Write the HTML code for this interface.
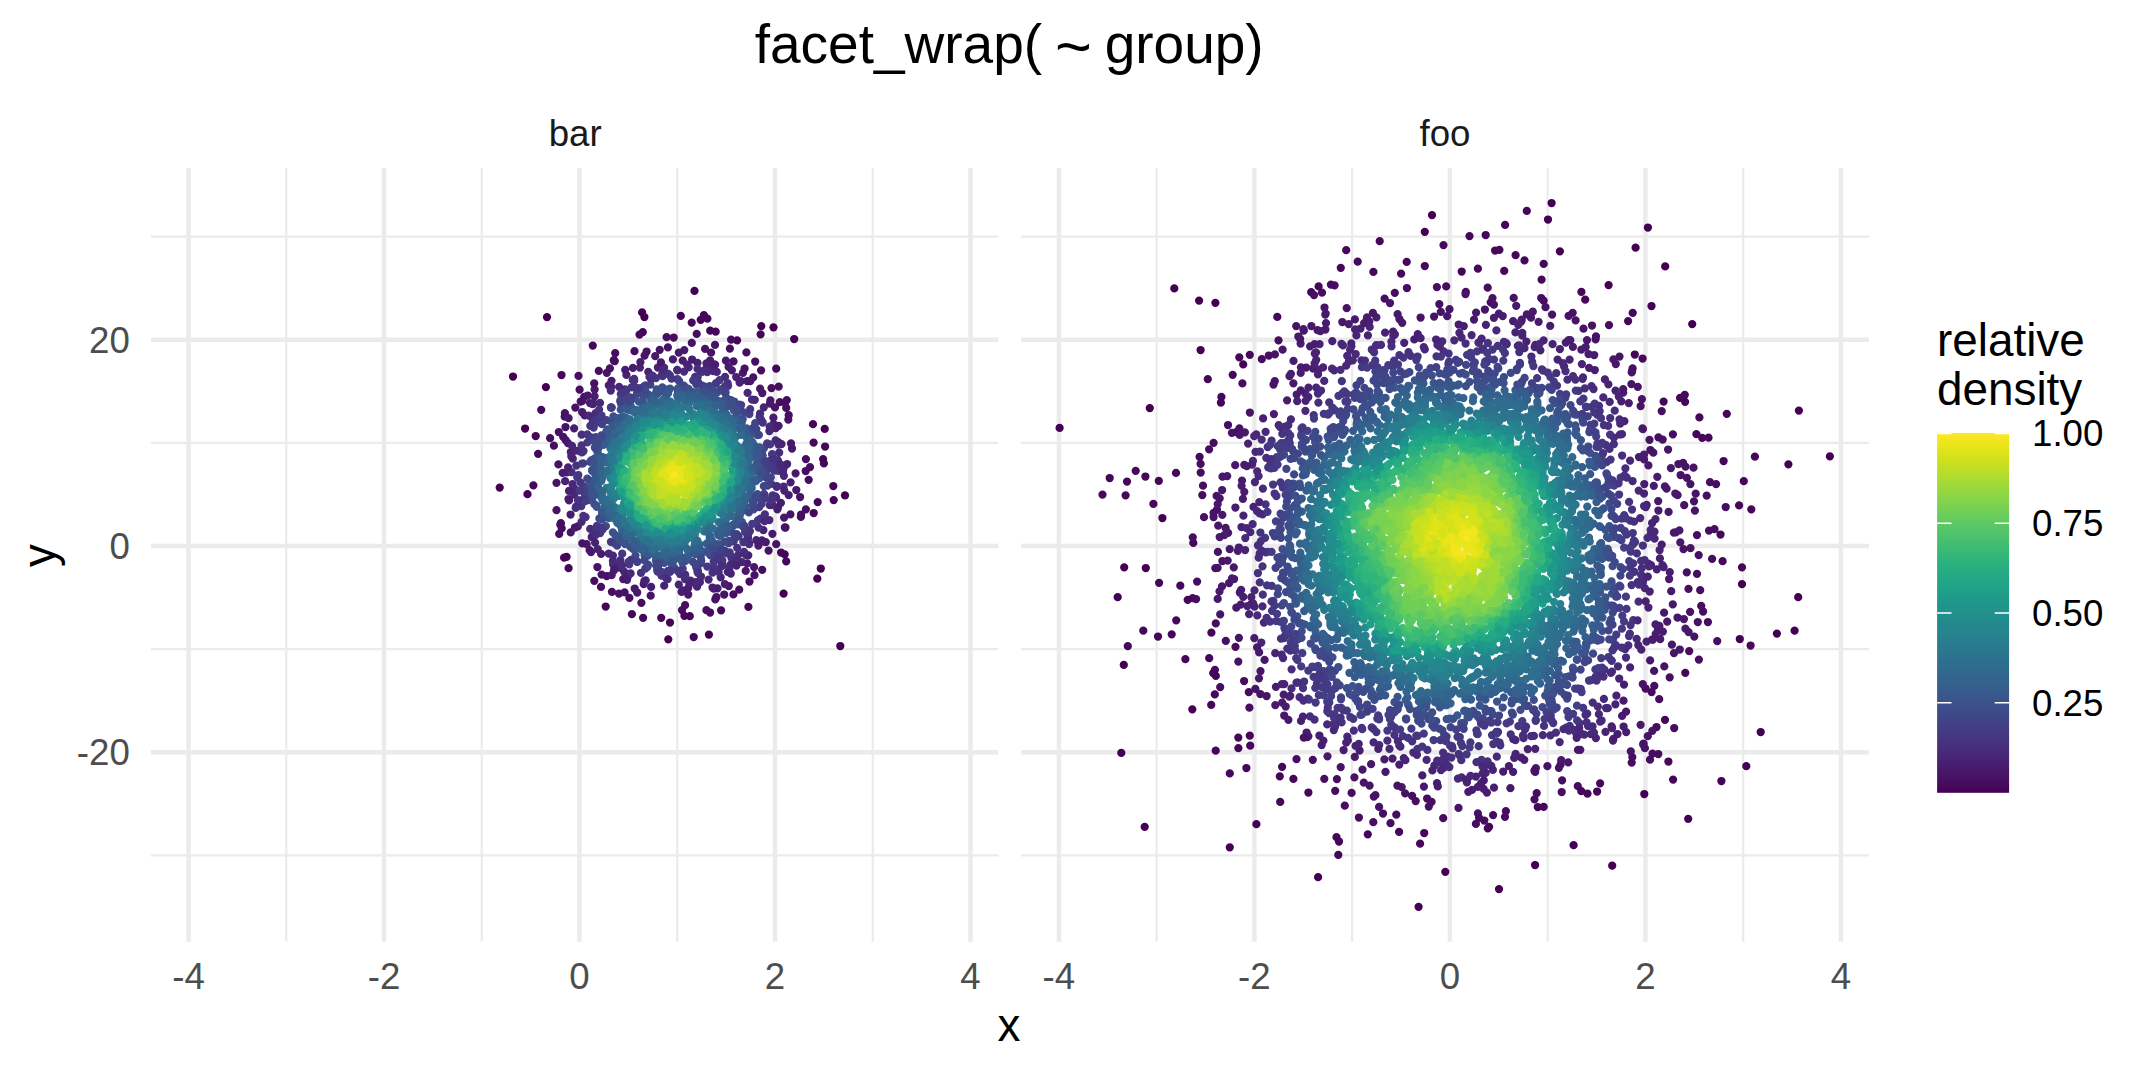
<!DOCTYPE html>
<html lang="en"><head><meta charset="utf-8"><title>facet_wrap( ~ group)</title>
<style>
html,body{margin:0;padding:0;background:#fff;overflow:hidden}
svg{display:block}
text{font-family:"Liberation Sans",Arial,Helvetica,sans-serif}
.dots path{fill:none;stroke-width:8.25;stroke-linecap:round}
.c0{stroke:#440154}
.c1{stroke:#46075a}
.c2{stroke:#470d60}
.c3{stroke:#471365}
.c4{stroke:#48186a}
.c5{stroke:#481d6f}
.c6{stroke:#482374}
.c7{stroke:#482878}
.c8{stroke:#472d7b}
.c9{stroke:#46327e}
.c10{stroke:#453781}
.c11{stroke:#443b84}
.c12{stroke:#424086}
.c13{stroke:#404588}
.c14{stroke:#3e4989}
.c15{stroke:#3d4e8a}
.c16{stroke:#3a538b}
.c17{stroke:#38588c}
.c18{stroke:#365c8d}
.c19{stroke:#34608d}
.c20{stroke:#32648e}
.c21{stroke:#31688e}
.c22{stroke:#2f6c8e}
.c23{stroke:#2d708e}
.c24{stroke:#2c738e}
.c25{stroke:#2a778e}
.c26{stroke:#297b8e}
.c27{stroke:#277f8e}
.c28{stroke:#26828e}
.c29{stroke:#24868e}
.c30{stroke:#238a8d}
.c31{stroke:#218e8d}
.c32{stroke:#20928c}
.c33{stroke:#1f968b}
.c34{stroke:#1f9a8a}
.c35{stroke:#1f9e89}
.c36{stroke:#1fa187}
.c37{stroke:#21a585}
.c38{stroke:#23a983}
.c39{stroke:#26ad81}
.c40{stroke:#2ab07f}
.c41{stroke:#2fb47c}
.c42{stroke:#35b779}
.c43{stroke:#3bbb75}
.c44{stroke:#42be71}
.c45{stroke:#4ac16d}
.c46{stroke:#52c569}
.c47{stroke:#5ac864}
.c48{stroke:#65cb5e}
.c49{stroke:#6ece58}
.c50{stroke:#77d153}
.c51{stroke:#81d34d}
.c52{stroke:#8bd646}
.c53{stroke:#95d840}
.c54{stroke:#a0da39}
.c55{stroke:#aadc32}
.c56{stroke:#b5de2b}
.c57{stroke:#c0df25}
.c58{stroke:#cae11f}
.c59{stroke:#d5e21a}
.c60{stroke:#dfe318}
.c61{stroke:#eae51a}
.c62{stroke:#f4e61e}
.c63{stroke:#fde725}
</style></head><body>
<svg width="2149" height="1074" viewBox="0 0 2149 1074">
<rect width="2149" height="1074" fill="#fff"/>
<defs><linearGradient id="vg" x1="0" y1="0" x2="0" y2="1">
<stop offset="0.0000" stop-color="#fde725"/>
<stop offset="0.0312" stop-color="#ece51b"/>
<stop offset="0.0625" stop-color="#d8e219"/>
<stop offset="0.0938" stop-color="#c2df23"/>
<stop offset="0.1250" stop-color="#addc30"/>
<stop offset="0.1562" stop-color="#98d83e"/>
<stop offset="0.1875" stop-color="#84d44b"/>
<stop offset="0.2188" stop-color="#70cf57"/>
<stop offset="0.2500" stop-color="#5ec962"/>
<stop offset="0.2812" stop-color="#4ec36b"/>
<stop offset="0.3125" stop-color="#3fbc73"/>
<stop offset="0.3438" stop-color="#32b67a"/>
<stop offset="0.3750" stop-color="#28ae80"/>
<stop offset="0.4062" stop-color="#22a785"/>
<stop offset="0.4375" stop-color="#1fa088"/>
<stop offset="0.4688" stop-color="#1f988b"/>
<stop offset="0.5000" stop-color="#21918c"/>
<stop offset="0.5312" stop-color="#23898e"/>
<stop offset="0.5625" stop-color="#26828e"/>
<stop offset="0.5938" stop-color="#297a8e"/>
<stop offset="0.6250" stop-color="#2c728e"/>
<stop offset="0.6562" stop-color="#2f6b8e"/>
<stop offset="0.6875" stop-color="#33638d"/>
<stop offset="0.7188" stop-color="#375b8d"/>
<stop offset="0.7500" stop-color="#3b528b"/>
<stop offset="0.7812" stop-color="#3e4989"/>
<stop offset="0.8125" stop-color="#424086"/>
<stop offset="0.8438" stop-color="#453781"/>
<stop offset="0.8750" stop-color="#472d7b"/>
<stop offset="0.9062" stop-color="#482374"/>
<stop offset="0.9375" stop-color="#48186a"/>
<stop offset="0.9688" stop-color="#470d60"/>
<stop offset="1.0000" stop-color="#440154"/>
</linearGradient></defs>
<g stroke="#ebebeb" fill="none">
<path d="M150.9 855.30H998.3" stroke-width="2.2"/>
<path d="M150.9 649.10H998.3" stroke-width="2.2"/>
<path d="M150.9 442.90H998.3" stroke-width="2.2"/>
<path d="M150.9 236.70H998.3" stroke-width="2.2"/>
<path d="M286.25 168.0V941.7" stroke-width="2.2"/>
<path d="M481.75 168.0V941.7" stroke-width="2.2"/>
<path d="M677.25 168.0V941.7" stroke-width="2.2"/>
<path d="M872.75 168.0V941.7" stroke-width="2.2"/>
<path d="M150.9 752.20H998.3" stroke-width="4.45"/>
<path d="M150.9 546.00H998.3" stroke-width="4.45"/>
<path d="M150.9 339.80H998.3" stroke-width="4.45"/>
<path d="M188.50 168.0V941.7" stroke-width="4.45"/>
<path d="M384.00 168.0V941.7" stroke-width="4.45"/>
<path d="M579.50 168.0V941.7" stroke-width="4.45"/>
<path d="M775.00 168.0V941.7" stroke-width="4.45"/>
<path d="M970.50 168.0V941.7" stroke-width="4.45"/>
<path d="M1021.1 855.30H1868.9" stroke-width="2.2"/>
<path d="M1021.1 649.10H1868.9" stroke-width="2.2"/>
<path d="M1021.1 442.90H1868.9" stroke-width="2.2"/>
<path d="M1021.1 236.70H1868.9" stroke-width="2.2"/>
<path d="M1156.65 168.0V941.7" stroke-width="2.2"/>
<path d="M1352.15 168.0V941.7" stroke-width="2.2"/>
<path d="M1547.65 168.0V941.7" stroke-width="2.2"/>
<path d="M1743.15 168.0V941.7" stroke-width="2.2"/>
<path d="M1021.1 752.20H1868.9" stroke-width="4.45"/>
<path d="M1021.1 546.00H1868.9" stroke-width="4.45"/>
<path d="M1021.1 339.80H1868.9" stroke-width="4.45"/>
<path d="M1058.90 168.0V941.7" stroke-width="4.45"/>
<path d="M1254.40 168.0V941.7" stroke-width="4.45"/>
<path d="M1449.90 168.0V941.7" stroke-width="4.45"/>
<path d="M1645.40 168.0V941.7" stroke-width="4.45"/>
<path d="M1840.90 168.0V941.7" stroke-width="4.45"/>
</g>
<g class="dots">
<path class="c0" d="M642.1 312.4h0M525.1 428.5h0M794.2 339.0h0M547.0 317.1h0"/>
<path class="c1" d="M737.1 340.3h0M721.1 610.3h0M823.1 459.1h0M592.8 345.6h0"/>
<path class="c2" d="M560.3 524.7h0M673.7 337.5h0M594.3 580.8h0M579.6 389.7h0"/>
<path class="c3" d="M601.6 574.6h0M716.4 597.0h0M667.9 347.4h0M691.8 342.9h0M650.7 595.7h0M558.8 432.0h0M584.2 396.9h0M733.5 361.4h0M606.7 576.0h0"/>
<path class="c4" d="M589.6 550.2h0M634.7 588.5h0M594.6 389.5h0M754.1 567.2h0"/>
<path class="c5" d="M611.5 380.8h0M717.5 588.3h0M632.9 367.9h0"/>
<path class="c6" d="M775.8 428.1h0M773.5 423.9h0M566.8 472.4h0"/>
<path class="c7" d="M716.8 371.9h0M778.3 442.2h0M620.7 564.4h0M699.9 582.2h0"/>
<path class="c8" d="M725.1 376.8h0M771.3 505.0h0M760.1 413.5h0M571.5 472.0h0M620.3 560.1h0"/>
<path class="c9" d="M661.5 575.7h0"/>
<path class="c10" d="M622.7 390.3h0M716.0 559.9h0M657.6 571.7h0M600.1 533.0h0M623.9 392.0h0"/>
<path class="c11" d="M752.2 523.9h0M677.4 379.0h0M597.2 526.8h0M584.7 493.2h0"/>
<path class="c12" d="M650.3 384.7h0M587.1 493.0h0"/>
<path class="c13" d="M757.5 435.1h0M637.0 393.5h0M744.3 412.6h0"/>
<path class="c14" d="M732.2 532.6h0M739.1 407.3h0"/>
<path class="c15" d="M661.3 561.2h0M720.7 544.3h0"/>
<path class="c16" d="M759.7 478.1h0M607.7 429.3h0M593.2 482.0h0M684.3 389.5h0M726.1 533.2h0M666.7 389.5h0"/>
<path class="c17" d="M647.8 555.6h0M644.6 555.4h0M692.5 392.1h0M746.7 428.4h0"/>
<path class="c18" d="M755.4 457.2h0M720.7 404.6h0M724.1 406.1h0M752.6 442.4h0M740.2 513.3h0M627.2 409.6h0M711.6 540.5h0M708.4 397.6h0M698.5 394.8h0"/>
<path class="c19" d="M606.3 511.3h0M654.3 553.9h0M626.8 537.8h0M661.9 555.5h0M641.2 548.3h0"/>
<path class="c20" d="M623.0 422.1h0M606.3 443.5h0M740.0 429.2h0M651.8 402.1h0M599.9 475.2h0"/>
<path class="c21" d="M664.5 401.8h0M648.7 406.2h0M675.8 551.2h0M724.4 521.8h0M602.5 471.5h0M703.7 402.8h0M603.0 500.9h0M645.6 406.7h0"/>
<path class="c22" d="M695.2 544.3h0M605.7 503.5h0M670.3 401.5h0M748.9 449.9h0M648.6 547.8h0"/>
<path class="c23" d="M668.9 405.1h0M609.9 506.2h0M719.9 522.8h0M660.8 406.6h0M610.5 448.6h0M744.7 446.5h0M744.4 446.9h0M745.2 457.2h0M638.5 539.7h0"/>
<path class="c24" d="M606.9 500.6h0M743.7 454.8h0M742.4 488.7h0M673.8 404.3h0"/>
<path class="c25" d="M645.2 537.0h0M732.7 503.6h0M614.6 508.8h0M743.4 456.8h0M636.7 532.2h0M618.6 512.7h0M618.1 441.0h0M618.9 513.7h0M612.9 505.6h0M738.9 492.3h0M616.8 443.5h0"/>
<path class="c26" d="M621.8 437.3h0M740.3 485.5h0M725.1 426.8h0"/>
<path class="c27" d="M664.8 413.0h0M685.2 537.4h0M636.6 422.5h0M611.5 469.6h0M680.6 410.9h0M646.6 535.2h0M670.2 542.5h0M709.4 523.4h0"/>
<path class="c28" d="M734.7 447.9h0M639.1 423.0h0M621.5 509.3h0M664.6 418.0h0M666.4 539.2h0M659.8 538.8h0"/>
<path class="c29" d="M685.9 532.7h0M724.9 504.9h0M629.2 434.1h0M685.0 532.6h0M686.7 416.6h0M728.3 436.2h0M669.6 416.0h0M736.3 486.3h0"/>
<path class="c30" d="M638.9 525.6h0M653.4 420.7h0M728.2 440.2h0M690.3 528.8h0M624.5 509.0h0M674.5 536.9h0"/>
<path class="c31" d="M616.3 472.4h0M649.1 422.3h0M736.8 478.6h0M619.7 495.9h0M672.5 420.0h0M681.8 417.8h0"/>
<path class="c32" d="M694.3 418.5h0"/>
<path class="c33" d="M696.2 523.2h0M705.9 422.5h0"/>
<path class="c34" d="M679.9 422.6h0M645.0 429.1h0"/>
<path class="c35" d="M633.7 441.7h0M674.7 423.5h0M713.7 432.3h0M723.9 496.7h0M678.5 529.9h0"/>
<path class="c37" d="M714.5 506.4h0M687.3 425.5h0M731.2 461.8h0"/>
<path class="c38" d="M629.5 504.2h0M633.3 509.7h0M622.8 460.5h0"/>
<path class="c39" d="M673.3 525.6h0M730.5 463.1h0M730.8 466.4h0M694.3 428.6h0M725.7 450.4h0"/>
<path class="c40" d="M629.3 450.6h0M712.2 506.1h0M622.5 475.5h0"/>
<path class="c41" d="M624.0 490.0h0M638.3 446.0h0"/>
<path class="c42" d="M672.8 523.2h0M632.0 451.4h0M693.2 431.2h0"/>
<path class="c44" d="M719.5 487.7h0M650.3 518.7h0M709.5 503.6h0M630.6 485.2h0"/>
<path class="c45" d="M685.0 435.4h0M667.2 520.9h0M634.9 456.6h0M630.7 489.2h0"/>
<path class="c46" d="M717.1 491.6h0M639.9 453.5h0M643.2 451.0h0M672.1 433.7h0"/>
<path class="c47" d="M633.4 461.1h0M639.6 505.0h0M631.1 475.5h0M688.6 439.4h0M686.2 512.7h0M705.2 502.6h0M674.3 435.5h0"/>
<path class="c48" d="M719.7 472.8h0M702.6 501.4h0M653.7 441.9h0M710.2 493.6h0M710.9 449.0h0M635.6 461.6h0M719.8 475.6h0"/>
<path class="c49" d="M645.9 452.9h0M697.9 506.4h0M635.7 473.2h0M638.2 498.1h0"/>
<path class="c50" d="M709.9 490.4h0M640.0 466.7h0M713.6 482.2h0"/>
<path class="c51" d="M708.2 490.7h0M709.5 458.3h0M701.6 452.2h0M656.5 507.1h0M663.0 442.8h0M717.0 472.1h0M661.5 444.9h0M712.4 462.1h0M713.6 481.0h0"/>
<path class="c52" d="M651.6 457.3h0M714.3 473.1h0M663.8 445.2h0M667.0 507.5h0"/>
<path class="c53" d="M643.4 471.6h0M656.5 455.3h0M677.8 507.0h0M692.6 499.6h0M661.5 506.4h0M656.4 504.7h0M711.5 475.9h0M657.1 454.5h0M700.3 453.8h0M665.0 504.3h0M653.4 458.6h0M677.3 508.0h0M702.7 489.1h0M647.7 490.2h0"/>
<path class="c54" d="M705.2 486.6h0M695.7 497.1h0M688.5 502.7h0M655.4 498.7h0"/>
<path class="c55" d="M684.3 449.2h0M699.7 464.5h0M648.5 485.7h0M654.9 497.3h0M648.6 474.7h0M707.1 477.3h0M688.1 452.9h0M689.0 455.8h0M705.7 477.6h0M708.9 469.4h0"/>
<path class="c56" d="M688.9 454.6h0M687.2 499.4h0M685.0 499.9h0M686.9 453.3h0M652.7 490.6h0M701.3 467.2h0"/>
<path class="c57" d="M659.2 485.8h0M700.6 470.6h0M650.5 474.0h0M675.0 495.2h0M701.4 477.7h0M651.6 478.9h0M692.9 489.3h0M665.9 495.3h0"/>
<path class="c58" d="M689.0 461.0h0M662.9 487.3h0M683.1 488.8h0M683.7 484.7h0M655.3 474.3h0M687.5 492.5h0M657.4 484.4h0"/>
<path class="c59" d="M678.1 459.0h0M680.6 463.6h0M690.1 472.9h0M689.0 475.2h0"/>
<path class="c60" d="M668.7 466.1h0M668.0 469.6h0M670.9 482.2h0"/>
<path class="c61" d="M680.9 478.5h0M682.4 472.8h0M674.7 480.4h0M675.3 477.8h0"/>
<path class="c62" d="M676.2 475.9h0M675.8 476.2h0M672.8 476.2h0"/>
<path class="c62" d="M679.4 469.2h0"/>
<path class="c61" d="M667.2 476.8h0M679.5 479.4h0M673.2 478.8h0M680.8 473.0h0"/>
<path class="c60" d="M668.5 483.9h0M666.9 481.1h0M686.6 473.4h0M665.0 467.3h0"/>
<path class="c59" d="M690.8 481.4h0M676.2 487.5h0M660.3 473.7h0M664.4 479.6h0M666.5 464.9h0"/>
<path class="c58" d="M687.0 487.7h0M689.0 468.0h0M656.9 473.1h0M668.7 458.9h0M667.4 490.1h0M664.6 488.4h0M693.2 485.1h0M653.6 475.2h0M698.6 477.2h0M685.4 461.5h0M653.9 479.9h0M656.6 483.1h0M689.9 484.7h0M686.8 490.8h0M672.1 491.4h0"/>
<path class="c57" d="M674.2 498.0h0M683.3 456.8h0M673.0 497.2h0M697.4 485.7h0M699.3 478.4h0M694.6 467.9h0M653.8 471.8h0M674.5 498.6h0M650.4 473.8h0M680.3 458.1h0"/>
<path class="c56" d="M700.9 482.6h0M658.5 461.2h0"/>
<path class="c55" d="M651.5 465.0h0M697.3 489.6h0M671.7 452.0h0M645.2 481.6h0M697.9 458.0h0M644.9 479.5h0M680.2 502.5h0M651.7 467.6h0"/>
<path class="c54" d="M643.6 479.2h0"/>
<path class="c53" d="M700.6 453.8h0M651.4 499.4h0M643.3 469.8h0M661.5 504.8h0M644.4 488.4h0"/>
<path class="c52" d="M641.3 486.5h0M642.2 489.6h0M714.6 466.5h0M699.1 451.0h0M692.8 504.4h0M656.1 450.3h0"/>
<path class="c51" d="M711.5 461.5h0M651.3 451.8h0M711.4 482.2h0M653.2 451.5h0M673.1 441.8h0M640.8 492.5h0"/>
<path class="c50" d="M717.1 471.9h0M664.9 442.3h0M689.6 508.7h0M714.8 479.9h0M701.9 446.2h0M715.6 479.6h0M692.0 443.9h0M649.7 504.6h0"/>
<path class="c49" d="M636.0 482.1h0M676.0 511.7h0M701.3 500.8h0M687.2 510.2h0M715.2 483.8h0M684.2 511.4h0"/>
<path class="c48" d="M719.5 475.2h0M635.9 461.6h0M664.7 516.9h0"/>
<path class="c47" d="M634.6 488.8h0M652.6 515.1h0M722.2 476.7h0M650.0 446.2h0M634.6 491.6h0M721.8 467.8h0"/>
<path class="c46" d="M710.6 495.8h0M654.8 518.5h0M716.7 491.9h0M659.7 518.2h0M647.0 447.6h0"/>
<path class="c45" d="M633.0 457.4h0M633.3 457.2h0M688.5 437.4h0M707.4 503.7h0"/>
<path class="c44" d="M646.4 445.3h0M683.6 434.0h0M632.9 494.3h0M644.7 447.2h0"/>
<path class="c43" d="M668.7 522.6h0M721.2 487.4h0M726.8 477.8h0M669.7 429.8h0M633.5 452.7h0"/>
<path class="c42" d="M665.0 524.3h0M634.7 506.3h0M655.1 524.5h0M636.6 507.0h0M706.6 508.9h0M630.2 498.1h0"/>
<path class="c41" d="M649.8 435.2h0M691.8 432.2h0M703.6 511.6h0M624.7 471.1h0M661.0 430.0h0M640.7 444.3h0M664.6 525.0h0M690.6 430.0h0M630.6 501.6h0"/>
<path class="c40" d="M705.4 432.4h0M642.9 519.7h0"/>
<path class="c39" d="M701.0 515.7h0M687.9 521.9h0M661.5 528.3h0M626.9 496.8h0M647.4 523.7h0"/>
<path class="c38" d="M651.1 430.1h0M723.4 494.0h0M624.4 492.8h0M664.0 528.4h0M692.0 426.6h0M687.6 522.4h0"/>
<path class="c37" d="M730.4 460.2h0M707.3 513.7h0M653.5 527.6h0"/>
<path class="c36" d="M619.1 482.3h0M725.3 446.5h0"/>
<path class="c35" d="M646.9 426.4h0M643.1 431.8h0M716.8 433.5h0"/>
<path class="c34" d="M697.3 521.5h0M692.7 524.5h0"/>
<path class="c33" d="M679.4 531.1h0"/>
<path class="c32" d="M645.4 425.4h0M673.0 532.2h0M642.5 427.7h0M730.3 451.0h0M705.7 518.9h0"/>
<path class="c31" d="M693.6 418.3h0M705.5 519.8h0M703.9 418.5h0M736.4 467.2h0M710.8 517.2h0"/>
<path class="c30" d="M727.2 437.1h0M729.5 444.6h0M719.2 428.0h0M625.5 510.0h0"/>
<path class="c29" d="M720.1 512.4h0M729.7 441.7h0M678.3 414.3h0M719.8 512.7h0M676.1 538.8h0M617.9 451.1h0"/>
<path class="c28" d="M736.6 449.7h0M614.0 498.4h0"/>
<path class="c27" d="M625.0 434.1h0M734.0 441.9h0M646.1 417.0h0M611.7 467.7h0M610.5 478.3h0"/>
<path class="c26" d="M632.8 424.3h0M629.7 428.8h0M633.3 527.2h0"/>
<path class="c25" d="M615.3 507.5h0M665.8 410.2h0M612.6 452.6h0M735.9 436.7h0M655.5 543.6h0M664.9 545.8h0M686.3 539.9h0"/>
<path class="c24" d="M742.0 493.3h0M667.4 405.4h0M730.7 510.0h0M607.8 499.7h0M626.0 524.4h0M744.7 458.8h0"/>
<path class="c23" d="M605.3 473.7h0M737.8 499.3h0M653.1 407.2h0M697.3 404.7h0"/>
<path class="c22" d="M748.7 465.9h0M628.0 419.1h0M643.8 410.8h0M636.7 414.2h0"/>
<path class="c21" d="M622.8 527.2h0"/>
<path class="c20" d="M748.0 438.9h0M686.1 397.5h0M753.2 471.9h0M709.8 536.2h0M743.5 500.5h0"/>
<path class="c19" d="M718.5 533.0h0M753.1 453.7h0M738.8 423.2h0M708.5 399.2h0M735.8 517.1h0M690.8 552.7h0M710.3 538.4h0"/>
<path class="c18" d="M741.9 511.2h0M675.6 556.5h0M723.5 529.3h0M709.3 397.7h0M702.2 398.2h0M735.7 418.5h0M750.1 493.8h0"/>
<path class="c17" d="M745.8 506.3h0M735.3 523.2h0M613.8 423.7h0"/>
<path class="c16" d="M685.6 560.9h0M605.1 436.7h0M595.9 457.8h0M593.7 495.2h0M670.4 561.2h0M602.8 438.0h0M761.0 469.5h0"/>
<path class="c15" d="M593.8 459.1h0M599.0 444.3h0M685.5 387.3h0M592.4 492.4h0M611.6 422.0h0"/>
<path class="c14" d="M715.2 392.3h0M748.8 512.4h0M683.8 385.6h0M634.5 398.4h0M621.3 404.6h0"/>
<path class="c13" d="M764.0 448.1h0M595.8 437.1h0M606.4 420.0h0"/>
<path class="c12" d="M709.8 386.2h0M645.6 385.3h0M630.9 397.6h0M679.2 381.1h0"/>
<path class="c11" d="M658.7 570.2h0M771.1 483.9h0M759.1 507.2h0M761.5 504.0h0M596.9 525.8h0"/>
<path class="c10" d="M677.6 570.8h0M670.0 375.4h0"/>
<path class="c9" d="M778.5 470.9h0M595.9 529.8h0M761.1 419.6h0M731.4 557.8h0M680.1 574.0h0M594.6 529.9h0"/>
<path class="c8" d="M684.0 371.6h0M595.5 413.3h0M575.7 507.8h0M738.1 555.2h0"/>
<path class="c7" d="M608.8 553.5h0M572.9 491.6h0"/>
<path class="c6" d="M740.9 381.2h0M739.6 382.6h0M697.5 362.8h0M664.2 585.7h0M657.9 367.5h0M639.9 367.6h0"/>
<path class="c5" d="M788.7 495.1h0M681.6 591.9h0M761.9 540.3h0M608.8 385.3h0M710.1 360.5h0M582.1 412.0h0M567.9 443.0h0M682.7 360.7h0"/>
<path class="c4" d="M577.8 526.4h0M688.2 594.5h0M728.8 586.0h0M760.1 388.7h0M587.7 395.5h0"/>
<path class="c3" d="M580.7 401.5h0M556.5 510.2h0M659.7 349.8h0M715.3 599.4h0M790.4 514.4h0M775.0 407.4h0"/>
<path class="c2" d="M559.2 533.9h0M710.1 612.5h0M611.9 591.8h0M550.1 438.2h0M685.1 605.2h0"/>
<path class="c1" d="M670.0 622.5h0M813.6 442.6h0M825.1 446.5h0M561.5 375.0h0M566.6 556.8h0"/>
<path class="c0" d="M708.9 634.6h0"/>
<path class="c0" d="M773.5 327.3h0"/>
<path class="c1" d="M817.7 502.1h0M833.3 486.0h0M786.2 561.3h0"/>
<path class="c2" d="M733.4 594.4h0M682.0 610.1h0M560.9 523.2h0M641.4 602.8h0M771.5 388.1h0M805.9 509.3h0M746.4 352.4h0M601.0 586.9h0"/>
<path class="c3" d="M788.3 419.6h0M724.2 594.5h0M564.7 416.7h0M705.1 348.9h0M776.2 544.1h0M785.5 527.5h0"/>
<path class="c4" d="M792.0 448.5h0M637.2 592.5h0M796.3 490.0h0"/>
<path class="c5" d="M688.3 587.8h0M643.7 584.1h0M777.4 509.3h0M715.1 364.7h0M731.9 370.3h0"/>
<path class="c6" d="M569.1 500.4h0M756.3 540.2h0M727.8 571.9h0M763.4 530.1h0M736.2 377.0h0M711.7 364.9h0"/>
<path class="c7" d="M574.2 494.6h0M775.6 440.4h0M581.6 521.8h0M690.9 581.9h0M690.6 580.7h0M706.8 368.0h0M572.8 458.7h0"/>
<path class="c8" d="M662.9 372.0h0M758.6 527.7h0M722.7 565.2h0M749.1 543.1h0M707.3 372.1h0M769.7 505.2h0"/>
<path class="c9" d="M641.0 572.9h0M713.9 567.3h0M581.3 506.0h0M731.7 556.8h0"/>
<path class="c10" d="M620.8 394.1h0M583.7 499.1h0M728.1 385.8h0M662.6 376.2h0M610.9 541.8h0M774.7 467.2h0"/>
<path class="c11" d="M645.4 568.5h0M770.1 460.7h0M733.6 541.4h0"/>
<path class="c12" d="M749.4 414.1h0M700.8 563.0h0M585.0 491.0h0M715.4 555.3h0M695.9 381.4h0M736.7 534.1h0"/>
<path class="c13" d="M756.3 429.1h0M588.8 500.2h0M701.3 560.8h0M658.3 565.6h0"/>
<path class="c14" d="M641.2 393.3h0M713.0 389.7h0M590.1 461.9h0M705.7 388.7h0M764.2 467.2h0"/>
<path class="c15" d="M630.5 546.9h0M655.9 560.7h0M613.4 416.3h0M632.9 548.9h0M662.3 387.3h0M760.9 457.9h0M592.1 470.8h0M733.5 405.5h0M656.7 389.3h0M664.3 562.9h0"/>
<path class="c16" d="M593.7 460.0h0M755.4 496.0h0M738.4 524.3h0M648.6 394.6h0"/>
<path class="c17" d="M711.5 542.0h0M750.8 499.0h0M700.8 551.6h0M642.8 400.6h0M689.7 391.9h0"/>
<path class="c18" d="M720.2 535.9h0"/>
<path class="c19" d="M709.7 538.8h0M654.6 553.9h0M651.2 401.3h0"/>
<path class="c20" d="M643.7 549.1h0M726.6 414.7h0M604.7 507.2h0M623.7 532.3h0M623.8 418.4h0M601.3 497.7h0M725.4 522.6h0M626.2 417.8h0"/>
<path class="c21" d="M731.2 422.1h0M722.4 413.7h0M602.5 499.6h0M613.7 438.5h0M721.6 412.8h0M746.6 443.1h0"/>
<path class="c22" d="M614.0 438.9h0M725.9 418.3h0M626.3 421.6h0M605.4 471.1h0M710.1 406.9h0"/>
<path class="c23" d="M714.3 412.4h0M621.0 520.4h0M617.1 438.8h0M720.2 417.1h0M694.5 540.2h0M656.2 547.1h0M689.6 402.6h0M642.2 540.3h0M648.3 409.2h0"/>
<path class="c24" d="M608.0 474.1h0M654.8 544.9h0"/>
<path class="c25" d="M637.9 418.4h0M621.0 516.6h0M686.9 406.7h0M623.3 519.4h0M688.0 537.9h0M627.1 428.0h0M719.8 420.1h0M739.4 490.3h0M640.3 416.7h0"/>
<path class="c26" d="M741.9 480.3h0M725.8 427.1h0M689.1 536.6h0M737.9 491.6h0M693.1 536.6h0M666.1 412.9h0M649.3 415.2h0M694.8 534.8h0M732.5 499.5h0"/>
<path class="c27" d="M662.0 415.8h0M620.5 510.3h0M622.5 514.5h0M739.6 453.1h0M611.2 474.9h0"/>
<path class="c28" d="M667.5 418.2h0M734.7 491.8h0M662.2 538.9h0M735.4 490.4h0M616.2 495.8h0"/>
<path class="c29" d="M733.6 446.4h0M739.4 467.0h0M640.0 527.8h0M736.8 463.2h0"/>
<path class="c30" d="M658.7 418.5h0M651.0 421.2h0M719.3 510.5h0M692.8 415.7h0"/>
<path class="c31" d="M672.7 418.4h0M620.2 453.9h0M620.2 457.2h0M667.1 534.2h0M703.7 519.8h0"/>
<path class="c32" d="M722.8 436.2h0M616.7 464.0h0"/>
<path class="c33" d="M725.7 496.0h0"/>
<path class="c34" d="M629.0 508.5h0M728.3 493.2h0M719.2 504.4h0"/>
<path class="c35" d="M619.0 490.8h0M620.3 460.9h0"/>
<path class="c36" d="M623.5 495.8h0"/>
<path class="c37" d="M674.0 424.9h0M731.8 478.3h0M701.7 425.8h0M620.1 482.4h0"/>
<path class="c38" d="M684.1 524.2h0M677.8 426.2h0M670.8 527.6h0"/>
<path class="c39" d="M718.8 438.8h0"/>
<path class="c40" d="M691.9 427.9h0M722.9 492.0h0M638.6 512.8h0M674.5 428.7h0"/>
<path class="c41" d="M694.1 430.7h0M653.7 524.8h0M638.7 445.1h0M709.3 506.6h0"/>
<path class="c42" d="M681.3 431.5h0M638.9 509.4h0"/>
<path class="c43" d="M661.5 431.6h0M681.4 433.0h0M638.6 449.1h0M697.1 434.9h0"/>
<path class="c44" d="M634.0 502.0h0M649.4 438.1h0M725.1 479.1h0M722.8 463.8h0"/>
<path class="c45" d="M673.9 433.3h0M725.0 464.5h0M679.7 520.0h0"/>
<path class="c46" d="M631.8 461.1h0M724.0 468.8h0M722.8 470.0h0M658.6 437.4h0M711.4 494.2h0M711.3 444.0h0"/>
<path class="c47" d="M722.9 466.1h0M673.9 515.9h0M695.4 438.7h0M644.7 451.2h0"/>
<path class="c48" d="M712.4 451.2h0M680.4 438.3h0M635.5 467.1h0M636.2 488.7h0M703.2 444.5h0M689.6 510.5h0"/>
<path class="c49" d="M706.9 450.5h0M693.0 441.8h0M648.1 506.1h0M635.7 471.9h0M683.5 440.4h0M682.6 440.2h0"/>
<path class="c50" d="M667.2 511.2h0M697.4 505.5h0M700.9 448.0h0"/>
<path class="c51" d="M701.4 497.9h0M655.8 447.8h0M649.0 502.9h0M687.8 442.2h0M713.4 481.1h0M638.0 472.0h0"/>
<path class="c52" d="M679.8 444.1h0M710.5 483.2h0M646.8 465.0h0M696.2 448.8h0M646.6 464.3h0M665.3 508.4h0M686.8 446.5h0M641.2 467.2h0M704.0 495.1h0"/>
<path class="c53" d="M684.9 506.6h0M646.5 494.2h0M641.8 483.5h0M655.7 502.8h0M704.0 489.4h0M708.9 462.9h0M697.9 496.9h0M655.2 456.2h0M668.7 507.5h0M645.8 468.3h0M644.5 472.9h0"/>
<path class="c54" d="M705.6 464.0h0M662.1 502.3h0"/>
<path class="c55" d="M651.1 489.6h0M690.1 497.9h0M704.9 479.4h0M690.6 453.1h0M654.3 497.2h0M686.4 449.9h0M662.8 454.1h0M685.6 451.1h0"/>
<path class="c56" d="M654.0 492.2h0M687.3 455.4h0M688.8 458.0h0M656.6 462.9h0M662.5 457.2h0M657.4 491.0h0M683.2 452.1h0M695.0 488.9h0M691.6 494.0h0M659.8 497.1h0M696.9 465.2h0"/>
<path class="c57" d="M689.1 492.2h0M661.6 466.0h0M701.8 470.9h0M699.1 468.4h0M673.9 495.5h0"/>
<path class="c58" d="M682.4 492.7h0M685.2 485.3h0M689.3 484.2h0M657.4 474.4h0M675.4 458.0h0M683.6 484.9h0M697.5 476.9h0"/>
<path class="c59" d="M675.8 487.5h0M671.6 463.4h0M687.3 472.2h0"/>
<path class="c60" d="M685.5 468.2h0M664.9 468.2h0M682.9 473.8h0M689.6 474.9h0M672.9 482.4h0"/>
<path class="c61" d="M673.3 469.2h0M676.8 482.9h0"/>
<path class="c62" d="M673.2 472.9h0"/>
<path class="c62" d="M674.8 476.9h0"/>
<path class="c61" d="M677.2 471.1h0M673.3 479.4h0M665.2 475.0h0M682.5 477.3h0M676.4 481.0h0M667.8 478.3h0"/>
<path class="c60" d="M676.8 480.2h0M669.2 468.8h0M676.7 469.0h0M672.9 468.6h0"/>
<path class="c59" d="M676.5 464.8h0M675.0 488.7h0M682.1 482.6h0M674.7 462.7h0M693.2 471.2h0M676.5 457.7h0"/>
<path class="c58" d="M656.6 481.7h0M686.7 484.8h0M689.9 485.7h0M681.5 491.3h0M653.4 480.6h0M660.7 478.1h0M695.1 475.2h0M674.2 461.0h0M679.5 459.2h0M657.6 479.6h0M664.6 460.9h0"/>
<path class="c57" d="M665.0 495.6h0M672.0 492.5h0M692.1 460.9h0M691.8 466.0h0M650.9 474.5h0M673.9 498.8h0M688.8 493.4h0M658.2 487.1h0M674.9 495.6h0"/>
<path class="c56" d="M700.1 466.2h0M660.3 460.8h0M695.6 462.5h0M659.1 466.9h0M658.9 496.0h0M663.3 454.6h0M679.1 451.5h0M675.2 500.1h0M649.6 477.3h0M676.4 496.7h0"/>
<path class="c55" d="M704.9 469.2h0M698.8 489.3h0M687.3 451.5h0M652.6 494.9h0M695.4 493.3h0"/>
<path class="c54" d="M662.9 502.5h0M651.1 465.0h0M663.6 504.0h0M642.4 480.6h0M710.5 467.8h0"/>
<path class="c53" d="M644.1 474.1h0M689.9 446.8h0M663.0 505.4h0M662.9 447.9h0M702.2 455.6h0M669.6 507.8h0M709.1 480.4h0M679.4 445.1h0M710.2 466.6h0M675.1 444.6h0M700.2 454.7h0M653.4 455.5h0"/>
<path class="c52" d="M700.7 495.4h0M650.5 499.3h0M711.7 465.7h0M714.6 472.2h0"/>
<path class="c51" d="M710.7 458.3h0M677.8 510.6h0M686.9 443.0h0M651.7 452.2h0M644.4 460.6h0M662.8 443.4h0"/>
<path class="c50" d="M663.6 512.1h0M712.0 486.4h0M648.7 452.5h0"/>
<path class="c49" d="M637.3 463.8h0M708.7 495.5h0M714.0 459.2h0M634.5 476.7h0M644.3 454.0h0M638.6 486.4h0"/>
<path class="c48" d="M718.6 481.2h0M712.8 454.8h0M677.8 513.5h0M639.5 501.9h0M720.5 470.7h0M634.4 469.3h0M654.8 515.6h0"/>
<path class="c47" d="M703.5 502.3h0M633.3 466.4h0M645.3 449.7h0M722.9 471.9h0M714.2 447.6h0M669.8 516.2h0M678.6 515.7h0"/>
<path class="c46" d="M658.5 436.5h0M644.9 449.3h0M649.7 441.5h0M705.1 440.0h0"/>
<path class="c45" d="M712.2 495.8h0M633.8 457.1h0M689.7 515.9h0"/>
<path class="c44" d="M628.9 472.2h0M651.9 437.6h0M665.5 520.8h0M709.1 439.4h0M718.9 450.8h0M641.8 512.6h0"/>
<path class="c43" d="M719.9 449.0h0"/>
<path class="c42" d="M697.9 433.9h0M717.2 441.6h0M727.4 463.6h0M724.1 455.4h0M634.8 451.3h0"/>
<path class="c41" d="M630.0 453.2h0M713.1 504.4h0M729.8 466.1h0M623.6 470.0h0M721.3 493.5h0M726.0 460.0h0"/>
<path class="c40" d="M657.2 430.0h0M695.2 517.2h0M675.0 428.0h0M627.9 498.0h0M664.9 428.5h0"/>
<path class="c39" d="M685.8 427.5h0M623.2 461.6h0M656.1 527.5h0"/>
<path class="c38" d="M723.1 444.4h0M691.9 424.3h0"/>
<path class="c37" d="M623.3 494.2h0M622.0 468.6h0M620.4 480.3h0"/>
<path class="c36" d="M720.3 438.8h0"/>
<path class="c35" d="M619.4 469.9h0M619.0 490.8h0M635.6 439.9h0M688.1 526.5h0M713.3 430.5h0"/>
<path class="c34" d="M656.8 423.4h0M679.7 421.5h0M639.9 431.7h0"/>
<path class="c33" d="M618.5 475.4h0M681.7 421.6h0M723.4 438.7h0M707.6 515.8h0"/>
<path class="c32" d="M657.5 531.7h0M628.3 443.7h0M734.5 465.3h0"/>
<path class="c31" d="M660.5 420.0h0M721.7 432.2h0M736.2 471.7h0M619.7 494.6h0M720.8 431.4h0"/>
<path class="c30" d="M633.9 432.2h0"/>
<path class="c29" d="M712.4 519.1h0M723.8 430.7h0M682.8 415.8h0M645.4 533.0h0M684.4 533.9h0M713.7 422.0h0"/>
<path class="c28" d="M721.2 426.7h0M727.6 432.3h0M664.7 538.7h0M734.9 447.6h0"/>
<path class="c27" d="M737.6 487.7h0M675.0 541.7h0M611.0 469.1h0M738.2 488.1h0"/>
<path class="c26" d="M650.2 414.5h0M661.8 543.1h0M669.9 544.9h0M647.6 536.6h0M623.8 432.7h0M708.5 413.5h0M641.7 417.4h0"/>
<path class="c25" d="M609.5 461.4h0M741.5 449.9h0M610.4 458.8h0"/>
<path class="c24" d="M676.6 403.9h0M696.7 406.2h0M663.8 547.0h0"/>
<path class="c23" d="M670.1 549.1h0M749.2 477.7h0M703.4 406.5h0M619.5 431.9h0"/>
<path class="c22" d="M750.9 475.5h0M607.6 506.1h0M688.1 400.4h0M609.3 509.0h0"/>
<path class="c21" d="M751.2 468.9h0M665.2 402.1h0M748.2 488.0h0M601.1 470.0h0"/>
<path class="c20" d="M742.8 504.2h0M720.0 529.7h0M653.1 401.1h0M646.1 405.6h0"/>
<path class="c19" d="M744.6 500.6h0M710.4 400.5h0M698.8 396.7h0M598.4 469.1h0M608.9 518.0h0M630.1 410.4h0M751.0 440.9h0"/>
<path class="c18" d="M737.3 517.8h0M720.9 404.5h0M747.9 497.9h0M756.2 466.1h0"/>
<path class="c17" d="M710.9 544.6h0M755.4 449.3h0M758.8 468.5h0M694.2 393.1h0M758.6 470.8h0M757.5 460.1h0M629.3 407.5h0M703.3 551.5h0M721.2 401.6h0"/>
<path class="c16" d="M592.2 469.9h0M601.9 515.3h0M634.9 548.3h0M590.4 482.5h0M594.6 494.4h0M736.9 414.2h0M657.1 394.0h0M656.0 392.9h0"/>
<path class="c15" d="M753.3 502.0h0M591.2 460.4h0M596.5 449.8h0M742.7 419.2h0M757.4 494.2h0M625.4 544.2h0"/>
<path class="c14" d="M599.4 518.5h0M657.4 562.7h0M605.9 526.1h0M752.8 505.4h0"/>
<path class="c13" d="M702.3 385.5h0"/>
<path class="c12" d="M696.3 384.3h0M583.5 486.3h0M768.5 467.7h0M767.5 485.5h0M762.9 497.2h0"/>
<path class="c11" d="M764.5 498.6h0M734.4 538.9h0M667.9 571.0h0"/>
<path class="c10" d="M583.4 499.1h0M727.2 553.3h0M583.5 451.0h0M750.2 409.2h0"/>
<path class="c9" d="M759.6 416.9h0M747.6 536.8h0M662.0 374.7h0M760.6 518.6h0"/>
<path class="c8" d="M685.2 574.7h0M579.2 450.7h0M634.1 378.8h0M579.5 451.0h0M632.7 379.8h0"/>
<path class="c7" d="M573.9 491.9h0M745.9 554.9h0M769.3 520.0h0M688.7 367.3h0M769.4 431.1h0M645.7 580.4h0M713.3 371.1h0M592.3 536.4h0"/>
<path class="c6" d="M781.5 444.1h0M592.6 404.0h0M565.1 481.2h0M774.2 427.7h0M720.7 577.3h0M613.2 564.5h0M619.4 567.7h0"/>
<path class="c5" d="M747.2 563.4h0M574.1 428.3h0M780.9 502.8h0M773.4 417.7h0"/>
<path class="c4" d="M586.7 544.1h0M591.0 552.1h0M684.3 350.1h0M772.4 533.8h0M784.1 517.6h0"/>
<path class="c3" d="M597.4 567.0h0"/>
<path class="c2" d="M706.4 610.2h0M634.5 351.2h0M578.5 375.9h0M778.7 386.7h0M666.6 337.2h0"/>
<path class="c1" d="M533.4 485.3h0M833.7 500.1h0"/>
<path class="c0" d="M513.0 376.5h0M694.5 290.9h0M824.7 428.9h0"/>
<path class="c0" d="M820.8 568.5h0"/>
<path class="c1" d="M813.0 424.2h0M568.6 568.2h0M631.9 614.2h0M748.4 606.9h0M564.1 557.7h0M642.8 332.2h0M661.2 617.8h0M535.7 436.0h0"/>
<path class="c2" d="M786.8 400.1h0M614.8 361.1h0M762.2 569.8h0M561.7 528.4h0"/>
<path class="c3" d="M575.3 407.6h0M565.5 427.0h0M619.0 593.5h0M582.3 543.4h0M582.4 400.8h0M768.6 550.6h0M646.6 351.5h0M711.1 352.7h0M570.7 532.4h0"/>
<path class="c4" d="M765.8 542.1h0M713.8 588.5h0"/>
<path class="c5" d="M562.7 472.9h0M590.0 403.0h0M584.7 415.3h0M651.1 586.9h0M640.4 362.2h0"/>
<path class="c6" d="M648.3 371.9h0M611.1 386.6h0M741.9 562.2h0M593.4 403.1h0M624.1 571.6h0"/>
<path class="c7" d="M776.0 497.5h0M600.0 402.9h0"/>
<path class="c8" d="M701.0 576.5h0M581.7 434.7h0M595.8 413.1h0M752.0 399.6h0"/>
<path class="c9" d="M749.9 531.1h0M651.0 379.0h0M592.7 420.0h0M625.0 389.3h0M697.5 571.7h0M582.0 452.3h0"/>
<path class="c10" d="M597.7 422.2h0M757.9 520.4h0"/>
<path class="c11" d="M593.7 427.5h0M641.8 387.9h0M698.0 381.9h0M611.0 407.6h0M590.0 437.4h0M657.2 569.7h0"/>
<path class="c12" d="M744.0 525.5h0M674.3 567.8h0M603.7 419.9h0"/>
<path class="c13" d="M739.5 404.6h0M725.1 393.1h0M658.0 565.5h0M753.6 509.4h0"/>
<path class="c14" d="M635.5 555.6h0M630.0 402.2h0M738.2 407.3h0M672.0 564.7h0M693.0 561.8h0"/>
<path class="c15" d="M615.4 535.2h0M625.2 543.9h0M760.2 463.9h0M717.5 392.2h0"/>
<path class="c16" d="M591.0 480.9h0M641.0 401.7h0"/>
<path class="c17" d="M732.6 525.1h0M594.6 473.1h0M606.9 435.0h0M725.4 530.8h0M650.5 397.5h0M697.9 392.0h0M596.1 470.8h0"/>
<path class="c18" d="M668.0 558.6h0M724.1 529.4h0M755.0 446.1h0M652.4 398.2h0M711.8 540.8h0M739.7 515.7h0"/>
<path class="c19" d="M601.0 457.5h0M608.2 441.7h0M640.7 547.8h0M666.3 556.7h0M742.9 429.8h0M656.3 554.6h0M655.0 555.6h0"/>
<path class="c20" d="M733.6 421.9h0M748.8 444.6h0M641.2 545.8h0M657.8 402.4h0"/>
<path class="c21" d="M605.0 458.0h0M736.8 509.2h0M644.4 407.4h0"/>
<path class="c22" d="M604.5 499.1h0M686.4 400.5h0M605.7 462.1h0M616.4 516.4h0"/>
<path class="c23" d="M607.1 462.6h0M666.5 550.1h0M680.8 547.6h0M650.4 408.4h0M725.9 516.1h0M608.1 460.6h0"/>
<path class="c24" d="M730.6 427.4h0M651.0 412.9h0M609.1 460.7h0M617.4 440.6h0M658.9 547.1h0M619.3 436.1h0M684.4 544.0h0M622.6 429.7h0M718.7 522.1h0"/>
<path class="c25" d="M652.1 541.0h0M641.6 537.7h0M732.5 503.7h0M708.6 526.4h0M651.7 541.7h0M629.5 428.2h0M704.1 531.4h0M700.4 407.9h0"/>
<path class="c26" d="M666.4 410.9h0M613.7 456.6h0M667.0 412.5h0M727.8 508.0h0M715.9 419.3h0M689.8 536.2h0"/>
<path class="c27" d="M711.7 418.0h0M743.0 471.6h0M742.0 468.3h0M610.1 475.2h0M626.8 433.6h0M686.6 535.2h0"/>
<path class="c28" d="M671.0 539.1h0M657.0 416.9h0"/>
<path class="c29" d="M656.7 536.4h0M719.6 427.2h0M679.6 413.5h0"/>
<path class="c30" d="M670.2 418.7h0M654.3 534.0h0M613.0 483.6h0M692.0 415.8h0M712.4 517.0h0M630.4 519.2h0M658.4 419.5h0M727.2 500.2h0"/>
<path class="c31" d="M614.9 480.1h0M727.4 443.8h0M631.4 438.1h0M633.3 436.5h0M727.1 497.2h0M615.3 480.0h0"/>
<path class="c32" d="M624.4 448.0h0M736.0 477.7h0M729.9 449.5h0"/>
<path class="c33" d="M720.9 503.6h0M623.7 451.3h0M682.8 421.8h0"/>
<path class="c34" d="M619.2 468.7h0"/>
<path class="c35" d="M688.2 526.9h0M633.8 515.7h0M668.9 425.2h0"/>
<path class="c36" d="M710.5 510.3h0M705.5 514.8h0"/>
<path class="c37" d="M687.3 425.4h0M695.1 423.5h0M705.9 427.1h0M731.6 475.9h0M666.6 529.2h0M625.1 453.6h0M728.0 486.3h0"/>
<path class="c38" d="M729.5 481.5h0M700.6 426.1h0"/>
<path class="c39" d="M704.0 428.5h0M636.3 511.3h0M621.5 477.5h0M636.7 444.7h0M685.0 522.1h0M699.3 517.8h0M688.4 521.7h0"/>
<path class="c40" d="M625.3 491.9h0M712.6 435.7h0M660.2 527.8h0M650.7 524.2h0"/>
<path class="c41" d="M650.5 432.8h0M712.1 437.9h0"/>
<path class="c42" d="M668.0 429.3h0M639.6 445.7h0M721.4 492.3h0M624.4 480.0h0"/>
<path class="c43" d="M684.9 432.9h0M630.0 459.1h0M635.6 504.7h0M627.5 475.3h0M629.5 491.6h0M725.7 462.0h0M667.9 430.0h0M723.3 486.5h0"/>
<path class="c44" d="M719.5 491.7h0M720.1 458.1h0M679.2 521.3h0"/>
<path class="c45" d="M657.4 436.0h0M702.8 436.6h0M641.3 509.0h0"/>
<path class="c46" d="M642.3 450.9h0M712.8 446.6h0M635.5 496.7h0M716.6 456.6h0"/>
<path class="c47" d="M721.0 463.5h0M632.6 484.1h0M647.5 509.5h0M655.0 517.6h0"/>
<path class="c48" d="M703.9 444.2h0M698.1 441.5h0M665.4 515.8h0M702.6 502.0h0M645.5 508.5h0M660.5 514.7h0"/>
<path class="c49" d="M698.7 444.0h0M643.8 455.4h0M706.1 497.8h0"/>
<path class="c50" d="M711.4 487.8h0M656.4 446.1h0M658.7 444.3h0"/>
<path class="c51" d="M688.5 507.7h0M714.1 462.0h0M708.2 454.1h0M710.7 458.2h0M650.2 455.6h0M692.5 506.1h0M714.1 464.4h0"/>
<path class="c52" d="M674.5 443.9h0M644.0 468.3h0"/>
<path class="c53" d="M653.1 500.7h0M679.2 445.5h0M694.9 450.3h0M652.1 461.3h0M647.6 490.5h0M656.3 501.3h0M640.1 481.6h0"/>
<path class="c54" d="M685.9 503.4h0M703.3 488.2h0M651.0 464.3h0M693.6 498.8h0M650.0 468.7h0M665.3 504.0h0M709.4 468.8h0M645.9 484.5h0"/>
<path class="c55" d="M707.6 472.3h0M676.3 453.0h0M704.0 468.9h0M707.3 475.1h0M667.4 502.6h0M699.8 486.3h0M650.7 469.9h0M693.6 452.9h0"/>
<path class="c56" d="M666.3 454.7h0M651.2 487.4h0M686.8 456.1h0M694.1 456.2h0M658.7 461.7h0M679.5 452.6h0M647.7 475.7h0M656.3 492.2h0M702.6 479.4h0"/>
<path class="c57" d="M698.8 472.1h0M673.6 455.7h0M663.0 493.0h0M690.2 465.5h0M671.6 494.3h0M691.2 463.5h0"/>
<path class="c58" d="M658.8 479.8h0M673.3 489.3h0M668.8 460.0h0M664.9 490.2h0M680.5 459.8h0M667.5 489.6h0M680.6 461.6h0M689.8 480.4h0M657.6 470.6h0M685.1 492.3h0M663.1 464.1h0"/>
<path class="c59" d="M688.5 482.2h0M678.4 486.6h0M678.6 460.6h0M667.2 464.0h0M665.9 484.6h0M668.5 463.6h0"/>
<path class="c60" d="M671.9 469.1h0"/>
<path class="c61" d="M674.9 479.2h0M680.9 472.6h0M684.6 470.7h0M680.0 468.6h0M671.8 478.9h0"/>
<path class="c62" d="M666.8 474.6h0"/>
<path class="c63" d="M671.3 472.6h0"/>
<path class="c61" d="M676.4 471.0h0M676.0 481.0h0"/>
<path class="c60" d="M668.9 467.9h0M686.7 472.4h0M666.7 468.3h0M681.4 474.1h0M686.1 473.8h0"/>
<path class="c59" d="M682.8 465.2h0M659.9 472.4h0M686.4 466.6h0M689.3 477.2h0M667.6 463.2h0"/>
<path class="c58" d="M679.3 457.0h0M695.2 479.1h0M656.9 482.7h0M662.3 479.1h0M668.6 489.2h0M665.5 460.1h0M658.0 478.1h0M689.7 479.8h0M684.8 488.4h0M687.0 492.3h0"/>
<path class="c57" d="M692.7 461.3h0M685.1 458.7h0M663.9 462.4h0M699.1 469.6h0M667.3 492.4h0M673.8 498.7h0M695.7 466.8h0"/>
<path class="c56" d="M702.4 480.5h0M695.6 462.3h0M703.1 476.2h0M680.5 453.7h0M677.2 501.1h0M661.1 497.2h0M700.2 468.2h0M661.9 497.7h0M695.7 461.9h0"/>
<path class="c55" d="M699.9 486.0h0M696.2 492.0h0M696.5 454.4h0M653.0 463.4h0M647.3 476.0h0M696.7 460.2h0M698.5 490.1h0"/>
<path class="c54" d="M653.9 459.8h0M695.8 494.6h0M651.5 463.5h0M702.4 488.6h0M702.9 461.8h0M671.1 504.9h0M706.4 467.4h0"/>
<path class="c53" d="M693.8 448.3h0M653.1 455.9h0M651.8 460.5h0M646.6 490.0h0M658.6 450.8h0M651.6 457.5h0M693.0 500.6h0"/>
<path class="c52" d="M670.8 442.4h0M709.2 486.1h0M647.0 463.2h0M641.0 488.1h0M650.4 499.1h0M640.4 478.4h0M641.5 485.5h0"/>
<path class="c51" d="M701.2 498.0h0M690.5 444.6h0M665.2 443.7h0M650.2 502.3h0"/>
<path class="c50" d="M639.3 468.9h0M716.4 463.5h0M696.4 444.0h0M653.5 450.1h0"/>
<path class="c49" d="M658.1 510.8h0M651.1 448.7h0M641.9 500.0h0M651.8 507.2h0M651.5 448.0h0"/>
<path class="c48" d="M708.0 448.6h0M663.1 515.3h0M680.2 514.6h0M709.4 448.8h0M647.8 510.6h0"/>
<path class="c47" d="M650.3 446.0h0M708.1 444.2h0M693.7 511.6h0"/>
<path class="c46" d="M665.7 519.6h0M654.0 438.4h0M715.4 491.9h0M721.2 482.2h0M688.7 514.0h0M635.5 493.1h0M684.3 515.1h0M670.2 518.6h0"/>
<path class="c45" d="M652.7 519.6h0M660.2 434.6h0M681.0 434.9h0M631.0 464.3h0"/>
<path class="c44" d="M714.6 443.8h0M629.4 462.8h0M724.8 466.5h0M630.4 463.7h0"/>
<path class="c43" d="M646.7 518.6h0M715.3 495.4h0"/>
<path class="c42" d="M631.1 497.5h0M679.3 430.7h0M722.0 453.8h0M636.6 448.8h0M710.2 438.3h0M700.6 433.7h0"/>
<path class="c41" d="M711.5 505.8h0M717.0 440.9h0M703.8 430.4h0M637.9 509.9h0M635.1 449.0h0M679.0 523.7h0M636.1 508.9h0"/>
<path class="c40" d="M665.0 527.0h0M641.4 441.8h0M652.9 431.2h0M698.2 431.4h0M626.5 492.5h0"/>
<path class="c39" d="M724.6 451.5h0M725.6 486.0h0M638.3 515.3h0M671.2 526.8h0"/>
<path class="c38" d="M645.5 522.3h0M715.8 504.4h0M704.5 514.3h0"/>
<path class="c37" d="M716.1 503.7h0M622.0 491.4h0"/>
<path class="c36" d="M693.8 522.6h0M710.9 511.7h0"/>
<path class="c35" d="M645.5 525.1h0M630.2 511.4h0M637.7 437.6h0M696.3 422.1h0M638.7 434.4h0"/>
<path class="c34" d="M625.0 501.0h0M715.6 507.4h0M626.8 505.0h0"/>
<path class="c33" d="M634.0 438.2h0M616.2 483.3h0"/>
<path class="c32" d="M706.4 421.8h0M662.9 531.7h0M624.1 503.1h0M629.4 513.3h0"/>
<path class="c31" d="M671.8 418.6h0M651.0 532.2h0M628.6 441.0h0M729.4 495.1h0M697.0 523.4h0M623.3 448.2h0"/>
<path class="c30" d="M633.4 521.9h0M612.7 483.3h0M727.6 440.0h0M614.3 475.2h0M701.1 416.1h0M681.4 534.4h0M649.1 420.4h0"/>
<path class="c29" d="M630.8 520.7h0M736.8 461.1h0"/>
<path class="c28" d="M704.7 413.6h0M611.4 476.3h0M716.3 423.0h0M689.8 532.4h0M701.3 412.4h0M667.4 539.8h0M617.6 452.2h0M666.6 539.1h0"/>
<path class="c27" d="M709.0 415.6h0M736.5 451.5h0M722.2 513.3h0M651.4 416.0h0M614.1 460.6h0M679.6 411.3h0"/>
<path class="c26" d="M744.1 473.5h0M665.4 544.4h0M665.7 545.3h0M610.9 493.5h0"/>
<path class="c25" d="M667.4 546.0h0M734.8 436.7h0M714.6 415.1h0M655.0 412.6h0M731.0 432.3h0M663.1 411.2h0M715.5 417.2h0"/>
<path class="c24" d="M612.7 506.5h0M723.6 420.7h0M739.6 496.0h0M674.4 405.0h0"/>
<path class="c23" d="M653.2 546.0h0M706.4 408.0h0M705.7 407.6h0M666.6 404.9h0M728.5 423.6h0"/>
<path class="c22" d="M722.5 522.3h0M694.7 544.7h0M652.8 548.3h0"/>
<path class="c21" d="M678.0 397.7h0M699.6 544.3h0M731.7 420.2h0M697.6 399.3h0M696.9 400.0h0M605.5 461.0h0M735.1 426.4h0"/>
<path class="c20" d="M732.9 420.2h0M632.7 540.4h0M643.1 546.9h0M688.1 551.1h0M749.8 454.1h0M622.0 530.1h0"/>
<path class="c19" d="M603.3 457.3h0M717.4 532.3h0M699.0 547.6h0M649.0 551.2h0M751.1 442.5h0M601.7 457.0h0M738.6 423.7h0M623.2 534.6h0"/>
<path class="c18" d="M717.0 400.6h0M706.6 543.6h0M595.5 490.3h0M707.8 543.2h0M666.6 395.1h0M718.6 535.4h0M737.1 420.3h0M680.5 556.3h0"/>
<path class="c17" d="M726.8 529.5h0M626.9 407.7h0M686.8 556.8h0M602.0 512.0h0M681.6 393.7h0"/>
<path class="c16" d="M594.7 462.8h0M678.0 388.4h0M670.1 388.6h0M606.4 431.5h0M604.9 434.3h0M597.9 453.4h0"/>
<path class="c15" d="M591.9 499.6h0M594.4 504.2h0M741.9 521.8h0M600.4 438.0h0"/>
<path class="c14" d="M644.4 560.3h0M762.2 451.1h0"/>
<path class="c13" d="M639.9 391.2h0M740.2 409.0h0M656.1 565.4h0M725.6 392.5h0M734.2 401.5h0"/>
<path class="c12" d="M765.1 461.1h0M644.4 386.2h0"/>
<path class="c11" d="M716.1 383.0h0M587.4 442.3h0M591.1 437.3h0M682.7 568.6h0M662.0 572.0h0M613.8 542.9h0"/>
<path class="c10" d="M625.9 391.4h0M697.8 376.8h0M713.7 561.8h0M678.5 571.3h0M578.3 475.0h0"/>
<path class="c9" d="M702.1 371.9h0M697.8 570.6h0M668.0 373.6h0M585.6 517.1h0"/>
<path class="c8" d="M685.0 579.0h0M590.2 528.9h0M748.0 537.9h0M649.5 376.9h0"/>
<path class="c7" d="M575.2 450.5h0M574.0 488.1h0M764.6 521.2h0M783.6 468.6h0M572.5 484.0h0M729.4 568.4h0M736.3 561.4h0M780.8 464.7h0"/>
<path class="c6" d="M697.1 586.7h0M626.4 374.9h0M748.3 555.3h0M644.4 580.8h0M787.1 464.0h0M591.7 537.2h0M687.1 364.5h0"/>
<path class="c5" d="M594.6 396.3h0M762.9 541.4h0M601.1 553.9h0"/>
<path class="c4" d="M611.6 575.2h0"/>
<path class="c3" d="M594.2 383.4h0"/>
<path class="c2" d="M615.2 353.1h0M629.4 597.9h0M805.7 471.0h0"/>
<path class="c1" d="M823.9 463.4h0M538.1 453.8h0M643.1 617.8h0"/>
<path class="c0" d="M644.4 317.1h0"/>
<path class="c0" d="M499.7 487.6h0M668.3 639.3h0M761.3 326.1h0M545.9 387.1h0"/>
<path class="c1" d="M760.6 334.3h0M693.7 637.0h0M776.2 368.7h0M784.7 554.3h0"/>
<path class="c2" d="M786.2 407.9h0M779.8 402.1h0M553.9 445.7h0M696.7 333.9h0M808.7 479.8h0M749.5 581.5h0"/>
<path class="c3" d="M606.8 372.8h0M644.6 355.6h0M609.9 368.4h0M564.9 413.1h0M753.2 377.4h0M800.1 497.0h0M715.0 344.9h0"/>
<path class="c4" d="M568.6 418.2h0M565.7 440.2h0"/>
<path class="c5" d="M570.6 514.5h0M682.7 590.4h0M627.0 579.8h0M777.9 507.4h0M672.9 359.4h0"/>
<path class="c6" d="M570.8 452.1h0"/>
<path class="c7" d="M677.4 370.3h0M588.7 415.7h0M708.6 579.6h0M783.9 475.8h0M695.6 582.3h0M610.8 390.5h0M664.1 367.6h0M782.9 472.0h0"/>
<path class="c8" d="M775.2 496.4h0M685.2 577.1h0M777.9 460.3h0M779.2 452.6h0M576.2 506.5h0"/>
<path class="c9" d="M772.6 495.3h0M599.1 409.7h0M665.7 577.6h0"/>
<path class="c10" d="M628.6 563.2h0M577.2 477.3h0M719.5 380.2h0M655.9 378.2h0M695.1 376.9h0M707.3 566.7h0M636.4 388.1h0"/>
<path class="c11" d="M696.1 567.0h0M738.6 536.4h0M694.6 380.2h0M767.1 443.4h0M697.3 567.7h0M669.1 570.5h0"/>
<path class="c12" d="M620.3 401.4h0M637.2 561.8h0M617.1 545.7h0M762.0 499.3h0M770.8 477.3h0"/>
<path class="c13" d="M695.2 563.9h0M705.6 386.8h0M766.4 477.8h0M720.5 389.4h0M767.3 470.1h0"/>
<path class="c14" d="M762.7 455.6h0M700.8 557.5h0M731.0 400.2h0M727.4 398.7h0M752.1 429.1h0M706.7 389.1h0"/>
<path class="c15" d="M724.5 400.1h0"/>
<path class="c16" d="M733.9 410.4h0M709.5 547.6h0M596.8 506.9h0M593.7 470.8h0M620.7 409.7h0M751.0 433.7h0M678.2 388.7h0M596.5 505.7h0"/>
<path class="c17" d="M704.5 395.3h0M677.9 391.9h0M710.7 397.3h0M741.7 423.1h0"/>
<path class="c18" d="M631.1 406.9h0M688.6 555.3h0M722.0 405.7h0"/>
<path class="c19" d="M682.3 395.3h0M595.8 488.8h0M749.9 439.0h0M717.3 405.4h0"/>
<path class="c20" d="M635.6 409.8h0M601.4 480.9h0M613.9 434.0h0M697.4 398.1h0M663.1 399.6h0"/>
<path class="c21" d="M617.0 430.9h0M616.5 519.1h0M742.7 498.3h0M682.0 398.6h0M634.0 411.8h0M731.8 516.0h0M687.6 549.2h0M730.5 418.3h0M602.0 478.3h0M601.3 491.2h0"/>
<path class="c22" d="M616.1 516.1h0M726.8 518.1h0M747.2 465.7h0M697.4 540.7h0"/>
<path class="c23" d="M745.8 450.6h0M667.5 550.1h0M731.8 426.5h0"/>
<path class="c24" d="M616.6 441.7h0M619.5 518.3h0M613.2 507.9h0M643.4 414.6h0M609.8 456.4h0M747.0 474.4h0M670.7 407.2h0"/>
<path class="c25" d="M723.3 515.7h0M738.8 494.3h0M726.9 423.7h0M611.3 501.8h0"/>
<path class="c26" d="M743.1 478.2h0M627.3 429.0h0M737.7 495.1h0M710.2 415.1h0M741.8 452.1h0M738.9 450.8h0"/>
<path class="c27" d="M734.6 496.0h0M610.8 490.0h0M681.6 537.0h0M690.4 534.5h0M640.8 531.5h0"/>
<path class="c28" d="M621.1 508.2h0M693.6 414.2h0M671.8 538.0h0"/>
<path class="c29" d="M736.9 458.7h0M643.3 421.1h0M739.2 470.1h0M697.1 527.9h0M621.9 510.5h0"/>
<path class="c30" d="M734.4 456.4h0M738.4 466.7h0M625.6 510.0h0M641.6 424.6h0M627.4 439.7h0M621.5 446.2h0"/>
<path class="c31" d="M620.1 457.6h0M615.2 478.9h0M735.7 481.7h0M674.9 416.6h0"/>
<path class="c32" d="M721.6 435.3h0M725.1 498.2h0"/>
<path class="c33" d="M730.5 490.4h0M677.5 531.6h0"/>
<path class="c35" d="M648.5 527.4h0"/>
<path class="c36" d="M651.4 527.1h0M706.4 426.6h0M732.9 479.4h0"/>
<path class="c37" d="M640.8 435.1h0M641.1 432.9h0M668.9 529.4h0M695.2 423.3h0"/>
<path class="c38" d="M685.8 523.4h0"/>
<path class="c39" d="M700.8 516.3h0M641.6 437.8h0M725.0 490.9h0M691.6 427.8h0M722.6 494.2h0M690.1 427.0h0M681.3 426.9h0M680.1 427.2h0M623.9 473.9h0M640.7 437.1h0"/>
<path class="c40" d="M729.6 475.9h0M725.9 456.6h0M702.7 429.2h0"/>
<path class="c41" d="M649.5 432.8h0M661.3 526.1h0M634.3 507.2h0M671.7 523.3h0M678.5 523.8h0M625.9 461.3h0"/>
<path class="c42" d="M629.8 495.7h0"/>
<path class="c43" d="M625.6 487.9h0M660.1 523.8h0M663.8 524.0h0M633.8 451.8h0M657.5 433.3h0"/>
<path class="c44" d="M720.8 485.8h0M679.7 434.2h0M716.7 493.1h0M642.7 448.5h0M636.2 503.0h0M725.8 474.4h0"/>
<path class="c45" d="M654.2 520.1h0M651.3 518.4h0"/>
<path class="c46" d="M665.8 519.4h0M709.8 499.6h0M706.4 441.2h0"/>
<path class="c47" d="M716.8 488.8h0M662.4 436.0h0"/>
<path class="c48" d="M664.6 516.8h0M713.8 452.0h0M639.7 500.8h0M716.9 487.9h0M711.8 453.4h0M716.9 484.3h0"/>
<path class="c49" d="M635.0 483.3h0M676.9 512.1h0M647.5 454.2h0M667.4 513.2h0M694.1 441.6h0M691.1 442.0h0M713.8 455.5h0M694.1 442.4h0M656.9 510.7h0"/>
<path class="c50" d="M659.5 442.8h0M638.9 486.2h0M643.7 500.7h0M650.2 452.8h0M643.5 458.6h0M639.7 492.7h0M640.2 494.6h0M639.6 467.3h0"/>
<path class="c51" d="M694.3 504.5h0M677.9 511.1h0M640.8 490.2h0M685.8 443.2h0M646.2 499.4h0M672.1 442.0h0M639.1 482.1h0"/>
<path class="c52" d="M677.1 509.5h0M649.9 499.1h0M707.1 491.4h0M672.4 508.4h0M656.7 451.2h0M715.8 474.0h0"/>
<path class="c53" d="M705.7 458.4h0M697.7 452.3h0M684.3 446.0h0M687.8 448.1h0M643.3 472.7h0M692.7 449.4h0M678.4 445.9h0M694.9 449.2h0"/>
<path class="c54" d="M661.2 450.9h0M706.3 467.0h0M698.7 492.9h0M665.6 503.7h0M705.1 487.1h0M645.1 481.8h0M658.6 454.5h0M644.1 475.7h0M692.6 498.9h0"/>
<path class="c55" d="M690.7 497.7h0M667.6 449.3h0M651.2 468.8h0M705.8 481.1h0M658.8 499.2h0M704.6 468.9h0M697.1 458.8h0M673.0 501.5h0"/>
<path class="c56" d="M658.6 461.5h0M670.0 498.5h0M690.0 494.6h0M659.0 461.5h0M659.3 460.0h0M692.9 459.0h0"/>
<path class="c57" d="M659.8 485.0h0M697.0 482.2h0M663.1 495.7h0M693.9 481.7h0"/>
<path class="c58" d="M684.5 487.3h0M676.0 490.3h0M691.5 467.4h0M699.7 476.0h0M680.0 457.3h0M673.6 488.8h0M685.5 490.8h0M684.0 460.8h0"/>
<path class="c59" d="M674.2 488.4h0M661.7 472.0h0"/>
<path class="c60" d="M673.2 465.7h0M685.1 469.7h0M678.0 480.2h0"/>
<path class="c61" d="M671.1 479.0h0M682.8 469.2h0M674.6 480.4h0M680.7 471.6h0M679.7 473.9h0"/>
<path class="c62" d="M678.9 469.5h0M669.3 476.7h0M666.5 474.7h0"/>
<path class="c63" d="M671.9 472.9h0"/>
<path class="c62" d="M676.6 477.2h0M675.1 473.3h0M675.9 474.9h0"/>
<path class="c60" d="M670.6 465.5h0M687.7 473.4h0M665.6 479.6h0"/>
<path class="c59" d="M688.8 469.7h0"/>
<path class="c58" d="M691.7 485.6h0M691.1 480.5h0M657.0 486.1h0M665.1 491.5h0M682.4 492.6h0M662.3 491.5h0M692.7 480.7h0M669.4 492.0h0M672.5 490.7h0"/>
<path class="c57" d="M693.1 488.3h0M669.5 494.2h0M701.6 481.0h0M665.1 496.2h0M694.7 485.8h0M694.1 462.2h0M700.1 477.6h0M697.3 483.6h0M674.2 494.2h0M651.6 474.1h0M685.8 456.1h0"/>
<path class="c56" d="M703.5 471.9h0M672.2 500.3h0M648.7 478.0h0M655.1 492.3h0M669.7 455.9h0M698.6 463.2h0M673.7 500.9h0"/>
<path class="c55" d="M655.5 497.1h0M699.1 485.8h0M705.9 473.5h0M694.3 495.0h0M693.4 454.4h0M697.5 455.9h0M686.1 500.3h0M706.9 469.8h0M679.7 502.3h0M673.6 503.2h0"/>
<path class="c54" d="M704.7 483.8h0M684.7 505.4h0M704.2 486.5h0M661.8 502.3h0M684.5 503.6h0M684.6 503.7h0M698.7 490.6h0M707.8 466.5h0M656.4 457.7h0M656.2 499.4h0M666.2 447.1h0M653.6 496.5h0"/>
<path class="c53" d="M708.0 462.4h0M708.8 480.9h0M665.0 505.8h0M675.7 446.9h0M675.1 444.9h0M705.1 490.3h0"/>
<path class="c52" d="M706.4 489.4h0M654.1 452.4h0M639.8 482.4h0M708.4 457.8h0M651.0 502.6h0"/>
<path class="c51" d="M641.1 489.1h0M649.5 502.6h0M703.9 498.2h0M639.1 474.0h0M662.6 442.8h0"/>
<path class="c50" d="M642.5 494.6h0M642.2 460.9h0"/>
<path class="c49" d="M666.2 440.7h0M672.7 439.6h0M676.3 512.1h0M645.0 455.1h0M693.0 442.1h0M639.9 498.5h0"/>
<path class="c48" d="M632.4 481.5h0"/>
<path class="c47" d="M673.9 515.2h0M640.2 453.7h0M654.1 518.1h0M672.0 434.0h0M678.0 516.4h0M634.2 459.9h0"/>
<path class="c46" d="M717.9 489.3h0M716.0 449.4h0M656.9 437.5h0M669.8 433.3h0M659.0 519.0h0"/>
<path class="c45" d="M643.0 450.3h0M634.7 498.2h0M631.9 485.7h0M688.2 515.2h0M710.7 498.9h0"/>
<path class="c44" d="M719.2 449.6h0M655.0 436.1h0M711.8 499.5h0M643.1 513.9h0M651.2 438.2h0M703.5 436.6h0M627.3 471.7h0M629.9 487.2h0"/>
<path class="c43" d="M654.7 523.1h0M652.8 523.1h0"/>
<path class="c42" d="M692.0 517.9h0M668.3 523.1h0M674.8 430.1h0M721.0 448.1h0M724.3 453.6h0M670.5 523.2h0M685.3 432.9h0"/>
<path class="c41" d="M624.0 472.8h0M671.6 524.2h0M626.5 459.5h0M721.3 447.0h0M723.3 489.0h0M714.9 499.9h0M704.3 432.8h0"/>
<path class="c40" d="M689.9 520.9h0M721.6 444.7h0"/>
<path class="c39" d="M638.0 514.4h0M724.9 450.2h0M713.7 436.6h0M697.3 427.5h0M670.3 526.0h0"/>
<path class="c38" d="M620.8 477.8h0M647.5 431.4h0M636.5 512.6h0"/>
<path class="c37" d="M662.6 425.7h0"/>
<path class="c36" d="M690.5 524.5h0M732.8 470.7h0M703.3 517.3h0M619.9 471.4h0"/>
<path class="c34" d="M620.0 493.3h0M645.6 526.0h0M677.0 529.9h0M653.9 424.7h0"/>
<path class="c33" d="M679.1 531.5h0"/>
<path class="c32" d="M730.6 490.5h0"/>
<path class="c31" d="M689.3 528.6h0M682.0 531.9h0M634.5 522.5h0M670.8 419.7h0"/>
<path class="c30" d="M692.1 529.0h0M650.5 419.7h0M737.7 480.6h0M623.0 507.4h0M681.4 534.1h0M642.1 527.1h0M624.3 509.1h0M683.0 417.3h0M675.2 415.9h0M642.0 527.2h0"/>
<path class="c29" d="M739.6 466.7h0M681.7 414.7h0M637.0 427.5h0M653.3 535.3h0"/>
<path class="c28" d="M730.6 497.9h0M630.2 431.6h0M676.0 412.1h0M610.3 487.5h0M740.0 464.6h0"/>
<path class="c27" d="M626.5 435.4h0M659.7 416.0h0M621.8 440.1h0M741.2 460.0h0"/>
<path class="c26" d="M729.1 430.2h0M737.4 446.2h0"/>
<path class="c25" d="M667.8 408.7h0M681.8 406.4h0M732.8 433.5h0M689.5 409.3h0M704.9 529.5h0M655.2 542.1h0M620.1 440.1h0"/>
<path class="c24" d="M646.2 413.0h0M675.8 405.7h0M675.4 547.6h0M612.0 506.1h0M748.4 477.3h0"/>
<path class="c23" d="M645.4 411.5h0"/>
<path class="c22" d="M647.9 408.3h0M632.1 534.6h0M707.5 532.0h0M721.1 522.9h0M629.9 419.4h0M610.2 507.3h0M735.6 427.5h0"/>
<path class="c21" d="M738.8 505.3h0M749.2 459.5h0M620.6 525.9h0M614.5 515.7h0M685.1 399.7h0M748.7 454.2h0M642.8 407.7h0M750.8 482.6h0"/>
<path class="c20" d="M745.8 497.0h0M671.7 554.3h0M740.0 506.2h0M598.1 487.6h0M746.3 437.0h0M724.5 410.5h0M600.6 473.0h0"/>
<path class="c19" d="M677.2 395.6h0M718.6 531.5h0M740.4 513.2h0M703.0 398.7h0M740.6 429.1h0"/>
<path class="c18" d="M605.3 514.6h0M609.9 433.3h0M603.5 444.9h0M645.8 552.3h0M722.9 408.1h0"/>
<path class="c17" d="M650.6 396.1h0M610.0 430.4h0M739.0 519.7h0M597.6 455.8h0M626.1 407.4h0"/>
<path class="c16" d="M672.6 562.4h0M612.9 532.4h0M706.3 392.9h0M623.5 541.6h0M728.9 406.1h0"/>
<path class="c15" d="M704.7 391.1h0M645.9 394.5h0M591.4 489.2h0M643.5 395.3h0M682.5 562.9h0"/>
<path class="c14" d="M755.8 498.0h0M715.5 548.2h0M752.4 429.2h0M601.4 435.4h0M712.7 548.7h0M645.3 390.4h0"/>
<path class="c13" d="M758.9 434.8h0M625.9 400.1h0"/>
<path class="c12" d="M611.8 407.6h0M735.2 534.8h0M620.6 399.9h0M764.6 495.1h0M765.2 461.5h0M583.9 486.5h0"/>
<path class="c11" d="M600.4 527.3h0M639.3 388.3h0M602.7 529.3h0M585.2 501.0h0M599.6 422.4h0M670.1 571.8h0M724.9 386.4h0M631.0 559.9h0"/>
<path class="c10" d="M718.3 557.3h0M596.3 529.1h0M770.0 444.4h0M631.5 387.3h0M772.1 454.1h0"/>
<path class="c9" d="M583.4 515.8h0M727.6 383.2h0M737.2 547.9h0M576.3 465.6h0"/>
<path class="c8" d="M704.7 370.2h0M697.5 368.9h0M744.0 551.8h0M595.8 534.8h0M776.7 486.8h0"/>
<path class="c7" d="M612.9 555.6h0M783.6 486.5h0M677.2 369.8h0"/>
<path class="c6" d="M678.8 584.6h0"/>
<path class="c5" d="M778.6 425.8h0M728.6 366.9h0M758.4 545.5h0M625.2 369.8h0"/>
<path class="c4" d="M655.2 356.2h0M725.9 360.6h0M574.9 527.5h0M770.4 400.3h0M742.9 372.9h0M745.7 570.9h0"/>
<path class="c3" d="M744.6 368.5h0M784.8 527.3h0M754.5 575.2h0"/>
<path class="c2" d="M613.9 360.7h0M731.1 339.7h0M785.1 402.7h0M613.8 360.2h0M805.9 459.1h0M755.2 361.5h0M598.8 370.9h0M800.9 516.9h0"/>
<path class="c1" d="M781.1 552.5h0M680.8 315.9h0M689.8 616.2h0M715.7 331.7h0M639.5 334.6h0M541.2 409.8h0"/>
<path class="c0" d="M783.6 593.6h0M840.3 646.0h0"/>
<path class="c0" d="M817.3 578.7h0M527.5 494.2h0"/>
<path class="c1" d="M813.7 513.0h0M703.9 315.1h0M710.2 330.7h0"/>
<path class="c2" d="M739.2 589.7h0M761.1 370.3h0M788.7 415.2h0M729.9 348.6h0"/>
<path class="c3" d="M563.2 436.8h0"/>
<path class="c4" d="M762.3 393.0h0M791.0 443.4h0M623.2 579.1h0M678.8 352.6h0M660.9 362.4h0M795.6 473.3h0"/>
<path class="c5" d="M568.5 499.0h0M614.0 570.3h0M714.2 364.7h0M790.6 482.3h0M614.2 569.7h0M627.6 577.2h0M712.5 587.5h0M724.9 584.1h0"/>
<path class="c6" d="M595.1 542.6h0M689.4 583.9h0M763.8 407.3h0M706.4 363.3h0M597.7 549.1h0M730.8 573.6h0M784.3 490.6h0M568.1 467.3h0M572.0 445.8h0"/>
<path class="c7" d="M730.5 564.7h0M612.9 561.0h0M696.5 582.0h0M630.6 573.4h0M772.3 504.5h0M619.1 386.9h0M662.9 369.3h0"/>
<path class="c8" d="M667.6 579.2h0M749.1 544.0h0"/>
<path class="c9" d="M652.5 375.7h0M743.4 542.0h0M770.9 500.3h0M748.4 533.5h0M577.9 500.2h0M764.9 514.3h0M698.0 573.1h0M581.6 445.3h0M721.8 563.3h0M634.3 380.7h0"/>
<path class="c10" d="M774.5 470.7h0M745.1 531.9h0M629.3 564.3h0M722.4 560.4h0M747.3 529.8h0M671.5 378.5h0M597.5 419.5h0M587.3 434.4h0M579.4 490.5h0"/>
<path class="c11" d="M611.0 407.4h0M770.9 466.8h0M724.5 550.5h0M693.2 380.4h0M590.1 438.1h0"/>
<path class="c12" d="M647.5 566.8h0M602.0 424.1h0M741.1 405.0h0M710.6 555.3h0M720.3 549.6h0M728.6 543.1h0"/>
<path class="c13" d="M593.6 440.7h0M763.8 486.1h0M729.1 540.9h0"/>
<path class="c14" d="M725.2 541.5h0"/>
<path class="c15" d="M707.9 552.7h0M713.2 390.8h0M602.3 519.4h0M619.0 539.6h0M591.7 493.1h0M688.6 388.9h0M598.2 448.7h0"/>
<path class="c16" d="M662.4 391.5h0M759.1 455.2h0M759.4 447.5h0M759.6 472.4h0M590.4 483.9h0M759.6 447.3h0"/>
<path class="c17" d="M612.8 426.3h0M757.4 479.2h0M636.5 548.5h0M594.8 494.2h0M679.9 558.9h0M733.6 525.5h0M718.2 401.1h0M695.4 392.3h0M668.2 393.0h0M756.3 464.4h0"/>
<path class="c18" d="M746.2 433.2h0M700.4 550.7h0M722.2 404.1h0"/>
<path class="c19" d="M600.4 465.7h0M597.5 485.9h0M742.5 428.1h0M751.7 488.1h0M641.8 549.8h0M653.5 399.0h0M608.9 513.2h0M622.9 416.5h0"/>
<path class="c20" d="M600.4 492.2h0M630.0 536.7h0M751.8 484.1h0M752.9 480.5h0"/>
<path class="c21" d="M748.4 447.2h0M723.3 415.2h0M709.5 404.1h0M638.9 410.4h0M741.1 434.8h0M627.1 533.0h0M602.4 492.5h0M747.2 486.7h0M614.3 518.5h0"/>
<path class="c22" d="M649.0 406.8h0M738.9 501.3h0M639.9 540.5h0M667.6 403.3h0M702.1 403.9h0M713.8 409.9h0"/>
<path class="c23" d="M607.1 470.8h0M698.7 405.0h0M612.9 444.5h0M618.2 518.7h0"/>
<path class="c24" d="M652.6 543.3h0M628.4 527.4h0M718.6 417.1h0M623.4 523.2h0"/>
<path class="c25" d="M739.3 489.3h0M663.3 411.6h0M659.4 412.0h0M641.0 537.6h0M611.2 460.2h0M652.3 413.5h0M732.6 505.4h0"/>
<path class="c26" d="M606.5 487.9h0M647.1 537.3h0M640.4 533.7h0M734.4 441.9h0M656.6 540.6h0"/>
<path class="c27" d="M613.1 498.8h0M670.4 542.2h0M729.3 432.7h0M677.2 411.0h0"/>
<path class="c28" d="M611.1 486.9h0M705.2 414.6h0M615.8 494.9h0"/>
<path class="c29" d="M633.7 523.9h0M700.1 413.3h0M733.3 445.7h0M680.4 535.8h0M693.5 530.6h0M681.4 416.0h0M673.4 414.1h0M740.6 472.0h0"/>
<path class="c30" d="M701.5 522.3h0"/>
<path class="c31" d="M671.9 534.0h0M657.5 532.3h0M675.6 533.1h0M700.1 418.2h0M649.9 531.9h0M667.9 534.0h0"/>
<path class="c32" d="M705.0 421.1h0M658.5 421.6h0M705.2 421.9h0M642.3 429.3h0M646.5 528.0h0M709.6 423.5h0"/>
<path class="c33" d="M647.9 529.4h0M654.1 424.4h0"/>
<path class="c34" d="M661.5 423.6h0"/>
<path class="c35" d="M636.5 439.0h0M710.6 427.3h0M699.6 520.6h0"/>
<path class="c36" d="M679.2 425.6h0M651.2 527.4h0"/>
<path class="c37" d="M631.4 508.9h0M722.1 497.2h0M731.3 482.3h0M665.8 528.8h0"/>
<path class="c38" d="M634.9 445.2h0M638.5 517.8h0M627.9 502.7h0"/>
<path class="c39" d="M621.7 481.5h0M621.0 487.0h0"/>
<path class="c40" d="M646.5 434.6h0M626.3 492.6h0M726.2 457.9h0M623.8 471.5h0M699.9 516.3h0M727.1 458.4h0M623.1 476.6h0M698.5 430.8h0"/>
<path class="c41" d="M650.1 434.9h0M644.9 519.6h0M631.9 502.3h0"/>
<path class="c42" d="M687.5 520.0h0M714.4 440.5h0M638.4 446.3h0"/>
<path class="c43" d="M655.4 522.6h0"/>
<path class="c44" d="M682.7 518.4h0M668.0 521.4h0M637.7 506.6h0M631.9 459.1h0"/>
<path class="c45" d="M708.3 502.5h0M643.5 511.7h0M717.9 455.0h0M679.2 518.4h0"/>
<path class="c46" d="M628.8 479.3h0M724.0 469.1h0M665.3 434.5h0M701.3 439.8h0M693.1 512.5h0"/>
<path class="c47" d="M638.8 501.8h0M673.7 515.9h0"/>
<path class="c48" d="M644.2 453.1h0M661.6 514.3h0M701.6 443.5h0M634.2 466.0h0"/>
<path class="c49" d="M634.8 473.5h0M708.6 494.6h0M657.2 442.7h0"/>
<path class="c50" d="M639.9 492.3h0M704.4 448.1h0M716.1 463.5h0M678.4 440.3h0M709.9 454.1h0M638.1 482.7h0"/>
<path class="c51" d="M641.9 463.1h0M642.5 492.2h0"/>
<path class="c52" d="M639.2 476.7h0M712.5 478.4h0M706.7 457.0h0M709.7 482.0h0M642.3 489.0h0M651.9 458.0h0"/>
<path class="c53" d="M698.2 496.1h0M683.5 445.2h0M701.3 491.6h0M686.5 447.3h0M693.5 450.3h0M694.0 448.6h0"/>
<path class="c54" d="M678.3 504.3h0M646.2 483.9h0M659.3 454.8h0M648.4 466.9h0M647.2 471.9h0M645.1 471.5h0M705.6 463.7h0"/>
<path class="c55" d="M666.1 502.0h0M697.2 489.2h0M651.1 495.1h0M685.3 501.4h0M706.7 474.7h0M707.6 474.9h0M697.8 461.3h0M662.6 456.2h0"/>
<path class="c56" d="M652.5 484.7h0M703.2 476.2h0M669.2 499.6h0M678.4 500.9h0"/>
<path class="c57" d="M659.6 494.0h0M656.5 470.2h0M701.3 472.6h0"/>
<path class="c58" d="M661.9 487.6h0M673.6 489.5h0M675.5 459.4h0M692.6 469.2h0M672.4 490.3h0M686.0 487.5h0M685.4 493.1h0M654.0 483.0h0M692.0 485.7h0"/>
<path class="c59" d="M663.6 478.3h0M669.2 486.0h0M689.3 477.9h0"/>
<path class="c60" d="M683.5 480.6h0M681.9 480.1h0M673.6 465.1h0M685.2 475.1h0M680.8 479.6h0M662.0 473.8h0M683.7 475.6h0"/>
<path class="c61" d="M672.9 469.7h0M682.2 469.2h0M674.4 482.2h0M668.9 477.6h0M682.2 478.5h0M673.8 469.2h0"/>
<path class="c62" d="M666.8 474.5h0M669.0 471.2h0"/>
<path class="c63" d="M672.6 475.4h0"/>
<path class="c62" d="M669.6 474.9h0"/>
<path class="c61" d="M675.6 481.1h0M682.0 472.7h0M668.0 470.9h0M666.8 472.2h0M683.8 478.3h0M681.0 478.4h0"/>
<path class="c60" d="M685.2 468.6h0M665.5 477.0h0M663.2 472.7h0"/>
<path class="c59" d="M687.1 476.0h0M693.7 473.5h0M689.2 469.6h0M687.9 472.3h0"/>
<path class="c58" d="M679.7 461.8h0M690.2 466.6h0M697.0 474.9h0M681.7 488.8h0M695.4 471.6h0M696.6 479.2h0M663.1 486.8h0M661.5 481.5h0"/>
<path class="c57" d="M673.6 498.0h0M658.7 490.9h0M682.0 454.9h0M696.6 466.9h0M650.4 476.3h0M674.4 498.4h0M698.1 480.7h0M685.8 495.1h0M685.8 457.5h0M697.2 470.7h0M659.5 495.7h0M689.7 459.1h0"/>
<path class="c56" d="M676.1 499.1h0M649.7 477.5h0M699.3 481.4h0M658.4 463.2h0M672.4 498.3h0"/>
<path class="c55" d="M665.0 452.9h0M706.7 476.9h0M646.2 474.4h0M672.5 451.7h0M652.9 492.7h0M690.8 454.3h0M670.2 454.7h0M652.6 486.6h0M644.6 478.8h0"/>
<path class="c54" d="M661.5 450.9h0M683.9 505.4h0M661.7 451.4h0M691.9 451.4h0M709.2 466.9h0M685.0 503.1h0M661.1 503.6h0"/>
<path class="c53" d="M698.1 452.4h0M686.9 447.7h0M651.6 459.5h0M650.7 462.0h0M673.0 444.9h0"/>
<path class="c52" d="M663.3 445.4h0M695.2 502.0h0M706.2 492.4h0"/>
<path class="c51" d="M654.8 505.9h0M698.6 448.0h0M646.3 499.0h0M654.7 451.3h0M716.2 467.6h0M639.8 487.8h0M643.5 465.7h0M644.0 463.3h0M646.8 499.9h0M709.9 486.4h0M652.5 451.8h0"/>
<path class="c50" d="M649.2 452.7h0M639.2 465.6h0M637.3 469.0h0M708.8 452.5h0M694.8 505.5h0M637.0 479.9h0M716.7 479.8h0M650.3 452.0h0"/>
<path class="c49" d="M634.1 481.7h0M714.8 487.2h0M683.7 440.0h0M640.4 459.2h0M698.2 506.1h0M696.2 442.9h0M644.5 456.1h0M714.0 459.2h0"/>
<path class="c48" d="M708.9 448.5h0M639.6 500.9h0M667.7 438.5h0M655.3 512.1h0M708.5 448.4h0M676.3 437.0h0M667.7 516.9h0"/>
<path class="c47" d="M705.0 501.8h0M635.7 490.6h0M633.4 463.4h0M671.1 435.3h0"/>
<path class="c46" d="M708.7 445.2h0M663.0 518.2h0M632.0 485.0h0M639.4 454.6h0"/>
<path class="c45" d="M659.4 519.1h0M677.2 520.0h0M635.6 499.7h0M711.8 443.4h0M708.6 502.4h0"/>
<path class="c44" d="M687.9 434.4h0M725.3 462.7h0M643.2 448.8h0M626.4 477.9h0M722.8 481.1h0"/>
<path class="c43" d="M722.4 459.1h0M722.1 451.8h0M629.9 492.9h0"/>
<path class="c42" d="M653.2 432.8h0M624.4 481.8h0M677.2 431.2h0M724.5 456.3h0"/>
<path class="c41" d="M673.2 428.8h0M701.9 430.6h0M684.0 429.3h0M668.2 428.2h0M649.8 433.9h0"/>
<path class="c40" d="M724.0 451.2h0M678.0 427.7h0M719.8 497.2h0M626.6 456.9h0M708.4 509.2h0M667.2 427.9h0"/>
<path class="c39" d="M647.3 523.4h0M641.0 518.2h0M630.6 503.7h0"/>
<path class="c38" d="M640.9 435.9h0M696.3 424.9h0"/>
<path class="c37" d="M728.1 451.8h0M646.2 524.7h0"/>
<path class="c36" d="M711.0 512.3h0M621.7 492.1h0M672.7 529.4h0"/>
<path class="c35" d="M706.2 424.9h0M634.6 440.2h0M629.3 505.3h0M701.1 519.5h0"/>
<path class="c34" d="M681.0 421.0h0M710.1 513.8h0M681.6 529.8h0M645.8 525.6h0M701.5 421.8h0M672.2 422.4h0"/>
<path class="c33" d="M705.2 516.9h0"/>
<path class="c32" d="M671.7 532.5h0M630.0 513.0h0M704.7 422.1h0M714.4 509.9h0M635.8 435.8h0"/>
<path class="c31" d="M725.6 436.5h0M670.2 533.2h0"/>
<path class="c30" d="M711.5 423.1h0M702.8 521.8h0M713.9 424.7h0M736.5 463.9h0M646.9 532.6h0"/>
<path class="c29" d="M728.1 501.4h0M705.3 416.9h0"/>
<path class="c28" d="M695.9 531.4h0M724.2 507.4h0M635.7 425.7h0M627.3 435.6h0"/>
<path class="c27" d="M678.0 540.5h0M666.1 414.0h0M678.6 540.2h0M621.7 439.3h0M740.8 464.5h0"/>
<path class="c26" d="M617.4 445.5h0M622.7 437.7h0M724.6 426.7h0"/>
<path class="c25" d="M610.3 500.9h0M743.7 463.5h0M612.8 449.8h0M741.3 487.7h0M731.7 506.0h0"/>
<path class="c24" d="M616.5 441.4h0M728.5 423.8h0M668.3 548.4h0M732.3 508.7h0M646.7 540.7h0"/>
<path class="c23" d="M669.5 404.6h0M745.3 481.3h0M723.3 419.7h0"/>
<path class="c22" d="M676.3 550.4h0M620.3 429.7h0M652.2 550.0h0M667.5 550.9h0M607.6 503.8h0M712.9 528.5h0M709.4 529.7h0M605.0 500.3h0M623.2 425.0h0"/>
<path class="c21" d="M626.0 533.8h0M679.3 550.9h0M732.9 420.8h0M602.5 491.5h0M609.1 510.3h0M665.7 552.8h0M617.3 522.8h0M751.4 468.7h0"/>
<path class="c20" d="M662.9 554.2h0M665.1 553.4h0M693.5 397.5h0M626.3 536.0h0M636.2 542.4h0M614.6 433.3h0"/>
<path class="c19" d="M716.3 404.4h0M601.0 458.4h0M724.2 527.7h0M740.7 427.8h0M688.1 395.1h0M693.9 549.4h0M617.6 422.8h0M753.5 468.5h0M710.5 536.7h0"/>
<path class="c18" d="M726.9 526.1h0M634.2 544.0h0M697.4 394.7h0M755.8 481.2h0"/>
<path class="c17" d="M618.3 418.2h0M695.1 554.2h0M756.7 465.3h0M595.2 478.9h0M756.5 456.4h0"/>
<path class="c16" d="M617.6 536.7h0M714.6 397.1h0M638.9 401.7h0M761.7 474.1h0M717.5 544.2h0M594.2 495.3h0M673.1 560.9h0"/>
<path class="c15" d="M762.3 472.6h0M732.8 402.8h0M736.8 409.6h0"/>
<path class="c14" d="M587.3 478.6h0M594.8 447.5h0M597.2 443.4h0M629.1 402.1h0"/>
<path class="c13" d="M755.2 423.2h0M648.0 564.7h0M754.2 426.9h0"/>
<path class="c12" d="M719.4 551.1h0M628.1 396.9h0M637.5 561.6h0M743.2 526.8h0M764.0 493.8h0"/>
<path class="c11" d="M582.2 463.5h0M583.1 463.4h0M601.5 415.5h0M697.7 382.5h0M764.9 498.0h0"/>
<path class="c10" d="M628.5 561.8h0M729.7 552.3h0M622.5 392.7h0M720.6 557.0h0M636.1 388.0h0M772.4 454.6h0M580.4 482.4h0M622.2 553.7h0"/>
<path class="c9" d="M590.3 425.9h0M762.7 422.5h0M774.5 459.6h0"/>
<path class="c8" d="M712.6 572.7h0M776.9 486.2h0M622.0 565.8h0M718.7 571.9h0M721.3 566.3h0"/>
<path class="c7" d="M778.6 444.6h0M780.8 464.9h0M754.8 399.8h0M769.6 426.6h0M747.6 392.8h0"/>
<path class="c6" d="M569.0 490.9h0M571.3 456.3h0M736.5 565.6h0"/>
<path class="c5" d="M747.3 381.0h0M692.1 359.5h0"/>
<path class="c4" d="M750.2 381.2h0M770.0 403.5h0"/>
<path class="c3" d="M624.6 592.4h0M558.4 464.4h0M556.5 482.8h0"/>
<path class="c2" d="M801.1 514.5h0M810.0 467.1h0"/>
<path class="c1" d="M707.4 318.7h0M684.4 615.8h0M700.7 319.8h0M691.7 322.6h0M605.7 606.5h0"/>
<path class="c0" d="M845.0 495.4h0"/>
</g>
<g class="dots">
<path class="c0" d="M1742.0 584.2h0M1229.8 847.3h0M1445.3 871.8h0"/>
<path class="c1" d="M1702.2 437.8h0M1125.6 495.3h0M1597.1 791.5h0M1282.1 766.8h0M1420.1 843.7h0M1143.3 630.7h0M1199.6 456.8h0M1127.0 481.6h0M1340.8 267.8h0"/>
<path class="c2" d="M1197.1 581.6h0M1609.0 325.1h0M1484.3 820.5h0M1394.8 292.8h0M1384.6 298.6h0M1202.3 495.1h0M1700.2 590.2h0M1543.6 300.7h0M1697.0 573.8h0M1192.7 598.2h0M1228.0 425.0h0M1344.8 805.7h0M1235.5 646.8h0"/>
<path class="c3" d="M1560.6 764.6h0M1405.1 793.3h0M1249.9 412.5h0M1653.3 452.7h0M1694.0 501.3h0M1296.2 326.1h0M1632.1 371.2h0M1680.6 475.0h0M1662.7 439.6h0M1545.5 307.2h0M1690.4 484.1h0M1222.4 561.0h0M1217.0 509.6h0"/>
<path class="c4" d="M1642.5 428.4h0M1233.8 567.4h0M1317.6 330.2h0M1671.9 644.7h0M1667.2 621.6h0M1666.6 488.7h0M1244.9 432.3h0M1677.6 495.2h0M1650.1 660.4h0M1397.6 314.2h0M1680.3 542.3h0M1284.2 715.5h0"/>
<path class="c5" d="M1498.9 313.6h0M1521.4 757.6h0M1524.3 759.8h0M1550.2 325.9h0M1289.5 376.1h0M1325.4 329.5h0M1613.4 738.8h0M1572.9 346.9h0M1477.9 786.8h0"/>
<path class="c6" d="M1605.5 731.9h0M1485.9 324.8h0M1515.6 753.8h0M1297.2 401.2h0M1247.4 606.0h0M1346.2 742.6h0M1394.9 334.4h0M1259.3 502.1h0M1540.4 350.3h0M1521.2 321.6h0"/>
<path class="c7" d="M1252.9 460.9h0M1262.9 488.6h0M1258.6 476.1h0M1262.5 606.3h0M1466.2 779.8h0M1347.3 736.6h0M1254.9 482.2h0M1575.9 732.8h0M1534.6 347.1h0M1413.4 752.5h0M1255.5 451.8h0"/>
<path class="c8" d="M1585.5 714.8h0M1531.4 356.5h0M1291.5 688.4h0M1584.8 388.4h0M1503.9 341.8h0"/>
<path class="c9" d="M1487.9 343.1h0M1290.3 650.7h0M1427.4 749.9h0M1313.7 415.1h0M1525.0 729.4h0M1604.4 669.7h0M1613.9 444.1h0M1610.1 434.6h0M1634.0 521.7h0M1608.1 425.9h0M1611.2 660.2h0"/>
<path class="c10" d="M1416.3 735.7h0M1633.2 563.4h0M1394.1 360.7h0M1403.5 357.5h0M1290.2 435.5h0M1288.3 433.1h0M1440.4 740.2h0M1315.6 702.5h0M1492.0 735.1h0M1602.0 667.6h0"/>
<path class="c11" d="M1388.3 365.2h0M1522.3 721.1h0M1377.4 367.1h0M1621.9 628.7h0M1519.9 362.9h0M1632.8 544.5h0M1344.3 391.4h0M1449.0 361.7h0M1585.9 406.8h0M1322.3 687.5h0M1273.4 600.8h0M1314.0 418.6h0M1281.2 443.2h0M1489.1 359.0h0M1327.4 684.5h0M1327.9 414.7h0"/>
<path class="c12" d="M1560.0 393.8h0M1391.2 716.6h0M1602.2 455.1h0M1601.0 459.8h0M1596.5 446.9h0M1323.9 695.4h0M1619.5 585.6h0M1339.7 415.1h0M1615.7 519.0h0M1318.0 665.9h0M1565.3 397.8h0M1406.2 719.4h0"/>
<path class="c13" d="M1482.8 718.4h0M1478.2 372.6h0M1551.7 389.9h0M1450.6 727.2h0M1283.7 573.4h0M1305.1 439.3h0M1279.1 564.0h0M1497.6 366.9h0M1334.9 670.8h0M1524.6 377.9h0M1567.1 698.6h0"/>
<path class="c14" d="M1611.4 509.0h0M1612.3 605.6h0M1510.8 372.9h0M1397.7 709.3h0M1445.4 373.3h0M1612.7 612.6h0M1549.7 704.3h0M1613.9 536.8h0M1614.9 588.3h0M1490.2 375.2h0M1285.4 580.7h0"/>
<path class="c15" d="M1568.8 676.3h0M1423.5 714.5h0M1612.6 566.2h0M1563.9 682.9h0M1328.3 654.0h0M1533.8 699.9h0M1609.0 557.6h0M1446.7 719.2h0M1551.9 689.6h0M1602.3 630.8h0"/>
<path class="c16" d="M1465.9 386.1h0M1286.8 553.3h0M1554.7 403.2h0M1593.3 635.5h0M1371.9 402.4h0M1608.9 538.2h0M1344.4 431.8h0M1379.3 696.2h0M1580.8 447.8h0M1605.5 550.3h0M1607.0 536.8h0M1581.9 652.8h0M1575.4 425.3h0"/>
<path class="c17" d="M1569.0 424.2h0M1400.5 388.0h0M1524.3 391.6h0M1522.0 390.6h0M1600.1 592.0h0M1602.5 607.2h0M1600.8 574.9h0M1526.3 394.8h0M1291.3 574.3h0M1385.6 397.8h0M1602.2 558.9h0M1442.3 384.6h0M1370.8 690.5h0"/>
<path class="c18" d="M1325.1 639.3h0M1296.8 570.5h0M1567.5 432.4h0M1298.1 524.1h0M1339.5 443.7h0M1600.0 588.0h0M1525.6 397.4h0M1593.8 592.6h0M1354.9 677.1h0M1531.2 693.3h0"/>
<path class="c19" d="M1435.8 699.9h0M1593.4 523.7h0M1377.6 679.9h0M1360.9 668.2h0M1495.1 691.8h0M1573.9 641.6h0M1341.9 447.8h0M1296.8 532.2h0M1592.3 490.7h0M1427.5 699.5h0M1359.6 672.1h0M1546.5 670.6h0M1299.4 570.4h0"/>
<path class="c20" d="M1545.4 667.1h0M1590.1 491.7h0M1548.5 426.6h0M1349.1 655.0h0M1593.5 584.8h0M1370.6 428.4h0M1446.5 401.9h0M1380.6 681.3h0M1300.0 543.7h0M1476.9 691.6h0M1366.1 423.6h0M1426.3 392.5h0"/>
<path class="c21" d="M1321.3 473.0h0M1305.0 525.2h0M1524.4 406.3h0M1552.6 436.5h0M1535.0 409.8h0M1589.7 559.6h0M1469.8 692.3h0M1486.5 403.4h0M1541.0 675.5h0M1452.1 402.5h0M1586.4 589.3h0M1582.2 488.4h0M1442.1 694.5h0M1589.3 523.2h0"/>
<path class="c22" d="M1400.1 680.1h0M1305.8 542.7h0M1459.6 406.3h0M1531.8 409.3h0M1578.2 604.1h0M1577.8 603.9h0M1570.7 483.6h0M1565.9 444.3h0M1559.0 440.1h0M1531.2 676.3h0M1331.3 626.9h0M1545.1 419.6h0M1590.4 554.4h0M1580.7 493.7h0M1318.6 482.5h0M1581.9 532.7h0"/>
<path class="c23" d="M1563.9 624.1h0M1541.9 656.1h0M1576.1 495.9h0M1564.8 620.1h0M1577.4 602.0h0M1568.0 618.1h0M1551.2 646.1h0M1526.2 669.3h0"/>
<path class="c24" d="M1461.4 679.3h0M1342.1 621.5h0M1530.5 663.0h0M1562.0 462.2h0M1569.3 615.1h0M1332.5 623.0h0M1550.1 625.7h0M1328.8 617.0h0M1320.6 603.7h0M1558.2 451.5h0M1574.7 593.0h0M1321.0 591.1h0M1522.5 658.2h0M1514.8 663.6h0M1554.9 620.8h0M1581.0 514.5h0M1494.7 410.8h0M1311.4 557.5h0"/>
<path class="c25" d="M1316.8 540.3h0M1389.7 426.3h0M1503.7 415.2h0M1476.8 413.7h0M1379.1 660.4h0M1494.6 673.4h0M1313.4 517.9h0M1521.1 661.8h0M1446.2 412.2h0"/>
<path class="c26" d="M1362.3 452.6h0M1316.0 508.1h0M1559.2 612.9h0M1318.4 548.5h0M1463.2 670.9h0M1353.9 460.6h0M1488.1 669.3h0M1499.2 664.3h0M1378.7 446.9h0M1360.1 644.5h0M1355.1 630.4h0"/>
<path class="c27" d="M1485.9 665.8h0M1425.7 670.9h0M1378.1 448.4h0M1515.5 424.7h0M1383.3 659.7h0M1577.5 551.4h0M1330.6 482.8h0M1325.6 489.9h0M1322.1 577.1h0M1347.5 617.5h0M1540.5 623.9h0M1339.3 471.1h0M1319.2 533.7h0M1413.1 417.8h0M1409.2 668.9h0M1325.1 576.7h0"/>
<path class="c28" d="M1368.4 458.4h0M1349.0 613.0h0M1334.1 601.3h0M1489.2 662.3h0M1568.9 515.5h0M1327.3 574.8h0M1439.3 672.4h0M1467.8 664.2h0M1537.7 625.1h0M1367.7 458.0h0"/>
<path class="c29" d="M1382.6 651.0h0M1335.1 577.1h0M1563.3 568.2h0M1484.1 656.8h0M1528.0 438.3h0M1508.8 647.0h0M1375.3 458.9h0M1332.5 573.4h0M1324.2 531.4h0M1342.8 606.6h0M1435.3 669.3h0"/>
<path class="c30" d="M1390.5 450.3h0M1327.4 520.9h0M1557.4 586.0h0M1475.3 427.5h0M1439.0 423.6h0M1431.2 660.7h0M1481.3 650.4h0M1545.1 466.5h0"/>
<path class="c31" d="M1374.7 465.8h0M1559.9 564.1h0M1560.8 557.2h0M1385.2 640.0h0M1365.3 627.6h0M1530.0 625.4h0M1455.1 658.8h0M1406.9 656.0h0M1531.2 450.1h0"/>
<path class="c32" d="M1390.4 455.7h0M1502.2 433.5h0M1393.6 640.6h0M1540.0 465.9h0M1439.1 657.7h0M1419.1 657.6h0M1556.7 582.3h0M1419.6 428.6h0M1541.3 473.9h0M1412.7 652.8h0"/>
<path class="c33" d="M1337.3 549.6h0M1540.1 469.8h0M1337.7 559.9h0M1559.0 555.7h0M1517.0 449.5h0M1538.7 589.4h0M1541.8 587.0h0M1510.1 441.4h0"/>
<path class="c34" d="M1535.5 594.3h0M1347.8 587.9h0M1549.8 504.6h0M1338.2 502.1h0M1538.0 601.8h0"/>
<path class="c35" d="M1437.7 432.7h0M1517.9 455.8h0M1397.3 650.0h0M1345.6 567.0h0"/>
<path class="c36" d="M1548.4 518.6h0M1538.0 583.9h0M1514.9 619.7h0M1530.7 469.3h0M1426.6 435.8h0M1560.1 536.4h0M1501.7 632.3h0"/>
<path class="c37" d="M1479.3 440.3h0M1378.4 628.3h0M1526.1 606.6h0M1451.2 433.2h0M1553.7 526.6h0M1556.3 531.3h0M1424.8 647.1h0M1462.0 433.0h0"/>
<path class="c38" d="M1530.1 596.6h0M1467.7 640.1h0M1531.6 589.5h0M1495.9 443.7h0M1388.9 464.1h0M1396.1 634.6h0M1370.2 594.8h0M1387.0 466.5h0"/>
<path class="c39" d="M1369.9 484.4h0M1418.4 643.6h0M1455.1 440.2h0M1442.6 647.1h0M1370.5 597.0h0M1545.5 529.5h0"/>
<path class="c40" d="M1531.7 580.0h0M1357.3 495.5h0M1523.6 473.6h0M1449.6 440.5h0M1466.3 443.5h0M1416.4 448.8h0"/>
<path class="c41" d="M1355.8 506.9h0M1362.4 494.1h0M1525.4 482.1h0M1495.1 622.6h0M1382.2 479.0h0M1416.8 452.7h0M1350.8 539.4h0M1432.4 637.4h0M1472.5 634.9h0M1542.3 529.9h0M1357.5 498.9h0M1376.5 592.1h0M1359.8 555.7h0M1398.4 629.4h0M1435.5 448.7h0M1353.4 500.2h0M1411.6 453.0h0M1416.6 456.3h0"/>
<path class="c42" d="M1376.0 570.5h0M1519.9 476.1h0M1524.4 495.1h0M1453.0 638.9h0M1403.3 632.2h0M1363.9 497.8h0M1351.4 521.5h0M1476.1 451.0h0M1405.5 633.3h0M1414.2 460.0h0M1437.1 446.9h0M1379.4 582.9h0M1476.8 630.7h0M1384.6 602.8h0M1431.7 640.5h0M1444.6 443.8h0M1354.0 537.9h0M1358.5 544.9h0M1403.1 628.8h0M1381.7 487.5h0"/>
<path class="c43" d="M1504.9 612.9h0M1396.5 621.8h0M1525.4 497.2h0M1519.8 480.8h0M1369.9 557.7h0M1493.0 621.1h0M1389.2 606.6h0M1496.7 617.7h0M1460.7 635.4h0M1411.6 461.7h0M1358.9 539.0h0M1488.2 451.8h0M1533.8 565.6h0M1442.7 450.0h0"/>
<path class="c44" d="M1499.6 458.4h0M1415.9 636.6h0M1431.9 630.9h0M1391.6 612.6h0M1531.2 522.5h0M1420.6 466.2h0M1377.5 499.6h0M1521.1 574.7h0M1520.2 585.6h0M1428.6 630.4h0M1503.7 467.0h0M1535.6 528.1h0M1399.2 619.7h0M1369.0 551.7h0M1361.4 542.5h0"/>
<path class="c45" d="M1373.2 498.5h0M1518.5 581.5h0M1415.0 633.3h0M1514.4 602.7h0M1497.6 457.1h0M1431.3 460.4h0M1372.1 534.4h0M1484.1 621.6h0M1458.1 621.1h0M1451.7 449.1h0M1443.7 630.6h0M1501.5 470.3h0"/>
<path class="c46" d="M1441.0 457.0h0M1474.2 455.8h0M1391.3 602.9h0M1399.3 613.5h0M1427.7 466.4h0M1482.7 455.1h0M1409.0 479.5h0M1529.9 541.5h0"/>
<path class="c47" d="M1522.7 505.0h0M1508.5 485.0h0M1437.8 466.8h0M1408.3 621.1h0M1460.4 620.6h0M1512.9 585.6h0M1508.3 483.2h0M1513.5 588.6h0M1408.7 611.9h0"/>
<path class="c48" d="M1458.1 461.1h0M1379.7 507.6h0M1405.4 612.9h0M1391.9 587.0h0M1483.1 468.6h0M1383.2 554.6h0M1421.7 484.5h0M1520.7 504.3h0M1397.9 596.6h0M1366.1 521.0h0M1401.9 607.4h0M1395.7 594.0h0M1367.4 518.1h0M1379.8 536.5h0M1480.5 461.5h0M1517.6 522.8h0"/>
<path class="c49" d="M1393.7 561.8h0M1394.1 561.1h0M1507.4 496.6h0M1520.8 531.8h0M1398.2 588.2h0M1514.4 568.7h0M1447.0 614.2h0M1447.1 619.3h0M1452.1 465.6h0M1509.6 581.5h0M1394.8 567.8h0M1448.4 616.1h0M1415.0 488.2h0M1508.5 587.0h0M1387.4 543.3h0"/>
<path class="c50" d="M1459.5 610.7h0M1464.1 470.5h0M1453.0 468.0h0M1505.3 588.3h0M1517.1 559.4h0M1401.8 501.5h0M1490.1 481.2h0M1481.6 612.7h0M1388.6 523.7h0M1380.9 533.8h0M1382.4 531.6h0M1407.0 499.4h0M1391.0 554.3h0M1414.4 494.3h0M1383.2 528.0h0M1429.2 609.8h0M1391.7 537.2h0M1439.9 610.6h0M1399.1 566.8h0M1396.6 507.2h0"/>
<path class="c51" d="M1514.5 527.2h0M1397.4 542.0h0M1504.3 566.0h0M1417.7 499.7h0M1447.6 483.7h0M1395.1 537.4h0M1424.1 588.1h0M1448.3 610.0h0M1496.7 600.3h0M1416.3 504.8h0M1393.6 502.0h0M1488.0 609.3h0M1482.4 480.9h0M1502.0 572.4h0M1397.8 500.2h0M1410.2 578.9h0M1438.6 610.4h0"/>
<path class="c52" d="M1489.8 599.9h0M1490.7 491.2h0M1475.3 485.6h0M1511.2 539.5h0M1469.0 609.0h0M1507.0 564.3h0M1395.9 511.9h0M1400.6 545.6h0M1439.4 486.8h0M1501.7 569.3h0M1496.0 550.6h0M1495.0 546.4h0M1501.7 555.8h0M1494.9 549.8h0M1456.4 483.7h0M1507.2 572.0h0M1457.1 479.4h0"/>
<path class="c53" d="M1437.9 491.6h0M1420.0 574.3h0M1496.9 543.5h0M1428.0 583.7h0M1410.7 560.8h0M1474.5 484.4h0M1499.2 543.9h0M1499.3 503.2h0M1449.1 490.3h0M1407.6 509.1h0M1404.6 525.2h0M1445.1 489.7h0M1487.4 592.9h0M1495.5 540.7h0M1401.4 530.9h0M1491.4 595.5h0M1494.9 586.9h0M1512.3 544.7h0M1419.6 562.3h0M1505.7 535.6h0M1405.0 510.2h0M1472.2 484.5h0M1460.8 487.4h0M1399.1 533.2h0"/>
<path class="c54" d="M1407.1 522.9h0M1447.1 602.5h0M1469.1 593.8h0M1490.3 568.1h0M1406.2 537.9h0M1479.7 496.9h0M1507.5 538.6h0M1427.2 591.9h0M1487.3 501.6h0M1405.8 525.9h0M1500.6 537.9h0"/>
<path class="c55" d="M1463.8 578.5h0M1487.7 573.8h0M1478.1 580.0h0M1481.7 576.4h0M1429.2 570.9h0M1417.5 511.7h0M1410.0 521.7h0M1406.5 551.5h0M1427.1 568.7h0M1444.7 599.6h0M1466.8 491.7h0"/>
<path class="c56" d="M1494.1 523.9h0M1421.7 515.8h0M1490.9 526.5h0M1490.6 520.0h0M1474.1 578.0h0M1488.4 546.7h0M1417.9 512.9h0M1486.2 564.3h0M1470.7 501.4h0M1476.9 501.2h0"/>
<path class="c57" d="M1431.8 562.1h0M1472.6 572.7h0M1423.1 514.8h0M1470.1 501.6h0M1472.9 570.2h0M1478.4 509.4h0M1446.3 566.7h0M1453.8 500.6h0M1451.4 580.9h0M1458.8 503.0h0M1446.4 561.5h0M1443.8 593.6h0"/>
<path class="c58" d="M1447.9 506.5h0M1418.6 523.7h0M1470.2 568.9h0M1459.8 567.3h0M1467.4 573.3h0M1414.5 523.9h0"/>
<path class="c59" d="M1453.7 508.4h0M1448.5 530.8h0M1480.9 548.6h0M1441.1 542.3h0M1471.7 525.5h0M1443.7 536.5h0M1446.5 523.0h0M1423.2 553.7h0M1431.8 527.1h0M1461.9 521.4h0"/>
<path class="c60" d="M1467.6 557.9h0M1448.6 547.3h0M1449.7 545.1h0M1447.1 543.8h0M1458.9 526.9h0M1425.3 549.5h0M1432.7 537.5h0M1455.4 524.4h0M1464.5 560.7h0M1443.3 554.7h0M1468.7 526.5h0"/>
<path class="c61" d="M1428.4 541.2h0M1464.0 523.5h0M1477.5 540.3h0M1453.3 542.7h0"/>
<path class="c63" d="M1460.0 554.7h0"/>
<path class="c63" d="M1466.1 531.6h0M1471.5 535.8h0"/>
<path class="c62" d="M1474.4 534.7h0M1454.7 540.6h0"/>
<path class="c61" d="M1449.2 540.5h0M1429.2 538.2h0M1462.2 560.8h0M1459.5 527.2h0"/>
<path class="c60" d="M1448.9 533.9h0M1455.4 524.9h0M1451.2 546.9h0M1435.5 538.6h0M1453.9 513.1h0M1457.8 531.9h0M1472.8 524.4h0"/>
<path class="c59" d="M1448.4 530.6h0M1449.5 529.4h0M1483.7 549.0h0M1418.6 542.2h0M1478.1 542.6h0M1426.5 524.7h0M1432.8 527.0h0M1432.2 516.9h0M1446.5 522.8h0M1441.6 535.8h0"/>
<path class="c58" d="M1444.4 592.5h0M1460.8 505.3h0M1451.6 561.7h0M1464.7 568.8h0M1476.4 507.1h0M1453.8 509.1h0M1451.9 559.5h0"/>
<path class="c57" d="M1441.3 573.6h0M1457.2 572.4h0M1479.6 564.7h0M1483.5 507.9h0M1462.0 502.6h0M1445.2 508.3h0M1432.8 569.4h0M1478.0 507.2h0M1447.5 569.7h0M1417.0 544.7h0M1437.8 570.9h0M1433.0 511.9h0M1447.6 591.6h0M1449.2 568.1h0"/>
<path class="c56" d="M1459.7 498.1h0M1459.4 580.3h0M1409.1 549.7h0M1489.0 554.3h0M1472.5 579.9h0M1411.9 519.4h0M1489.8 515.9h0M1501.1 528.8h0M1422.0 556.8h0M1497.8 525.6h0M1447.9 570.9h0M1470.0 499.5h0M1485.3 542.1h0M1439.5 585.2h0M1502.4 526.0h0M1442.3 505.0h0"/>
<path class="c55" d="M1466.1 578.3h0M1494.0 535.7h0M1494.6 569.0h0M1470.3 592.5h0M1403.3 547.8h0M1492.5 556.0h0M1416.7 512.7h0"/>
<path class="c54" d="M1485.4 497.3h0M1428.7 501.0h0M1485.3 574.9h0M1498.6 514.7h0M1497.1 580.6h0M1474.5 494.4h0M1475.8 584.3h0M1467.0 584.7h0M1494.0 573.5h0M1461.4 492.2h0"/>
<path class="c53" d="M1480.7 585.3h0M1480.6 487.7h0M1413.4 565.6h0M1494.2 550.1h0M1460.2 595.5h0M1428.2 577.1h0M1510.8 552.6h0M1464.2 596.3h0M1501.0 545.7h0M1424.6 580.0h0M1399.4 533.8h0M1477.6 595.7h0M1492.5 584.7h0M1419.9 562.0h0M1407.1 516.8h0M1496.2 549.0h0M1507.2 514.8h0M1499.5 582.0h0"/>
<path class="c52" d="M1466.1 483.7h0M1433.9 489.8h0M1415.6 581.6h0M1483.1 607.7h0M1417.1 570.9h0M1462.7 607.6h0M1464.6 480.1h0M1419.1 581.6h0M1491.8 486.3h0M1481.2 478.0h0M1469.4 481.9h0M1473.7 482.6h0M1463.5 601.8h0M1415.3 582.6h0M1415.0 506.7h0M1402.5 526.4h0M1425.4 495.2h0M1506.9 555.6h0M1400.8 520.5h0M1396.5 538.9h0M1419.3 501.4h0"/>
<path class="c51" d="M1408.4 584.1h0M1449.7 480.2h0M1419.1 498.5h0M1444.2 483.3h0M1459.6 476.8h0M1503.1 563.3h0M1497.8 601.1h0M1490.2 604.9h0M1510.9 520.6h0M1462.9 478.1h0M1468.4 609.8h0M1394.0 513.1h0M1472.8 604.1h0M1393.4 533.7h0M1437.7 488.6h0M1488.2 483.7h0M1408.9 588.1h0M1502.8 580.0h0M1512.8 538.0h0M1461.7 470.0h0"/>
<path class="c50" d="M1403.2 580.1h0M1464.9 473.3h0M1389.7 539.5h0M1488.4 480.0h0M1420.7 604.6h0M1405.7 500.8h0M1508.4 502.9h0M1412.8 606.1h0M1417.9 589.8h0M1398.8 563.1h0M1467.4 614.8h0M1423.1 599.5h0M1463.0 464.7h0M1506.1 585.8h0M1411.4 593.7h0M1442.6 614.0h0"/>
<path class="c49" d="M1452.0 466.7h0M1490.4 611.2h0M1511.0 498.1h0M1411.6 491.3h0M1517.9 513.2h0M1434.7 604.7h0M1376.1 527.0h0M1399.3 589.7h0M1467.3 467.8h0M1410.0 604.9h0M1397.3 581.6h0M1462.9 460.5h0M1471.8 617.7h0M1411.3 598.8h0M1457.9 613.4h0"/>
<path class="c48" d="M1471.4 621.0h0M1438.3 620.5h0M1479.3 462.9h0M1408.7 489.2h0M1395.2 573.1h0M1524.1 553.8h0M1522.3 547.2h0M1524.9 541.5h0M1472.3 620.0h0"/>
<path class="c47" d="M1374.1 542.6h0M1428.1 473.3h0M1380.6 562.1h0M1415.4 480.3h0M1407.2 483.8h0M1377.7 557.7h0M1388.2 567.9h0M1508.5 604.8h0M1442.3 628.2h0M1521.0 524.8h0M1381.7 560.2h0M1430.0 468.8h0M1398.0 604.6h0M1504.3 481.6h0"/>
<path class="c46" d="M1444.0 457.0h0M1376.0 505.2h0M1394.0 614.0h0M1478.3 622.4h0M1528.7 531.6h0M1423.0 478.7h0M1486.3 462.4h0M1381.7 565.9h0M1364.0 514.4h0M1483.7 618.7h0M1490.4 617.4h0M1530.0 549.9h0M1388.9 570.9h0"/>
<path class="c45" d="M1358.4 526.7h0M1476.8 455.2h0M1415.3 630.6h0M1376.1 547.0h0M1525.5 510.9h0M1526.1 526.1h0M1420.4 479.6h0M1496.5 614.9h0M1533.0 535.0h0M1453.9 450.6h0M1511.2 475.7h0"/>
<path class="c44" d="M1468.6 628.3h0M1374.9 565.0h0M1523.6 574.2h0M1430.7 456.0h0M1534.4 556.4h0M1515.5 483.8h0M1358.4 517.8h0M1374.7 500.2h0M1477.4 627.7h0M1504.3 466.2h0M1535.4 539.1h0M1402.1 475.7h0M1535.6 528.1h0M1469.8 628.6h0M1534.4 536.6h0"/>
<path class="c43" d="M1520.8 597.8h0M1389.3 618.0h0M1352.6 513.0h0M1410.4 470.2h0M1455.0 638.0h0M1410.8 470.5h0M1459.1 636.5h0M1532.5 559.1h0M1358.1 509.3h0M1462.7 448.0h0M1465.1 448.7h0M1476.5 453.4h0M1381.0 587.9h0"/>
<path class="c42" d="M1528.7 498.6h0M1522.3 479.1h0M1537.6 542.1h0M1364.3 496.4h0M1478.1 450.0h0M1357.1 543.6h0M1519.3 478.7h0M1371.0 573.6h0M1427.9 445.3h0M1364.2 497.1h0"/>
<path class="c41" d="M1419.6 448.2h0M1468.7 634.8h0M1374.9 485.9h0M1421.9 637.0h0M1388.8 623.0h0M1428.5 641.9h0M1490.3 450.3h0M1432.9 447.4h0M1384.8 604.3h0M1362.9 565.1h0"/>
<path class="c40" d="M1544.6 541.6h0M1345.2 526.8h0M1543.9 552.9h0M1542.2 565.9h0M1464.9 441.7h0M1468.3 439.6h0M1349.0 497.8h0M1440.1 442.3h0M1375.6 610.9h0M1529.2 582.7h0"/>
<path class="c39" d="M1491.6 447.9h0M1511.9 449.8h0M1374.0 602.9h0M1547.5 547.6h0M1350.7 495.3h0M1423.0 441.3h0M1343.0 525.9h0M1364.0 600.3h0"/>
<path class="c38" d="M1412.6 444.7h0M1427.0 645.2h0M1446.9 437.5h0M1371.5 600.7h0M1376.4 475.2h0M1345.0 510.9h0M1357.5 481.6h0M1436.0 438.6h0M1548.6 552.5h0M1378.9 629.7h0M1386.6 465.9h0M1381.9 471.5h0"/>
<path class="c37" d="M1402.0 456.7h0M1495.7 634.1h0M1479.8 438.6h0M1457.7 437.6h0M1541.2 580.6h0M1351.5 569.7h0M1355.3 580.0h0M1363.7 610.7h0M1384.6 632.3h0"/>
<path class="c36" d="M1373.8 474.4h0M1510.7 622.9h0M1483.1 436.8h0M1543.7 495.8h0M1438.5 431.9h0M1369.8 474.1h0M1378.2 631.2h0M1407.4 446.6h0"/>
<path class="c35" d="M1547.2 516.3h0M1336.7 519.2h0M1551.1 573.3h0M1344.0 491.4h0M1341.5 557.5h0M1441.8 432.0h0M1553.1 559.7h0"/>
<path class="c34" d="M1546.4 507.3h0M1527.1 455.1h0M1379.7 466.0h0M1336.3 525.9h0"/>
<path class="c33" d="M1333.5 528.3h0M1328.5 518.9h0M1398.5 653.7h0M1397.0 455.8h0M1356.2 602.6h0M1352.2 474.0h0M1553.0 502.4h0M1426.4 426.7h0M1333.3 516.2h0M1546.9 488.2h0M1444.5 654.0h0"/>
<path class="c32" d="M1376.0 633.7h0M1449.2 655.9h0M1355.9 470.1h0M1517.6 625.9h0M1333.2 563.2h0M1359.7 617.3h0M1547.9 598.5h0M1420.8 427.9h0M1557.0 518.0h0"/>
<path class="c31" d="M1522.7 626.6h0M1449.4 428.7h0M1426.6 659.2h0M1331.4 548.2h0M1428.7 657.9h0M1483.1 430.2h0M1406.8 432.4h0M1495.9 649.8h0M1340.7 597.3h0M1347.6 474.4h0M1487.5 430.9h0M1370.2 466.0h0"/>
<path class="c30" d="M1342.5 576.4h0M1543.7 460.6h0M1388.8 454.1h0M1324.3 519.9h0M1377.5 456.4h0M1326.3 513.3h0"/>
<path class="c29" d="M1466.0 656.7h0M1342.2 473.2h0M1328.1 540.3h0M1362.4 461.4h0M1343.3 608.9h0M1400.3 440.7h0M1563.3 552.5h0M1560.5 504.8h0M1485.9 661.5h0M1532.5 627.5h0M1444.2 419.0h0M1333.4 483.7h0M1555.1 490.0h0"/>
<path class="c28" d="M1472.6 661.9h0M1570.7 538.2h0M1362.1 460.8h0M1324.3 563.7h0M1333.4 592.3h0M1454.9 669.5h0M1390.7 660.4h0M1353.2 620.8h0M1567.2 524.6h0M1468.3 656.0h0M1423.5 666.5h0M1414.9 418.6h0M1328.1 581.2h0M1458.3 667.3h0M1326.1 567.7h0"/>
<path class="c27" d="M1529.0 430.8h0M1448.6 673.1h0M1525.9 427.1h0M1464.6 666.5h0M1460.9 670.5h0M1560.2 489.6h0M1523.0 651.3h0M1505.5 657.2h0M1540.8 636.5h0M1565.7 589.9h0"/>
<path class="c26" d="M1333.5 612.6h0M1568.6 503.7h0M1526.2 421.0h0M1490.7 665.8h0M1358.9 455.7h0M1573.8 570.0h0M1538.8 435.6h0M1363.5 451.4h0M1317.1 512.1h0M1320.1 495.0h0M1372.9 651.0h0M1488.7 418.1h0M1357.0 459.4h0"/>
<path class="c25" d="M1575.4 570.9h0M1383.4 434.4h0M1571.7 585.7h0M1346.5 626.9h0M1381.5 662.0h0M1535.0 425.8h0"/>
<path class="c24" d="M1313.2 544.5h0M1510.2 414.0h0M1370.0 657.3h0M1558.0 624.0h0M1309.4 530.0h0M1503.6 669.2h0M1550.6 441.3h0M1553.5 629.6h0M1584.7 573.4h0M1569.6 495.6h0"/>
<path class="c23" d="M1434.4 686.1h0M1409.8 407.9h0M1490.5 411.9h0M1562.7 629.5h0M1567.2 476.8h0M1438.2 405.1h0M1324.0 479.2h0M1562.7 457.7h0M1330.4 622.3h0M1563.5 627.4h0"/>
<path class="c22" d="M1536.8 670.5h0M1498.2 407.6h0M1317.0 483.5h0M1488.4 680.6h0M1580.0 603.5h0M1513.1 404.9h0M1434.3 689.8h0M1347.7 641.0h0M1585.9 496.6h0M1534.8 676.4h0M1421.0 691.1h0M1377.8 431.4h0M1447.3 407.1h0M1588.5 555.5h0"/>
<path class="c21" d="M1587.2 585.5h0M1452.0 692.9h0M1335.8 453.8h0M1582.1 618.5h0M1404.8 401.3h0M1510.1 397.2h0M1349.0 649.6h0M1571.7 486.4h0M1576.2 485.4h0M1556.9 436.0h0M1588.2 523.4h0"/>
<path class="c20" d="M1313.7 618.9h0M1377.0 422.5h0M1350.4 439.9h0M1516.5 399.2h0M1441.4 699.4h0M1360.6 428.0h0M1593.0 559.4h0M1581.3 622.9h0M1458.6 397.4h0M1541.6 410.3h0M1324.2 457.9h0M1584.4 487.8h0M1328.7 454.1h0M1506.5 396.0h0M1299.9 578.1h0M1440.7 696.9h0M1307.4 607.8h0M1592.3 609.2h0"/>
<path class="c19" d="M1592.3 625.3h0M1407.4 697.5h0M1599.7 584.2h0M1388.2 686.1h0M1497.4 395.3h0M1368.6 673.7h0M1438.9 700.7h0M1417.9 392.7h0M1504.6 390.3h0M1465.3 699.1h0M1595.7 587.3h0M1582.2 467.1h0"/>
<path class="c18" d="M1597.4 624.8h0M1311.1 464.2h0M1405.7 700.2h0M1356.8 423.4h0M1599.0 613.5h0M1552.6 420.7h0M1482.0 694.8h0M1335.6 647.5h0M1304.2 611.0h0M1471.0 699.5h0M1601.1 543.1h0"/>
<path class="c17" d="M1435.5 385.8h0M1557.2 413.0h0M1302.7 468.4h0M1301.8 498.5h0M1601.0 567.8h0M1604.7 609.8h0"/>
<path class="c16" d="M1374.1 397.3h0M1414.8 380.3h0M1375.8 397.5h0M1490.3 387.0h0M1303.5 463.0h0M1302.8 475.3h0M1300.4 623.0h0M1370.3 411.8h0M1292.2 572.9h0M1334.2 435.0h0M1580.9 440.2h0M1567.6 416.6h0"/>
<path class="c15" d="M1453.1 718.9h0M1394.5 702.2h0M1500.1 381.8h0M1587.8 451.0h0M1511.6 703.4h0M1297.3 616.3h0M1332.5 657.3h0M1289.9 570.8h0M1584.4 654.9h0M1520.5 385.2h0M1554.7 687.1h0M1444.8 374.3h0M1392.4 384.1h0M1598.6 488.1h0"/>
<path class="c14" d="M1552.0 704.0h0M1302.0 443.6h0M1301.7 446.6h0M1338.8 427.3h0M1387.6 379.9h0M1585.5 660.0h0M1343.2 421.0h0M1549.1 700.3h0M1280.9 537.8h0M1562.1 403.2h0M1567.1 684.8h0M1394.0 379.3h0M1542.5 707.2h0"/>
<path class="c13" d="M1442.4 730.3h0M1293.4 451.8h0M1394.7 712.0h0M1498.3 368.3h0M1576.6 414.5h0M1390.0 710.2h0M1279.6 528.6h0M1279.5 535.0h0M1277.5 557.7h0M1360.4 399.0h0M1330.6 669.9h0M1453.5 369.9h0M1484.2 376.6h0M1281.8 605.3h0M1485.8 711.6h0"/>
<path class="c12" d="M1546.5 712.0h0M1516.8 368.8h0M1301.5 434.2h0M1613.0 639.5h0M1624.1 547.7h0M1516.8 370.1h0M1575.1 688.5h0M1556.7 707.5h0M1612.5 639.8h0"/>
<path class="c11" d="M1606.6 462.1h0M1509.9 721.7h0M1625.9 596.7h0M1537.1 378.1h0M1277.0 457.0h0M1423.8 733.7h0M1283.9 443.0h0M1325.5 688.2h0M1578.3 688.8h0M1470.5 352.8h0M1616.3 634.5h0"/>
<path class="c10" d="M1452.0 746.1h0M1327.3 711.3h0M1583.1 707.8h0M1591.7 406.9h0M1591.0 680.2h0M1608.5 657.0h0M1276.4 496.0h0M1635.1 542.1h0M1477.0 351.4h0M1265.1 537.8h0M1342.6 393.5h0M1372.2 365.2h0M1285.3 635.2h0"/>
<path class="c9" d="M1493.3 744.0h0M1262.5 566.3h0M1634.4 571.8h0M1578.6 390.8h0M1569.7 725.8h0M1259.8 582.4h0M1458.7 753.8h0M1408.5 352.2h0M1596.4 676.8h0M1265.6 504.3h0M1630.2 520.7h0M1361.7 727.9h0M1287.3 648.7h0M1304.1 681.5h0"/>
<path class="c8" d="M1613.9 437.7h0M1314.5 719.7h0M1638.6 601.7h0M1335.1 726.6h0M1348.9 361.4h0M1622.1 455.5h0M1573.0 376.2h0"/>
<path class="c7" d="M1648.5 563.7h0M1457.9 778.6h0M1471.6 335.1h0M1636.7 638.9h0M1644.8 588.1h0M1486.5 764.8h0M1434.4 765.5h0M1263.9 622.6h0M1324.2 380.9h0M1341.5 343.8h0M1333.8 730.1h0M1638.7 490.6h0"/>
<path class="c6" d="M1316.0 352.4h0M1648.4 607.5h0M1432.4 770.4h0M1663.6 567.1h0M1400.4 746.7h0M1651.0 565.1h0M1604.9 379.4h0M1351.4 346.3h0M1646.7 504.9h0M1249.1 614.1h0M1646.5 641.6h0M1318.8 369.5h0"/>
<path class="c5" d="M1366.9 318.7h0M1275.9 686.8h0M1393.1 331.6h0M1652.9 639.7h0M1300.6 343.6h0M1594.8 370.0h0M1300.7 372.9h0M1494.0 787.7h0M1621.3 401.3h0M1367.0 317.3h0M1611.6 726.4h0M1242.9 498.9h0M1624.0 684.6h0"/>
<path class="c4" d="M1282.2 702.6h0M1385.5 771.9h0M1640.6 724.8h0M1644.1 459.4h0M1532.8 311.7h0M1668.6 511.9h0M1222.3 514.9h0M1535.9 768.1h0"/>
<path class="c3" d="M1255.4 688.9h0M1643.6 743.5h0M1324.5 307.5h0M1260.3 694.0h0M1266.6 696.0h0M1236.2 432.0h0"/>
<path class="c2" d="M1214.9 669.8h0M1475.9 823.9h0M1656.5 727.0h0M1261.8 359.2h0M1669.7 677.3h0M1651.6 692.1h0M1534.5 799.3h0M1689.2 651.1h0"/>
<path class="c1" d="M1742.0 567.3h0M1541.6 279.7h0M1406.7 261.9h0M1663.6 401.6h0M1443.5 245.1h0M1642.6 358.5h0M1499.4 249.8h0M1135.7 470.8h0M1537.8 807.0h0M1720.5 534.5h0M1739.1 505.4h0M1495.1 250.5h0M1127.8 646.2h0M1477.9 268.7h0M1336.5 837.2h0M1158.8 480.9h0M1461.7 271.5h0M1187.7 599.8h0M1754.9 456.7h0M1684.8 394.8h0M1399.1 831.9h0"/>
<path class="c0" d="M1760.7 732.0h0M1776.9 633.6h0M1548.0 219.5h0"/>
<path class="c0" d="M1647.9 227.5h0M1256.4 824.2h0M1162.4 518.0h0M1199.1 300.6h0M1215.4 302.8h0M1149.8 408.1h0"/>
<path class="c1" d="M1696.4 434.1h0M1722.6 561.2h0M1250.2 745.7h0M1239.3 357.3h0M1238.3 737.6h0M1153.4 503.9h0"/>
<path class="c2" d="M1725.7 507.0h0M1242.4 383.4h0M1536.7 793.1h0M1703.1 611.5h0M1334.6 285.3h0M1672.9 434.3h0M1196.1 599.1h0M1351.6 792.9h0"/>
<path class="c3" d="M1238.9 637.8h0M1640.6 406.1h0M1434.1 316.5h0M1238.3 661.6h0M1637.8 386.8h0M1595.6 339.3h0M1273.5 384.5h0M1649.5 439.8h0M1547.4 766.2h0M1477.9 813.3h0"/>
<path class="c4" d="M1670.9 468.1h0M1642.9 429.2h0M1218.2 525.7h0M1264.6 659.9h0M1476.1 312.6h0M1664.9 486.4h0M1669.1 579.0h0"/>
<path class="c5" d="M1580.3 749.8h0M1468.3 791.8h0M1273.9 414.1h0M1376.4 317.3h0M1538.6 321.8h0M1285.7 706.5h0M1237.8 550.8h0M1653.8 485.8h0M1319.4 735.5h0M1493.9 317.8h0M1594.2 355.0h0M1243.2 596.8h0"/>
<path class="c6" d="M1527.8 749.1h0M1356.4 335.4h0M1308.3 397.0h0M1284.2 684.1h0M1612.1 728.1h0M1261.3 642.5h0M1624.4 421.2h0M1652.1 523.0h0M1308.5 387.6h0M1289.3 696.6h0M1485.7 772.8h0"/>
<path class="c7" d="M1343.0 345.4h0M1443.7 767.9h0M1643.0 581.9h0M1603.3 397.4h0M1491.3 765.9h0M1278.7 425.2h0M1391.4 341.7h0M1638.9 582.0h0M1316.2 387.7h0M1654.6 538.6h0M1334.2 370.3h0M1379.2 745.0h0M1442.2 341.4h0M1603.9 698.9h0M1559.7 742.1h0M1598.9 714.2h0M1606.1 708.0h0"/>
<path class="c8" d="M1361.4 360.3h0M1447.6 756.7h0M1614.7 410.7h0M1575.4 379.6h0M1533.9 735.9h0M1638.9 584.7h0M1337.3 721.7h0M1334.1 723.3h0M1376.6 345.0h0M1391.5 346.3h0M1340.5 369.8h0M1487.6 761.3h0M1566.8 728.8h0M1261.7 439.7h0"/>
<path class="c9" d="M1451.4 757.5h0M1270.5 463.6h0M1481.5 759.9h0M1633.2 620.2h0M1417.5 748.8h0M1606.0 445.1h0M1496.5 732.2h0M1599.0 405.8h0"/>
<path class="c10" d="M1620.7 477.5h0M1619.1 494.5h0M1496.5 741.3h0M1450.0 745.5h0M1323.8 413.8h0M1547.7 372.5h0M1297.4 659.8h0M1602.3 442.8h0M1466.6 754.3h0M1271.8 585.8h0M1614.2 647.8h0M1629.9 575.6h0M1272.9 465.9h0M1334.5 714.1h0M1630.1 567.7h0M1307.8 698.7h0"/>
<path class="c11" d="M1544.6 719.0h0M1624.7 531.0h0M1329.3 702.5h0M1582.3 413.8h0M1470.7 355.5h0M1329.3 413.0h0M1319.3 676.8h0M1448.4 363.9h0M1486.6 362.7h0M1282.9 487.7h0M1332.4 407.6h0M1318.8 695.2h0M1601.2 658.1h0M1274.5 605.7h0M1566.2 394.4h0"/>
<path class="c12" d="M1275.6 567.9h0M1328.6 676.5h0M1614.1 485.6h0M1577.0 705.7h0M1362.0 714.3h0"/>
<path class="c13" d="M1347.8 408.9h0M1289.7 496.1h0M1620.4 575.6h0M1404.3 374.1h0M1279.5 535.0h0M1613.0 515.7h0M1584.8 662.1h0M1363.7 398.9h0M1430.6 368.2h0M1609.2 639.4h0"/>
<path class="c14" d="M1572.6 677.5h0M1462.6 372.9h0M1597.6 640.5h0M1503.9 377.1h0M1489.8 711.0h0M1397.4 707.7h0M1398.2 379.8h0M1574.7 414.3h0M1490.6 711.4h0M1310.7 643.5h0M1491.4 711.2h0M1339.7 685.3h0M1302.4 444.5h0M1352.0 695.3h0M1418.2 720.8h0M1511.9 712.5h0M1330.9 432.8h0M1369.2 391.4h0M1368.0 396.4h0"/>
<path class="c15" d="M1349.6 693.8h0M1342.3 434.9h0M1301.7 631.3h0M1336.1 431.1h0M1315.2 648.3h0M1346.9 688.2h0M1493.2 379.0h0M1362.6 408.2h0M1431.7 720.0h0M1315.1 442.0h0M1374.4 699.9h0M1371.3 696.2h0M1558.8 681.5h0"/>
<path class="c16" d="M1576.1 429.7h0M1322.6 642.6h0M1594.9 466.9h0M1537.5 394.7h0M1315.7 449.9h0M1296.6 506.8h0M1589.7 640.7h0"/>
<path class="c17" d="M1317.1 637.7h0M1290.1 552.6h0M1548.8 686.3h0M1295.4 601.0h0M1295.2 558.2h0M1291.7 526.6h0M1597.4 565.5h0M1586.0 643.4h0M1297.6 514.0h0"/>
<path class="c18" d="M1515.4 390.1h0M1325.4 640.2h0M1423.4 383.5h0M1448.1 386.9h0M1418.9 701.4h0M1598.8 557.7h0M1514.9 691.8h0"/>
<path class="c19" d="M1310.9 625.7h0M1599.0 610.4h0M1593.4 613.3h0M1594.5 596.0h0M1306.3 490.5h0"/>
<path class="c20" d="M1566.3 648.2h0M1362.3 431.4h0M1360.4 663.2h0M1423.3 696.4h0M1380.8 409.6h0M1459.9 693.6h0M1488.1 692.9h0M1486.2 398.3h0M1301.9 595.6h0M1594.5 549.0h0"/>
<path class="c21" d="M1581.3 490.1h0M1383.9 673.2h0M1575.3 464.7h0M1405.1 401.9h0M1472.9 401.2h0M1517.3 682.6h0M1580.6 606.2h0M1567.1 441.1h0M1578.7 624.8h0M1307.3 602.1h0M1436.1 397.1h0M1498.5 686.7h0M1357.5 653.1h0M1324.6 464.0h0M1546.2 428.5h0M1573.4 631.7h0M1575.3 465.7h0M1344.5 451.4h0M1308.6 508.0h0"/>
<path class="c22" d="M1583.9 586.6h0M1581.5 586.0h0M1574.2 623.4h0M1585.5 529.6h0M1473.0 687.3h0M1585.2 514.4h0M1559.4 445.0h0M1446.8 690.9h0M1547.5 436.2h0M1313.7 491.1h0M1498.2 401.6h0M1520.1 408.2h0M1481.0 681.8h0"/>
<path class="c23" d="M1386.3 426.4h0M1445.8 686.8h0M1308.4 549.0h0M1309.9 555.4h0M1575.2 519.8h0M1316.3 605.8h0M1409.1 409.3h0M1315.1 604.5h0M1309.4 546.6h0M1504.3 672.8h0M1331.0 462.5h0M1561.7 449.2h0M1394.8 674.3h0M1475.8 688.3h0M1552.8 637.5h0"/>
<path class="c24" d="M1478.1 673.8h0M1464.2 684.7h0M1308.5 565.4h0M1316.4 602.8h0M1506.6 416.6h0M1550.9 642.7h0M1552.8 443.9h0M1317.2 601.1h0M1460.3 414.4h0"/>
<path class="c25" d="M1321.1 586.8h0M1561.2 495.7h0M1312.6 574.3h0M1435.7 680.4h0M1574.7 570.7h0M1510.4 418.9h0M1463.1 681.6h0M1313.5 509.1h0M1524.9 418.5h0M1562.4 612.3h0M1564.7 471.3h0"/>
<path class="c26" d="M1407.4 669.2h0M1575.7 537.5h0M1376.6 655.2h0M1544.4 629.9h0M1545.9 445.3h0M1566.8 589.7h0M1367.6 649.0h0M1535.2 430.2h0M1517.8 656.7h0M1558.0 480.6h0M1431.0 411.5h0"/>
<path class="c27" d="M1381.5 657.1h0M1316.4 510.6h0M1492.2 422.8h0M1332.0 481.4h0M1458.4 674.3h0M1517.1 424.1h0M1327.3 488.5h0M1449.4 672.1h0"/>
<path class="c28" d="M1431.9 672.3h0M1565.5 519.1h0M1322.9 557.2h0M1514.6 650.3h0M1355.0 624.0h0M1540.4 621.6h0M1553.1 612.2h0M1423.1 666.8h0M1433.3 415.3h0M1455.3 418.6h0M1443.8 667.2h0"/>
<path class="c29" d="M1503.3 428.6h0M1332.4 587.0h0M1427.6 662.8h0M1327.4 537.7h0M1558.6 584.5h0M1511.0 647.3h0M1325.9 558.3h0M1396.6 441.3h0"/>
<path class="c30" d="M1520.9 635.3h0M1463.0 423.7h0M1547.6 610.6h0M1498.2 427.8h0M1347.9 471.6h0M1495.1 429.4h0M1485.6 653.8h0M1335.6 572.6h0M1340.3 489.3h0M1558.6 581.8h0"/>
<path class="c31" d="M1355.4 468.4h0M1480.5 429.6h0M1419.3 427.8h0M1560.8 552.5h0M1506.3 643.0h0M1336.5 544.5h0M1339.9 490.4h0M1416.8 425.7h0M1523.0 447.0h0"/>
<path class="c32" d="M1344.0 572.6h0M1343.3 482.2h0M1386.3 638.8h0M1352.8 471.1h0M1535.8 612.6h0M1506.0 640.4h0M1544.3 482.8h0M1411.9 433.1h0"/>
<path class="c33" d="M1540.1 469.0h0M1549.0 495.6h0M1394.4 640.2h0M1411.4 654.1h0M1502.1 434.9h0M1335.6 523.2h0M1552.1 503.2h0M1530.1 612.7h0M1486.2 649.1h0M1337.9 549.3h0M1342.5 593.4h0"/>
<path class="c34" d="M1345.6 587.0h0M1366.7 474.5h0M1547.0 512.6h0M1438.7 653.8h0M1497.5 437.1h0M1529.7 460.9h0M1393.9 638.2h0M1345.6 487.8h0"/>
<path class="c35" d="M1340.6 563.9h0M1341.3 545.1h0M1534.2 468.0h0M1334.7 532.6h0M1538.8 598.2h0M1404.7 450.9h0M1404.3 448.8h0"/>
<path class="c36" d="M1529.2 465.9h0M1532.5 590.2h0M1404.7 650.8h0M1544.8 495.7h0M1474.0 436.0h0M1543.5 581.7h0M1419.5 435.1h0M1539.7 582.4h0M1506.5 444.8h0M1559.1 535.4h0M1511.9 621.3h0M1504.7 627.7h0M1552.0 559.9h0M1503.9 631.7h0"/>
<path class="c37" d="M1551.1 542.5h0M1352.3 481.4h0M1540.8 582.1h0M1366.8 481.4h0M1351.6 568.3h0M1527.7 604.7h0M1542.9 513.4h0M1408.1 446.9h0M1341.2 503.6h0M1548.0 519.2h0M1434.9 648.4h0"/>
<path class="c38" d="M1351.2 546.2h0M1524.3 609.9h0M1364.2 604.5h0M1417.4 440.2h0M1531.7 483.9h0M1342.8 532.4h0M1545.1 555.2h0M1352.9 575.5h0M1358.7 586.9h0M1495.5 627.5h0M1482.5 443.8h0M1348.0 491.2h0M1436.0 436.5h0M1383.9 471.4h0"/>
<path class="c39" d="M1371.9 596.7h0M1535.2 511.7h0M1373.5 598.5h0M1374.6 476.7h0M1531.2 586.2h0M1382.8 628.1h0M1365.5 485.1h0M1381.9 628.2h0M1481.4 635.2h0M1537.5 504.2h0"/>
<path class="c40" d="M1377.2 484.4h0M1376.8 491.6h0M1515.0 462.7h0M1385.6 623.9h0M1543.1 553.4h0M1351.4 494.1h0M1524.1 474.7h0M1352.1 497.3h0M1397.3 632.7h0M1531.5 489.5h0"/>
<path class="c41" d="M1478.3 448.9h0M1509.8 612.4h0M1354.8 504.2h0M1374.9 491.7h0M1398.6 634.9h0M1526.0 582.7h0M1376.6 586.0h0M1532.3 494.3h0M1368.9 579.3h0M1540.7 549.9h0"/>
<path class="c42" d="M1454.4 443.5h0M1351.7 523.3h0M1527.2 578.4h0M1405.0 470.9h0M1394.6 622.0h0M1442.6 445.6h0M1414.0 456.4h0M1358.4 546.1h0M1479.1 452.5h0M1538.0 524.7h0M1351.5 523.6h0M1411.9 642.0h0M1523.5 592.3h0M1358.7 568.4h0M1512.8 469.5h0M1520.4 602.6h0M1450.9 638.1h0M1386.4 486.6h0M1358.5 545.3h0M1391.1 622.8h0M1434.5 450.3h0"/>
<path class="c43" d="M1513.9 606.3h0M1511.8 479.4h0M1496.1 616.8h0M1356.6 510.4h0M1408.7 466.5h0M1526.4 518.6h0M1535.9 523.2h0M1355.5 519.9h0"/>
<path class="c44" d="M1363.1 545.4h0M1431.8 628.3h0M1359.0 520.5h0M1434.4 628.8h0M1413.9 635.2h0M1412.5 637.6h0M1428.4 456.3h0M1358.8 535.8h0"/>
<path class="c45" d="M1428.7 458.0h0M1525.9 528.4h0M1359.3 513.1h0M1372.7 532.9h0M1454.1 618.5h0M1444.3 627.7h0M1379.8 501.7h0M1522.6 516.0h0M1497.9 458.3h0M1522.8 570.0h0M1529.1 564.8h0"/>
<path class="c46" d="M1467.8 454.5h0M1461.0 625.0h0M1399.8 490.9h0M1434.6 623.5h0M1379.3 554.7h0M1375.2 558.2h0M1388.8 577.0h0M1449.8 451.1h0M1431.0 623.5h0M1408.4 627.5h0M1443.9 628.9h0M1484.0 456.3h0"/>
<path class="c47" d="M1411.3 618.2h0M1483.9 468.1h0M1496.3 466.5h0M1526.6 562.5h0M1411.7 620.9h0M1380.6 546.5h0M1502.0 608.5h0M1362.5 521.2h0"/>
<path class="c48" d="M1427.9 614.4h0M1383.2 501.8h0M1508.2 488.5h0M1508.9 584.4h0M1514.8 573.9h0M1436.1 469.4h0M1417.7 613.8h0M1495.6 610.4h0M1382.5 503.4h0M1383.0 546.3h0M1435.7 618.9h0M1393.5 586.5h0M1511.5 496.5h0M1517.6 522.7h0"/>
<path class="c49" d="M1405.9 495.7h0M1439.6 473.2h0M1425.3 613.4h0M1418.4 611.8h0M1463.4 460.8h0M1391.3 499.1h0M1404.6 599.4h0M1393.6 592.4h0M1407.5 609.8h0M1428.0 612.2h0M1392.3 550.9h0M1465.5 615.9h0M1388.3 557.0h0M1418.3 607.5h0"/>
<path class="c50" d="M1389.6 541.7h0M1450.7 611.3h0M1418.1 600.2h0M1384.5 506.5h0M1384.8 528.5h0M1452.0 609.9h0M1414.3 605.4h0M1445.8 471.0h0M1465.7 475.3h0M1494.1 485.2h0M1378.4 524.2h0"/>
<path class="c51" d="M1398.0 558.9h0M1463.9 609.7h0M1412.9 501.5h0M1499.3 595.8h0M1430.1 598.7h0M1508.2 570.6h0M1500.3 500.8h0M1388.1 517.8h0M1514.2 554.1h0M1388.3 530.8h0M1488.4 603.0h0M1398.0 500.8h0M1397.1 525.0h0M1478.3 603.9h0M1436.5 479.5h0M1398.0 526.2h0M1501.3 500.7h0M1431.6 490.1h0"/>
<path class="c52" d="M1431.1 491.8h0M1510.6 532.0h0M1479.4 607.2h0M1463.4 603.0h0M1497.7 495.8h0M1467.9 605.5h0M1500.8 577.7h0M1473.7 473.7h0M1504.8 549.7h0M1487.0 597.6h0M1495.3 587.7h0M1498.9 495.4h0M1443.3 492.7h0M1446.9 606.6h0M1488.8 484.8h0M1502.7 554.0h0M1503.9 569.0h0"/>
<path class="c53" d="M1460.4 595.6h0M1489.3 593.7h0M1428.0 590.5h0M1499.5 568.5h0M1419.1 507.7h0M1466.4 482.3h0M1506.3 536.5h0M1420.3 575.6h0M1468.9 487.5h0M1463.6 481.2h0M1407.6 512.1h0M1499.1 579.8h0M1473.6 597.9h0"/>
<path class="c54" d="M1481.8 494.6h0M1431.6 497.6h0M1484.7 581.1h0M1493.2 572.9h0M1493.2 595.2h0M1454.9 493.8h0M1491.4 547.3h0M1492.5 550.0h0M1414.3 566.9h0"/>
<path class="c55" d="M1432.5 589.7h0M1480.6 578.8h0M1502.1 533.2h0M1468.3 493.8h0M1493.6 563.4h0M1496.3 530.3h0M1483.1 575.8h0M1454.4 597.8h0M1489.0 549.8h0M1490.1 562.4h0M1408.5 523.6h0M1490.1 504.9h0M1435.5 577.9h0M1487.1 502.4h0M1487.7 549.3h0M1439.9 594.4h0M1429.9 568.0h0M1477.2 590.4h0M1468.1 578.5h0M1461.3 585.5h0M1431.7 500.5h0M1456.2 592.6h0M1490.9 506.2h0M1487.9 559.1h0M1410.9 535.8h0M1501.5 532.8h0M1497.6 529.8h0M1486.7 565.7h0"/>
<path class="c56" d="M1461.0 581.2h0M1471.1 583.1h0M1433.1 508.4h0M1482.5 509.7h0M1488.5 545.2h0M1472.6 579.9h0M1483.4 515.9h0M1436.0 586.9h0M1490.9 519.1h0M1481.8 508.7h0M1444.6 597.3h0M1484.3 505.2h0"/>
<path class="c57" d="M1477.8 507.1h0M1423.2 515.5h0M1415.7 532.3h0M1428.4 556.1h0M1462.3 575.7h0M1487.8 512.7h0M1435.1 559.0h0M1484.8 531.2h0M1414.0 520.4h0M1475.0 503.4h0M1430.3 557.0h0M1480.5 513.8h0M1484.3 545.1h0"/>
<path class="c58" d="M1430.4 548.4h0M1455.3 502.8h0M1471.6 508.9h0M1461.2 572.9h0M1462.8 572.7h0M1418.5 534.8h0M1469.6 570.0h0M1452.0 557.7h0M1484.1 552.1h0M1483.1 547.9h0M1452.7 563.2h0M1440.7 512.3h0M1465.7 567.9h0M1464.2 504.9h0M1434.5 551.1h0"/>
<path class="c59" d="M1448.8 525.8h0M1482.9 550.4h0M1431.1 524.7h0M1424.9 551.8h0M1443.5 523.8h0M1472.0 517.3h0M1420.7 543.9h0M1467.8 560.4h0"/>
<path class="c60" d="M1441.4 540.3h0M1432.9 530.6h0M1437.4 530.2h0M1476.1 522.9h0M1448.6 555.9h0M1450.7 553.4h0M1424.9 529.9h0M1461.8 521.9h0"/>
<path class="c61" d="M1469.4 528.3h0M1459.6 557.0h0M1446.8 536.9h0M1434.3 531.1h0"/>
<path class="c62" d="M1453.9 548.8h0M1466.4 551.3h0M1456.8 554.3h0M1464.9 532.4h0M1453.5 552.8h0"/>
<path class="c63" d="M1464.0 534.2h0"/>
<path class="c63" d="M1458.0 549.5h0"/>
<path class="c62" d="M1463.8 530.8h0"/>
<path class="c61" d="M1467.7 548.7h0M1460.1 528.3h0M1457.9 529.0h0"/>
<path class="c60" d="M1444.7 551.5h0M1446.9 532.8h0M1452.4 555.6h0M1429.2 531.2h0M1450.3 544.1h0M1473.9 525.2h0M1461.7 528.1h0"/>
<path class="c59" d="M1442.9 519.6h0M1471.8 559.9h0M1478.3 546.2h0M1483.2 551.5h0M1434.6 542.3h0M1471.9 524.5h0M1471.5 524.9h0M1465.5 521.9h0M1431.2 544.6h0M1448.8 532.0h0"/>
<path class="c58" d="M1463.1 565.9h0M1466.1 502.9h0M1482.9 534.2h0M1479.8 522.9h0M1414.4 538.4h0M1464.1 508.1h0M1450.7 557.7h0M1428.4 514.8h0M1469.3 507.5h0M1414.4 522.8h0M1420.3 525.4h0M1469.2 512.1h0M1484.4 534.1h0M1425.4 524.8h0"/>
<path class="c57" d="M1442.6 560.3h0M1436.9 553.7h0M1415.8 520.4h0M1444.9 564.9h0M1439.6 504.1h0M1483.6 542.5h0M1461.5 499.4h0M1483.2 563.5h0M1445.9 509.0h0M1413.6 524.4h0M1447.6 573.7h0M1443.2 570.4h0M1456.0 573.4h0M1431.9 562.4h0M1450.5 566.6h0"/>
<path class="c56" d="M1484.0 566.2h0M1435.2 572.9h0M1412.0 520.0h0M1414.5 515.7h0M1413.1 547.2h0M1487.3 547.6h0M1491.5 517.3h0M1458.1 497.8h0M1498.4 522.3h0"/>
<path class="c55" d="M1493.1 534.6h0M1433.8 584.8h0M1487.3 527.5h0M1473.6 584.0h0M1463.7 585.7h0M1409.0 522.8h0M1428.2 565.3h0M1478.9 590.8h0M1502.6 521.4h0M1465.0 584.1h0M1472.4 591.5h0M1469.0 578.8h0M1429.9 500.6h0M1489.5 559.8h0M1463.2 587.7h0M1465.4 575.8h0"/>
<path class="c54" d="M1459.1 594.4h0M1503.8 543.0h0M1477.4 587.0h0M1423.8 568.8h0M1495.5 562.4h0M1464.0 489.3h0M1478.9 595.5h0M1415.2 567.9h0M1471.6 494.5h0M1465.0 580.1h0M1424.1 569.7h0M1406.2 550.9h0M1489.2 504.0h0M1453.7 491.9h0M1420.6 563.1h0"/>
<path class="c53" d="M1507.0 514.6h0M1449.6 490.7h0M1507.8 520.4h0M1422.0 571.3h0M1513.7 543.1h0M1491.8 547.2h0M1492.9 554.1h0M1484.6 582.2h0M1413.7 565.6h0M1492.9 546.5h0M1412.7 564.5h0M1505.8 545.9h0M1503.8 535.9h0"/>
<path class="c52" d="M1475.5 487.0h0M1456.2 483.8h0M1478.8 481.4h0M1462.4 603.5h0M1508.1 558.4h0M1444.6 605.2h0M1505.5 508.2h0M1458.8 476.0h0M1396.3 534.0h0M1412.6 571.3h0M1397.7 515.6h0M1470.4 483.7h0M1487.7 486.3h0"/>
<path class="c51" d="M1414.2 503.6h0M1411.8 501.2h0M1397.1 513.5h0M1407.2 576.7h0M1466.4 477.0h0M1510.8 505.0h0M1429.4 490.4h0M1470.1 602.5h0M1396.0 546.4h0M1401.2 562.4h0M1455.6 478.6h0M1437.1 488.3h0M1508.2 565.0h0M1512.4 529.4h0M1499.9 591.1h0M1408.6 578.5h0M1497.5 482.6h0M1518.3 543.8h0M1394.0 541.9h0M1400.8 559.1h0M1433.2 491.2h0M1496.1 600.3h0"/>
<path class="c50" d="M1500.1 487.3h0M1490.0 476.9h0M1410.6 573.8h0M1495.6 477.1h0M1430.9 487.6h0M1374.6 518.1h0M1496.0 484.2h0M1418.6 605.4h0M1383.4 513.5h0M1402.7 575.6h0M1417.6 490.5h0M1392.0 535.4h0M1455.1 611.2h0M1515.0 507.8h0M1388.0 525.4h0M1435.3 605.5h0M1376.6 517.1h0"/>
<path class="c49" d="M1413.4 490.3h0M1520.9 533.3h0M1520.4 558.0h0M1427.5 610.7h0M1398.8 494.9h0M1518.3 510.8h0M1395.5 563.9h0M1407.4 493.9h0M1388.3 501.9h0M1517.4 505.1h0"/>
<path class="c48" d="M1500.8 481.3h0M1373.4 511.9h0M1513.3 575.3h0M1435.5 619.0h0M1451.2 615.2h0M1393.4 584.4h0M1513.1 576.3h0M1471.7 466.1h0M1413.5 612.5h0M1428.6 617.7h0M1509.6 490.7h0M1389.1 563.1h0M1381.9 504.0h0"/>
<path class="c47" d="M1512.2 494.8h0M1453.9 458.7h0M1497.4 464.8h0M1373.1 529.7h0M1473.6 459.3h0M1429.7 467.5h0M1428.8 471.8h0"/>
<path class="c46" d="M1434.2 463.9h0M1492.4 616.9h0M1394.7 608.7h0M1520.3 572.2h0M1428.8 462.8h0M1458.9 621.3h0M1422.9 480.0h0M1408.0 617.9h0M1457.1 622.7h0M1370.0 536.9h0M1505.4 471.7h0M1499.0 612.9h0M1510.8 481.8h0"/>
<path class="c45" d="M1427.3 466.3h0M1532.5 530.5h0M1507.2 476.1h0M1439.6 454.8h0M1472.1 625.6h0M1430.5 627.4h0M1424.1 460.8h0M1458.9 623.7h0M1374.8 558.5h0M1397.3 617.7h0M1505.1 610.9h0M1422.5 628.3h0M1429.4 463.9h0"/>
<path class="c44" d="M1533.5 555.7h0M1518.3 488.2h0M1524.0 567.6h0M1374.4 498.8h0M1363.1 545.7h0M1532.2 532.3h0M1530.9 524.4h0M1424.4 629.9h0M1442.9 632.8h0M1393.1 489.8h0M1507.6 608.3h0M1510.0 472.4h0M1433.2 630.9h0M1526.8 525.1h0"/>
<path class="c43" d="M1402.5 628.0h0M1385.1 583.1h0M1374.1 496.0h0M1379.5 586.5h0M1527.2 509.8h0M1353.6 520.6h0M1406.9 633.6h0M1519.7 587.9h0M1472.0 633.2h0M1507.4 461.4h0M1513.2 478.8h0"/>
<path class="c42" d="M1353.6 542.0h0M1380.6 572.2h0M1533.0 572.9h0M1502.5 617.9h0M1523.2 589.0h0M1390.6 478.5h0M1387.3 488.3h0M1429.5 451.0h0M1376.2 582.1h0M1396.7 471.2h0"/>
<path class="c41" d="M1469.2 448.8h0M1521.3 472.3h0M1355.1 498.3h0M1358.0 496.1h0M1348.5 525.0h0M1384.9 605.6h0M1376.2 493.0h0M1383.3 484.0h0M1524.1 479.1h0M1412.9 455.2h0M1523.9 592.3h0M1435.0 444.4h0M1539.3 547.3h0M1502.9 621.1h0M1532.3 490.0h0M1482.0 449.4h0M1351.3 539.0h0M1537.2 572.5h0"/>
<path class="c40" d="M1361.8 577.2h0M1534.9 499.2h0M1534.8 494.7h0M1364.1 583.3h0M1541.7 565.5h0M1366.3 587.4h0M1366.4 488.1h0M1369.9 582.8h0M1515.9 609.8h0M1364.4 582.1h0M1482.7 447.5h0M1369.4 485.4h0"/>
<path class="c39" d="M1429.9 441.1h0M1537.1 575.8h0M1516.2 462.6h0M1538.9 510.2h0M1471.5 447.4h0"/>
<path class="c38" d="M1357.8 587.0h0M1535.9 484.2h0M1347.9 549.4h0M1343.7 507.0h0M1428.7 645.9h0"/>
<path class="c37" d="M1420.0 443.9h0M1364.7 481.7h0M1542.4 490.9h0M1537.0 485.7h0M1502.6 626.2h0M1551.7 528.8h0M1512.1 620.2h0M1396.6 460.3h0M1510.4 445.5h0"/>
<path class="c36" d="M1397.0 641.8h0M1486.0 643.1h0M1494.7 639.3h0M1545.5 495.6h0M1553.4 520.7h0"/>
<path class="c35" d="M1394.3 456.7h0M1478.9 643.8h0M1363.8 469.6h0M1556.5 542.3h0M1550.9 518.2h0M1347.8 477.8h0"/>
<path class="c34" d="M1359.8 476.2h0M1336.5 518.0h0M1358.5 609.2h0M1361.7 613.9h0M1561.6 532.8h0M1535.1 593.2h0M1349.8 594.5h0M1468.9 431.8h0M1346.6 584.6h0M1356.6 607.0h0M1363.7 619.5h0M1404.6 446.5h0M1338.8 508.0h0M1528.2 614.1h0M1421.7 431.3h0"/>
<path class="c33" d="M1334.8 535.3h0M1345.4 595.8h0M1394.1 642.0h0M1553.3 566.6h0M1504.6 434.3h0M1461.3 653.8h0M1454.1 652.7h0M1525.7 621.8h0M1375.4 633.7h0M1345.8 484.9h0M1464.1 649.9h0M1550.0 502.9h0M1445.2 654.8h0"/>
<path class="c32" d="M1403.5 445.4h0M1376.2 634.7h0M1473.7 430.5h0M1524.7 448.2h0M1352.6 471.2h0M1455.5 655.8h0M1534.7 614.7h0M1537.3 462.7h0"/>
<path class="c31" d="M1554.8 589.5h0M1516.0 634.2h0M1442.9 424.4h0M1382.4 456.7h0M1331.1 504.9h0M1338.9 491.0h0M1533.7 621.6h0M1507.7 434.5h0M1337.0 495.5h0"/>
<path class="c30" d="M1491.5 651.5h0M1519.8 640.8h0M1567.1 545.3h0M1443.4 420.3h0M1376.5 637.8h0M1369.3 463.4h0M1368.9 464.8h0M1412.3 662.9h0M1563.7 559.0h0M1566.0 546.3h0M1411.4 425.8h0M1437.1 662.1h0"/>
<path class="c29" d="M1411.0 665.7h0M1562.0 575.9h0M1439.1 662.3h0M1511.2 429.9h0M1517.7 648.1h0M1445.7 418.8h0M1507.4 429.5h0M1434.4 663.8h0M1564.7 522.3h0M1453.9 421.6h0M1508.7 648.6h0M1533.5 634.4h0M1465.4 657.1h0"/>
<path class="c28" d="M1331.5 590.8h0M1336.8 607.7h0M1567.5 514.0h0M1471.5 420.7h0M1531.9 636.3h0M1333.5 584.3h0M1343.1 471.1h0M1334.6 600.2h0M1381.1 449.2h0M1552.0 470.7h0M1328.6 581.1h0M1333.4 580.3h0"/>
<path class="c27" d="M1345.3 616.9h0M1413.1 418.6h0M1535.0 641.2h0M1539.6 439.4h0M1575.0 543.6h0M1489.2 419.3h0M1561.3 492.4h0M1321.5 504.2h0M1510.9 420.8h0M1420.9 669.0h0M1449.5 417.1h0M1350.2 623.2h0M1541.2 623.3h0M1335.0 607.8h0"/>
<path class="c26" d="M1558.9 484.7h0M1438.7 678.7h0M1432.6 410.8h0M1491.8 668.6h0M1543.5 631.1h0M1385.0 662.2h0M1499.0 421.5h0M1326.4 588.4h0"/>
<path class="c25" d="M1315.0 537.8h0M1318.0 537.4h0M1583.4 543.9h0M1313.7 537.0h0M1443.8 409.8h0M1537.6 644.7h0M1454.8 678.0h0M1331.9 474.7h0M1503.7 417.9h0"/>
<path class="c24" d="M1343.8 622.7h0M1364.4 652.3h0M1453.3 410.8h0M1377.1 664.5h0M1504.4 410.8h0M1562.4 462.8h0M1369.7 657.1h0M1573.4 582.7h0M1548.6 641.9h0M1318.4 584.0h0M1338.1 464.8h0M1566.7 484.5h0M1573.6 590.1h0M1503.6 414.0h0"/>
<path class="c23" d="M1563.8 455.4h0M1550.9 634.9h0M1363.0 653.3h0M1580.9 526.6h0M1397.7 675.0h0M1364.9 656.2h0M1423.9 400.0h0M1503.2 403.0h0M1396.0 416.0h0M1398.1 410.3h0"/>
<path class="c22" d="M1387.7 417.3h0M1306.9 572.7h0M1567.4 448.3h0M1485.9 682.2h0M1581.2 584.1h0M1582.2 585.4h0M1542.1 424.0h0M1379.6 425.2h0M1342.9 452.2h0M1406.5 407.0h0M1509.3 405.1h0M1307.5 574.1h0M1400.1 404.9h0"/>
<path class="c21" d="M1385.4 674.3h0M1512.9 679.3h0M1427.6 692.7h0M1435.9 398.2h0M1304.5 568.9h0M1548.1 431.7h0M1552.5 658.5h0M1578.7 484.2h0M1452.7 403.4h0M1591.2 586.9h0M1554.6 654.3h0M1589.2 559.4h0M1315.1 615.1h0M1336.7 452.7h0M1416.0 695.0h0M1523.7 404.5h0M1302.0 571.3h0M1434.0 694.8h0M1461.2 693.0h0M1432.7 396.5h0M1506.8 682.7h0M1491.3 688.2h0M1479.0 686.6h0M1589.3 521.8h0M1448.2 690.9h0"/>
<path class="c20" d="M1570.4 640.9h0M1585.3 621.2h0M1302.5 557.9h0M1316.3 624.6h0M1592.1 523.8h0"/>
<path class="c19" d="M1444.7 398.5h0M1301.8 511.7h0M1369.1 422.2h0M1381.0 687.4h0M1584.8 478.3h0M1592.9 589.0h0M1429.9 389.9h0M1557.0 660.9h0M1572.0 651.9h0M1364.8 672.1h0M1337.2 639.0h0M1562.9 661.6h0M1317.6 466.9h0"/>
<path class="c18" d="M1511.0 692.1h0M1437.6 387.5h0M1295.5 534.4h0M1601.5 545.8h0M1297.4 587.4h0M1310.6 627.4h0M1408.3 385.9h0M1356.8 425.0h0M1402.9 391.3h0M1597.2 617.9h0M1328.0 447.3h0M1491.5 389.8h0"/>
<path class="c17" d="M1480.9 391.4h0M1605.5 597.3h0M1297.2 588.6h0M1291.1 551.6h0M1599.6 570.3h0M1422.8 382.5h0M1304.8 624.5h0M1559.2 415.7h0M1357.2 420.8h0"/>
<path class="c16" d="M1305.5 474.4h0M1408.5 705.3h0M1593.3 637.4h0M1485.6 389.1h0M1478.3 383.9h0M1495.1 384.7h0M1312.2 455.0h0M1383.6 398.2h0M1485.4 699.7h0M1334.0 437.1h0M1576.8 659.7h0M1298.4 500.5h0M1287.4 553.6h0"/>
<path class="c15" d="M1565.4 677.2h0M1608.5 551.6h0M1372.8 693.9h0M1469.0 717.0h0M1356.5 692.9h0M1367.9 405.0h0M1365.0 405.5h0M1465.7 374.7h0M1611.5 581.3h0M1611.4 556.3h0M1480.8 384.5h0M1290.2 588.8h0M1512.0 700.2h0M1595.4 460.4h0M1484.5 381.2h0M1416.8 710.9h0M1473.2 710.8h0M1545.2 695.6h0M1425.4 715.0h0"/>
<path class="c14" d="M1598.7 460.4h0M1540.2 388.8h0M1526.2 705.9h0M1293.4 487.8h0M1595.5 455.8h0M1492.8 714.7h0M1604.6 487.8h0M1571.9 676.0h0M1460.0 373.5h0M1582.5 419.5h0M1428.5 719.2h0M1473.1 713.5h0"/>
<path class="c13" d="M1477.1 376.4h0M1409.4 372.2h0M1589.4 432.0h0M1305.9 440.0h0M1281.3 578.1h0M1606.1 486.9h0M1286.4 468.9h0M1364.4 387.8h0M1356.1 392.5h0M1297.9 453.7h0M1541.7 387.8h0M1447.4 369.4h0"/>
<path class="c12" d="M1608.4 478.0h0M1335.3 688.1h0M1382.7 370.4h0M1614.5 517.1h0M1473.8 364.3h0M1279.3 457.4h0M1281.6 514.8h0M1353.9 394.4h0M1274.7 536.4h0M1292.7 636.3h0M1367.2 711.5h0M1286.9 448.1h0M1444.2 735.0h0"/>
<path class="c11" d="M1398.0 364.5h0M1347.3 394.1h0M1629.2 561.2h0M1346.9 710.6h0M1460.9 742.9h0M1491.4 722.7h0M1392.8 366.9h0M1586.5 406.9h0M1494.0 359.6h0M1621.7 518.7h0M1503.3 360.6h0"/>
<path class="c10" d="M1391.3 724.6h0M1272.0 610.8h0M1353.3 718.8h0M1597.4 414.9h0M1535.7 720.8h0M1445.8 741.2h0M1614.8 646.4h0M1615.8 645.1h0M1277.8 446.2h0"/>
<path class="c9" d="M1555.9 732.7h0M1436.5 356.3h0M1373.4 728.8h0M1596.5 680.5h0M1498.0 731.9h0M1500.3 745.3h0"/>
<path class="c8" d="M1610.2 418.0h0M1376.0 345.6h0M1465.6 343.5h0M1437.2 760.6h0M1341.6 722.4h0M1372.4 349.9h0M1447.4 765.5h0M1365.0 360.6h0M1478.6 342.6h0"/>
<path class="c7" d="M1305.4 410.8h0M1355.7 354.0h0M1581.9 734.1h0M1626.0 657.5h0M1582.6 378.8h0M1515.5 740.1h0M1584.3 734.7h0M1650.8 533.9h0M1590.9 734.2h0M1588.1 726.0h0M1461.6 777.4h0M1650.7 529.8h0"/>
<path class="c6" d="M1360.5 328.5h0M1241.5 527.0h0M1319.6 344.1h0M1301.0 720.9h0M1659.6 550.0h0M1595.9 738.1h0M1522.3 335.7h0M1522.3 332.8h0M1251.3 597.2h0"/>
<path class="c5" d="M1359.6 750.5h0M1300.9 367.3h0M1639.0 457.0h0M1657.9 629.9h0M1326.0 323.1h0M1242.0 480.6h0M1232.0 578.3h0M1622.1 715.9h0M1458.7 324.5h0M1313.1 368.5h0"/>
<path class="c4" d="M1623.5 700.7h0M1474.0 319.6h0M1311.4 326.0h0M1298.3 336.5h0M1303.8 330.7h0M1399.4 319.0h0M1675.3 493.5h0M1217.7 504.1h0"/>
<path class="c3" d="M1369.6 785.6h0M1596.0 336.3h0M1697.8 622.0h0M1695.7 493.7h0M1668.1 449.5h0M1552.1 314.6h0M1686.9 477.8h0M1575.6 320.3h0M1693.5 467.7h0"/>
<path class="c2" d="M1465.8 291.9h0M1709.0 530.6h0M1493.1 815.1h0M1336.9 779.1h0M1505.0 816.8h0M1490.7 302.3h0M1443.2 818.2h0M1658.3 754.0h0M1645.6 688.5h0"/>
<path class="c1" d="M1581.4 291.9h0M1543.7 806.8h0M1628.1 321.1h0M1505.1 224.9h0M1277.3 316.9h0M1279.8 776.3h0M1311.2 292.2h0M1751.3 509.3h0M1171.7 634.3h0M1750.6 645.5h0M1680.1 397.9h0"/>
<path class="c0" d="M1318.1 877.2h0M1635.6 247.7h0M1651.5 306.0h0M1644.3 794.0h0M1424.8 231.8h0M1573.6 845.2h0M1174.3 288.4h0M1612.2 865.7h0"/>
<path class="c0" d="M1829.9 456.3h0M1721.4 781.0h0M1788.4 464.3h0M1418.6 906.8h0M1746.3 766.2h0"/>
<path class="c1" d="M1489.1 826.8h0M1193.3 542.9h0M1424.8 266.0h0M1685.3 672.8h0M1699.4 417.4h0M1424.2 833.0h0"/>
<path class="c2" d="M1200.7 472.6h0M1659.2 699.2h0M1373.3 822.2h0M1632.6 368.4h0M1415.7 801.1h0M1215.8 623.4h0M1209.1 449.3h0M1698.7 555.1h0M1396.3 814.7h0M1577.8 786.2h0M1248.8 692.2h0"/>
<path class="c3" d="M1684.2 505.2h0M1231.9 432.8h0M1619.5 356.6h0M1217.9 551.9h0M1631.7 372.3h0M1678.4 464.0h0M1260.5 671.1h0"/>
<path class="c4" d="M1531.0 317.7h0M1677.5 617.5h0M1401.7 787.1h0M1257.1 647.4h0M1300.1 338.9h0M1293.4 383.3h0M1307.1 737.1h0M1227.7 560.6h0"/>
<path class="c5" d="M1662.9 631.6h0M1296.7 394.5h0M1644.3 484.0h0M1244.3 491.8h0M1483.8 780.4h0M1472.0 789.9h0M1364.1 323.1h0M1399.3 764.6h0M1369.3 321.4h0M1239.8 592.5h0M1660.2 639.2h0M1521.7 319.7h0"/>
<path class="c6" d="M1641.3 649.7h0M1305.6 400.8h0M1543.6 340.3h0M1492.9 769.9h0M1404.2 342.8h0M1367.9 335.4h0M1351.3 343.3h0M1467.1 779.7h0M1649.7 591.5h0M1323.1 367.4h0M1355.1 329.4h0M1347.9 740.4h0"/>
<path class="c7" d="M1496.8 756.7h0M1281.6 654.6h0M1461.5 337.5h0M1441.0 770.1h0M1252.6 524.2h0M1637.6 620.4h0M1649.1 566.4h0M1654.5 531.7h0M1564.1 366.5h0M1446.0 763.9h0M1620.2 423.7h0M1373.6 742.4h0"/>
<path class="c8" d="M1442.6 759.6h0M1641.2 574.9h0M1626.8 477.7h0M1565.5 371.2h0M1647.5 537.8h0M1439.0 762.3h0M1592.7 702.6h0M1567.5 379.7h0M1506.8 344.0h0M1291.6 669.3h0"/>
<path class="c9" d="M1497.7 345.9h0M1371.7 727.4h0M1483.1 348.7h0M1496.5 731.9h0M1262.6 514.4h0M1641.1 560.9h0M1443.7 351.3h0M1596.7 679.4h0M1629.1 501.9h0M1631.6 585.1h0"/>
<path class="c10" d="M1350.3 717.0h0M1630.8 551.7h0M1457.5 736.9h0M1402.9 736.1h0M1313.6 676.8h0M1553.2 723.0h0M1502.9 349.5h0M1343.4 710.3h0"/>
<path class="c11" d="M1377.3 718.6h0M1467.1 354.8h0M1284.4 628.0h0M1378.1 715.4h0M1301.5 428.3h0M1285.0 629.6h0M1624.2 515.2h0M1485.2 361.4h0M1598.7 446.9h0M1379.1 719.3h0M1455.9 359.8h0M1622.3 615.6h0M1580.8 688.8h0M1301.2 666.4h0M1323.1 678.9h0"/>
<path class="c12" d="M1288.9 630.0h0M1281.5 455.9h0M1608.6 482.5h0M1536.4 713.6h0M1280.6 621.9h0M1590.4 424.8h0M1354.9 397.9h0M1474.8 362.4h0M1384.5 370.2h0M1614.9 608.8h0M1307.6 430.8h0M1324.5 678.2h0M1335.0 688.1h0M1567.2 711.2h0"/>
<path class="c13" d="M1580.6 669.7h0M1432.3 725.4h0M1333.3 427.0h0M1534.1 709.4h0M1286.9 501.5h0M1615.1 593.4h0M1376.2 380.6h0M1551.9 709.8h0M1289.8 490.2h0M1280.4 556.9h0M1346.2 414.3h0"/>
<path class="c14" d="M1282.0 562.1h0M1363.3 691.8h0M1286.2 506.6h0M1477.6 716.3h0M1620.6 567.1h0M1534.1 388.9h0M1613.2 533.7h0M1315.3 431.8h0M1609.4 503.3h0M1377.2 384.5h0M1463.9 723.0h0M1552.2 703.7h0M1290.3 490.3h0M1436.2 721.1h0M1610.4 605.5h0"/>
<path class="c15" d="M1595.7 456.9h0M1610.7 586.2h0M1558.4 401.6h0M1477.0 381.0h0M1552.7 400.1h0M1315.7 446.2h0M1609.4 526.1h0M1358.6 686.8h0M1310.0 449.2h0M1502.7 707.5h0M1294.9 505.2h0M1338.4 667.0h0M1596.5 637.9h0M1361.0 412.4h0M1421.6 716.8h0"/>
<path class="c16" d="M1297.8 501.4h0M1604.9 602.2h0M1290.3 519.7h0M1294.0 596.1h0M1289.7 514.9h0M1604.8 551.7h0M1352.5 686.1h0M1397.6 696.8h0M1524.1 699.0h0M1597.5 494.9h0"/>
<path class="c17" d="M1599.7 625.9h0M1293.9 572.2h0M1394.6 387.5h0"/>
<path class="c18" d="M1550.1 408.2h0M1310.6 461.7h0M1371.4 676.0h0M1310.6 626.8h0M1595.7 494.3h0M1517.6 396.0h0M1598.6 606.4h0M1560.8 660.7h0M1595.2 625.5h0M1325.1 644.3h0M1576.6 641.8h0"/>
<path class="c19" d="M1555.1 428.1h0M1429.3 390.7h0M1365.5 673.2h0M1301.0 524.0h0M1516.2 396.6h0M1449.9 394.7h0M1424.5 391.0h0M1361.8 666.2h0M1336.9 637.6h0M1516.1 392.1h0M1301.0 563.6h0M1357.7 437.9h0"/>
<path class="c20" d="M1443.7 699.1h0M1300.3 552.7h0M1580.7 487.5h0M1466.3 694.8h0M1593.5 551.9h0M1302.2 598.7h0M1545.7 673.2h0M1345.7 649.5h0"/>
<path class="c21" d="M1354.4 446.2h0M1588.5 599.4h0M1578.8 623.6h0M1589.2 520.4h0M1387.7 680.6h0M1541.9 668.1h0M1436.4 694.0h0M1302.7 572.2h0M1411.0 688.0h0M1503.6 398.7h0M1309.3 607.7h0M1396.1 402.8h0"/>
<path class="c22" d="M1327.5 466.2h0M1569.2 484.0h0M1567.7 461.8h0M1571.0 623.8h0M1356.6 447.5h0M1553.1 651.7h0M1553.6 654.5h0M1439.6 690.8h0M1388.0 419.4h0M1340.2 630.7h0M1351.3 646.9h0M1408.0 680.8h0M1308.5 584.1h0M1537.7 675.0h0M1500.4 678.6h0"/>
<path class="c23" d="M1566.9 474.4h0M1541.5 427.5h0M1411.0 682.6h0M1351.5 644.4h0M1543.9 650.7h0M1311.5 600.1h0M1401.8 674.8h0M1343.7 632.8h0M1424.8 402.8h0M1573.1 520.3h0M1573.4 603.3h0M1578.2 493.9h0M1580.5 521.3h0M1568.2 635.1h0"/>
<path class="c24" d="M1311.3 524.4h0M1444.7 683.2h0M1398.8 672.3h0M1439.9 684.7h0M1316.6 594.1h0M1447.5 683.6h0M1462.4 685.2h0M1425.1 405.9h0M1507.2 670.9h0M1345.0 625.2h0M1532.4 650.5h0M1483.3 410.5h0M1514.1 671.0h0M1416.5 405.4h0M1497.7 417.2h0M1531.6 661.6h0M1523.9 662.6h0M1492.0 676.9h0M1508.3 416.0h0M1566.0 472.6h0M1483.8 412.9h0"/>
<path class="c25" d="M1563.7 475.0h0M1572.3 508.9h0M1315.1 554.7h0M1574.5 528.0h0M1322.6 605.2h0M1396.5 421.0h0M1317.7 594.8h0M1528.7 423.1h0M1341.5 618.8h0M1571.7 510.7h0"/>
<path class="c26" d="M1424.8 410.9h0M1412.9 414.7h0M1337.5 470.3h0M1347.1 623.3h0M1510.7 418.1h0M1493.4 420.9h0M1519.2 659.2h0M1395.9 431.1h0M1386.7 662.1h0"/>
<path class="c27" d="M1494.2 666.6h0M1561.7 500.0h0M1539.3 436.1h0M1412.8 669.4h0M1321.1 517.0h0M1452.6 418.8h0M1556.9 472.0h0M1511.1 421.6h0M1322.9 578.1h0M1532.0 645.7h0M1357.9 630.6h0"/>
<path class="c28" d="M1481.3 661.4h0M1467.9 657.7h0M1432.8 673.7h0M1437.6 414.8h0M1553.4 609.4h0M1520.1 646.1h0M1566.2 581.1h0M1466.9 663.8h0M1526.0 645.7h0M1329.3 489.1h0M1360.5 637.1h0M1443.9 415.9h0M1479.6 660.9h0"/>
<path class="c29" d="M1438.3 670.2h0M1362.5 636.9h0M1483.7 422.9h0M1568.9 561.2h0M1346.5 471.7h0M1563.8 512.0h0M1487.5 426.1h0M1453.9 665.4h0M1432.5 666.1h0M1329.5 565.5h0M1444.6 662.8h0M1445.2 670.5h0M1340.6 605.5h0"/>
<path class="c30" d="M1357.8 616.6h0M1333.1 494.8h0M1387.9 448.2h0M1338.8 581.6h0M1561.5 547.5h0M1337.6 572.0h0M1368.1 462.6h0"/>
<path class="c31" d="M1378.9 460.7h0M1328.7 538.0h0M1335.3 570.2h0M1556.5 578.2h0M1558.6 547.6h0M1508.6 432.9h0M1325.4 514.0h0"/>
<path class="c32" d="M1449.6 656.1h0M1559.5 543.9h0M1470.5 651.0h0M1514.0 638.1h0M1546.3 595.3h0M1404.7 439.4h0M1412.5 431.9h0M1510.1 436.7h0M1332.5 556.8h0M1493.6 648.1h0"/>
<path class="c33" d="M1344.9 568.8h0M1535.1 607.8h0M1391.8 652.8h0M1532.4 610.9h0M1345.7 585.8h0M1415.0 650.8h0M1347.8 476.5h0"/>
<path class="c34" d="M1554.2 554.3h0M1337.6 500.2h0M1549.0 513.2h0M1544.1 488.2h0M1417.4 651.1h0M1562.7 539.2h0"/>
<path class="c35" d="M1342.3 560.3h0M1524.2 458.8h0M1400.8 651.2h0M1560.8 540.8h0M1542.6 603.6h0M1361.7 610.4h0M1342.2 547.0h0M1505.0 442.9h0M1560.8 536.0h0M1415.2 436.8h0M1395.1 457.6h0"/>
<path class="c36" d="M1545.4 580.4h0M1460.7 432.4h0M1532.1 471.3h0M1351.2 588.6h0M1437.8 649.1h0M1533.7 588.7h0M1373.2 618.6h0"/>
<path class="c37" d="M1431.1 438.5h0M1534.3 587.5h0M1361.1 594.2h0M1526.9 611.1h0"/>
<path class="c38" d="M1473.0 445.5h0M1534.6 476.8h0M1414.7 645.3h0M1361.3 591.1h0M1505.4 625.0h0M1546.6 554.5h0"/>
<path class="c39" d="M1443.4 645.0h0M1443.9 440.5h0M1474.1 639.4h0M1346.8 504.3h0M1398.2 464.3h0M1356.9 558.1h0M1435.8 440.5h0"/>
<path class="c40" d="M1364.5 557.5h0M1368.1 606.0h0M1533.5 506.3h0M1526.9 597.6h0M1543.6 552.9h0M1373.2 484.0h0M1348.5 497.0h0"/>
<path class="c41" d="M1445.7 441.4h0M1541.7 555.2h0M1467.1 440.6h0M1367.8 583.4h0M1388.5 481.8h0M1379.4 609.5h0M1484.9 629.2h0M1367.2 493.2h0M1524.0 595.8h0M1469.3 449.5h0M1460.5 641.0h0M1378.6 494.2h0M1481.1 449.1h0M1538.8 521.1h0"/>
<path class="c42" d="M1437.1 448.0h0M1363.1 574.0h0M1534.8 517.2h0M1368.5 495.3h0M1424.5 453.2h0M1499.5 617.9h0M1397.3 469.9h0M1408.0 461.5h0M1466.6 448.4h0M1501.5 619.2h0M1494.0 621.7h0"/>
<path class="c43" d="M1381.5 575.1h0M1527.7 511.4h0M1405.4 631.8h0M1536.4 557.5h0M1352.9 525.5h0M1388.9 618.1h0M1508.5 469.3h0M1409.7 638.4h0M1481.6 629.0h0M1536.7 550.1h0M1524.3 497.1h0M1388.1 618.8h0M1359.4 530.1h0M1410.2 473.4h0"/>
<path class="c44" d="M1514.3 604.4h0M1528.6 504.0h0M1528.4 526.0h0M1414.2 634.9h0M1518.7 592.5h0M1387.5 584.3h0M1521.0 576.6h0M1536.2 532.0h0M1463.2 452.1h0M1533.9 527.4h0M1526.2 567.8h0M1455.8 447.2h0M1406.3 628.7h0"/>
<path class="c45" d="M1378.5 563.5h0M1518.5 583.3h0M1392.4 605.0h0M1524.2 520.2h0M1502.6 613.3h0M1447.9 454.4h0M1395.2 615.7h0M1513.7 491.0h0M1534.9 533.6h0"/>
<path class="c46" d="M1425.6 627.9h0M1399.9 490.3h0M1374.3 534.9h0M1521.6 515.7h0M1454.7 627.9h0M1462.3 622.1h0M1478.1 622.7h0M1457.1 619.7h0M1459.1 621.1h0"/>
<path class="c47" d="M1426.8 481.9h0M1409.8 626.8h0M1462.9 620.4h0M1379.8 545.6h0M1424.5 471.9h0M1375.7 506.6h0M1426.8 479.5h0M1432.4 472.7h0M1434.7 621.6h0M1392.4 567.3h0M1526.6 554.0h0M1515.2 579.9h0M1497.0 470.2h0"/>
<path class="c48" d="M1458.3 613.6h0M1415.5 616.9h0M1402.7 491.5h0M1462.2 456.7h0M1399.7 590.9h0M1505.0 488.4h0M1365.9 526.8h0M1470.0 459.7h0M1476.7 466.9h0M1479.1 616.6h0M1405.7 488.9h0M1482.4 614.7h0M1519.7 503.6h0"/>
<path class="c49" d="M1517.7 502.5h0M1448.5 614.3h0M1518.4 513.8h0M1443.1 474.3h0M1394.4 592.7h0M1527.0 541.5h0M1454.8 463.2h0M1510.9 575.0h0M1400.4 574.6h0M1370.3 519.8h0M1499.2 479.4h0M1442.4 617.3h0M1386.7 541.4h0M1466.9 463.1h0M1416.3 599.7h0M1436.4 475.2h0M1468.3 466.8h0"/>
<path class="c50" d="M1388.1 527.4h0M1386.1 522.7h0M1492.6 474.5h0M1504.1 597.4h0M1422.9 601.1h0M1505.8 585.8h0M1421.9 596.8h0M1383.4 528.5h0M1515.2 522.5h0M1380.5 533.4h0M1427.8 489.1h0M1400.1 562.6h0M1373.3 516.1h0M1452.2 475.4h0M1434.5 477.4h0M1434.3 601.8h0M1494.6 478.5h0M1442.8 474.4h0"/>
<path class="c51" d="M1473.6 613.5h0M1400.4 524.5h0M1412.1 577.7h0M1452.0 485.5h0M1395.2 522.1h0M1495.5 490.8h0M1393.6 537.7h0M1477.5 604.4h0M1393.1 507.5h0M1503.3 573.5h0M1513.2 556.8h0M1394.0 520.3h0M1429.6 599.0h0M1424.2 596.1h0M1511.0 519.7h0M1516.8 548.0h0M1478.8 471.3h0M1412.8 574.5h0M1511.7 502.2h0"/>
<path class="c52" d="M1456.0 488.3h0M1502.3 574.5h0M1503.8 574.5h0M1410.2 566.2h0M1491.7 496.3h0M1508.6 511.2h0M1490.7 602.7h0M1426.8 585.2h0M1502.0 577.0h0M1475.8 475.3h0M1417.4 577.7h0M1413.6 573.3h0M1401.4 553.3h0M1419.2 504.9h0M1506.7 514.8h0"/>
<path class="c53" d="M1400.7 552.2h0M1496.2 582.3h0M1402.9 537.7h0M1485.7 583.1h0M1505.2 510.8h0M1494.0 587.6h0M1507.8 533.7h0M1508.8 526.8h0M1502.5 513.6h0M1487.4 593.5h0M1403.7 540.4h0"/>
<path class="c54" d="M1494.7 579.8h0M1474.9 592.2h0M1478.6 582.0h0M1431.9 583.4h0M1418.4 567.5h0M1408.1 524.8h0M1489.7 591.1h0M1406.0 535.5h0M1506.0 543.4h0M1463.9 488.9h0M1464.4 489.6h0M1409.7 515.3h0"/>
<path class="c55" d="M1491.8 507.3h0M1450.0 596.5h0M1449.0 596.1h0M1431.5 567.1h0M1455.0 593.2h0M1407.9 546.6h0"/>
<path class="c56" d="M1453.7 575.9h0M1489.0 518.6h0M1433.2 565.5h0M1475.0 501.7h0M1436.7 573.6h0M1411.0 535.7h0M1412.4 522.7h0M1412.8 536.4h0M1475.2 499.7h0M1486.1 524.4h0M1436.1 498.7h0M1424.5 512.2h0M1464.9 590.0h0M1443.6 504.3h0M1498.2 527.5h0M1424.7 516.0h0M1500.2 530.9h0M1406.9 542.9h0M1488.7 523.5h0M1431.5 505.1h0M1489.6 526.6h0"/>
<path class="c57" d="M1494.3 523.3h0M1447.9 568.8h0M1446.9 510.3h0M1486.8 515.3h0M1483.9 506.6h0M1479.3 515.0h0M1412.4 540.4h0M1415.7 549.3h0M1446.9 566.7h0M1482.4 520.1h0M1488.1 511.2h0M1423.0 517.0h0"/>
<path class="c58" d="M1469.3 570.7h0M1466.2 511.6h0M1418.8 534.5h0M1423.8 533.2h0M1469.1 561.4h0M1441.2 510.5h0M1469.6 511.7h0M1470.8 520.0h0M1427.9 550.4h0M1428.2 510.4h0M1423.6 519.6h0M1464.3 570.1h0M1427.9 552.6h0M1427.5 513.8h0M1449.2 560.8h0M1482.4 537.7h0"/>
<path class="c59" d="M1446.3 526.7h0M1444.5 511.8h0M1481.9 552.3h0M1432.6 523.6h0M1428.4 547.0h0M1458.0 564.2h0M1462.8 566.7h0M1443.0 553.5h0M1442.2 553.2h0M1429.5 545.0h0M1471.9 561.4h0M1440.6 548.0h0M1446.1 532.4h0M1480.7 527.7h0M1445.5 529.4h0M1445.3 530.8h0M1435.5 549.2h0M1444.3 553.0h0M1443.9 516.7h0"/>
<path class="c60" d="M1448.6 513.8h0M1431.7 542.2h0M1459.3 525.3h0M1438.9 540.7h0M1452.3 520.6h0M1445.3 544.8h0M1475.5 520.4h0M1425.0 538.4h0M1440.1 524.8h0M1457.9 522.3h0M1454.6 513.2h0M1471.0 526.0h0M1458.7 522.4h0"/>
<path class="c61" d="M1470.2 529.0h0M1452.9 542.6h0M1430.8 541.0h0M1475.4 531.2h0M1479.7 534.1h0M1464.5 543.7h0M1458.4 511.7h0"/>
<path class="c62" d="M1455.9 541.4h0M1468.2 540.7h0M1454.7 548.1h0M1463.0 533.6h0"/>
<path class="c63" d="M1469.6 531.5h0M1464.4 540.7h0"/>
<path class="c62" d="M1474.3 534.5h0"/>
<path class="c61" d="M1432.8 539.2h0M1463.7 544.0h0M1430.1 530.5h0M1449.5 552.4h0"/>
<path class="c60" d="M1481.1 550.9h0M1440.9 522.0h0M1422.4 551.6h0"/>
<path class="c59" d="M1419.1 543.3h0M1431.4 527.4h0M1454.6 531.1h0M1437.8 518.8h0M1470.3 522.1h0M1478.3 546.7h0M1481.4 543.4h0M1441.1 543.4h0M1451.1 511.6h0M1477.5 542.2h0"/>
<path class="c58" d="M1419.5 553.3h0M1414.5 524.8h0M1450.4 561.1h0M1437.5 556.0h0M1466.3 510.2h0M1483.8 533.7h0M1477.8 560.3h0M1426.4 556.1h0"/>
<path class="c57" d="M1484.4 530.3h0M1417.9 523.6h0M1436.9 502.0h0M1489.1 517.3h0M1432.6 514.0h0M1432.2 561.0h0M1480.0 505.1h0M1438.4 507.3h0M1482.9 558.9h0M1455.3 579.9h0M1412.6 538.6h0M1479.2 504.6h0M1456.3 569.2h0M1438.8 570.8h0M1461.6 500.0h0"/>
<path class="c56" d="M1442.0 577.0h0M1426.8 560.9h0M1439.2 579.4h0M1485.3 514.7h0M1498.0 527.4h0M1443.3 500.1h0M1486.3 516.6h0M1432.2 572.3h0M1428.8 563.1h0M1493.7 526.1h0M1434.0 505.0h0M1481.0 503.9h0M1447.0 570.5h0M1487.5 548.4h0M1502.6 532.3h0"/>
<path class="c55" d="M1407.6 549.9h0M1455.4 587.9h0M1489.8 531.7h0M1490.4 544.0h0M1467.7 578.2h0M1413.3 552.1h0M1437.0 577.6h0M1436.2 577.6h0M1490.1 559.3h0"/>
<path class="c54" d="M1410.3 517.7h0M1426.4 571.3h0M1408.5 527.9h0M1508.1 528.2h0M1484.0 586.2h0M1492.4 566.3h0M1413.4 563.2h0M1409.8 515.1h0M1464.2 491.1h0M1504.4 518.6h0"/>
<path class="c53" d="M1481.2 594.8h0M1405.5 512.3h0M1407.5 508.3h0M1422.0 570.5h0M1417.8 508.3h0M1405.3 508.0h0M1413.6 508.4h0M1485.5 587.0h0M1424.9 579.6h0M1406.9 512.9h0M1457.0 605.2h0M1406.1 516.4h0M1477.1 480.2h0M1470.7 476.8h0M1493.6 553.0h0M1426.2 496.5h0M1508.8 534.5h0M1494.1 546.0h0"/>
<path class="c52" d="M1471.9 598.4h0M1428.0 593.6h0M1399.8 529.6h0M1486.6 493.3h0M1473.1 483.0h0M1508.0 507.1h0M1505.1 507.1h0M1425.2 584.4h0M1398.7 517.1h0M1452.4 607.2h0M1514.7 552.0h0M1499.8 583.4h0M1410.8 581.6h0M1460.4 483.2h0"/>
<path class="c51" d="M1397.4 527.1h0M1504.0 593.1h0M1446.6 483.0h0M1511.0 501.0h0M1398.1 526.4h0M1393.7 541.1h0M1389.0 527.7h0M1457.8 478.3h0M1482.3 609.8h0M1473.7 602.2h0M1483.3 477.1h0M1419.6 587.7h0M1443.4 483.3h0M1408.0 565.9h0M1398.5 506.8h0M1395.0 532.2h0M1424.4 586.8h0M1392.7 538.5h0"/>
<path class="c50" d="M1498.2 603.9h0M1461.7 465.1h0M1471.8 613.2h0M1397.3 502.4h0M1395.1 504.9h0M1420.4 598.0h0M1391.7 504.5h0M1423.2 604.2h0M1384.5 528.2h0M1478.7 469.6h0"/>
<path class="c49" d="M1500.1 602.9h0M1412.5 607.7h0M1465.6 614.3h0M1394.6 565.6h0M1372.1 524.7h0M1416.7 488.4h0M1445.5 471.1h0M1439.4 474.0h0M1439.2 474.4h0M1404.0 494.2h0"/>
<path class="c48" d="M1377.4 509.3h0M1399.2 600.5h0M1416.6 611.8h0M1372.9 543.8h0M1403.4 602.7h0M1395.8 599.7h0M1501.1 480.8h0M1447.0 623.0h0M1516.9 520.3h0M1526.4 541.7h0M1423.2 616.5h0M1493.4 612.3h0M1470.0 620.8h0M1500.5 606.6h0M1520.2 512.9h0M1376.6 535.4h0"/>
<path class="c47" d="M1517.3 573.1h0M1472.7 621.9h0M1502.2 474.0h0M1374.3 531.7h0M1508.7 603.2h0M1497.2 465.3h0M1434.0 621.4h0M1471.6 460.3h0M1382.7 560.6h0M1507.8 482.9h0M1493.9 461.2h0M1518.2 570.5h0"/>
<path class="c46" d="M1437.2 626.6h0M1473.6 457.6h0M1403.3 483.0h0M1489.4 459.5h0M1486.8 456.3h0M1387.2 587.6h0M1418.7 482.3h0M1379.0 545.1h0M1454.6 455.6h0M1415.5 479.4h0M1529.6 539.4h0M1390.6 597.6h0"/>
<path class="c45" d="M1512.8 482.1h0M1442.9 630.2h0M1444.7 628.7h0M1363.4 513.1h0M1516.7 595.1h0M1513.8 485.8h0M1376.3 551.3h0M1388.8 597.3h0M1524.9 566.2h0M1420.5 473.6h0"/>
<path class="c44" d="M1525.6 567.7h0M1529.4 521.0h0M1435.1 627.4h0M1359.1 515.0h0M1500.3 460.1h0M1363.9 549.6h0M1362.3 541.9h0"/>
<path class="c43" d="M1530.4 520.5h0M1360.8 547.2h0M1370.6 566.9h0M1362.4 552.3h0M1357.9 541.3h0M1381.5 489.2h0M1439.5 451.5h0M1368.0 552.8h0M1362.3 508.0h0M1408.8 637.4h0M1521.6 580.3h0"/>
<path class="c42" d="M1387.8 479.0h0M1360.8 504.6h0M1485.5 449.5h0M1370.3 572.0h0M1413.4 467.6h0M1534.6 519.2h0M1408.6 638.9h0"/>
<path class="c41" d="M1481.0 630.6h0M1415.7 450.4h0M1442.1 642.1h0M1533.4 573.5h0M1378.9 581.1h0M1530.0 508.5h0M1391.8 474.1h0M1538.9 522.6h0M1361.5 494.9h0M1362.1 573.3h0M1523.5 489.0h0M1390.4 628.3h0M1539.8 528.9h0M1464.3 447.3h0M1435.2 449.1h0M1493.9 451.1h0M1542.4 530.1h0"/>
<path class="c40" d="M1372.6 604.2h0M1366.0 487.1h0M1431.8 445.4h0M1375.1 488.7h0M1475.2 636.6h0M1439.1 643.4h0M1516.9 468.4h0M1414.7 453.2h0M1382.5 477.1h0M1510.2 614.0h0"/>
<path class="c39" d="M1355.2 574.6h0M1371.6 484.2h0M1491.4 446.8h0M1542.0 518.3h0M1370.4 587.4h0M1348.4 504.3h0"/>
<path class="c38" d="M1378.6 617.9h0M1488.3 639.9h0M1376.6 474.8h0M1513.9 455.8h0M1344.5 510.7h0M1534.7 479.2h0M1397.5 460.3h0M1535.7 482.9h0M1538.7 503.6h0M1357.1 580.3h0M1348.2 542.7h0M1513.9 614.0h0M1357.9 486.0h0M1419.5 445.0h0"/>
<path class="c37" d="M1434.9 647.0h0M1384.0 626.4h0M1529.1 609.5h0M1459.8 439.3h0M1542.7 579.0h0M1349.7 575.4h0M1400.6 458.2h0M1364.6 608.1h0M1549.1 540.6h0M1415.2 646.1h0M1483.7 637.5h0M1360.9 605.8h0"/>
<path class="c36" d="M1489.3 440.3h0M1433.8 648.2h0M1498.5 631.6h0M1554.6 541.7h0M1501.5 635.3h0M1429.7 436.4h0M1363.3 613.7h0M1343.2 556.9h0"/>
<path class="c35" d="M1479.8 645.7h0M1533.8 602.3h0M1348.7 598.2h0M1337.4 514.5h0M1348.8 587.2h0M1525.1 466.0h0M1552.8 559.4h0M1549.7 587.5h0M1429.1 432.5h0M1455.5 650.8h0"/>
<path class="c34" d="M1505.6 443.2h0M1431.7 650.5h0M1528.9 453.8h0M1334.4 561.1h0M1366.3 472.9h0M1347.2 590.3h0M1347.4 599.5h0"/>
<path class="c33" d="M1394.2 640.8h0M1532.1 459.8h0M1542.3 483.6h0M1543.1 590.8h0M1525.4 621.8h0M1379.5 468.8h0M1527.3 622.5h0M1524.6 631.9h0M1390.8 637.7h0"/>
<path class="c32" d="M1542.6 472.2h0M1396.5 452.4h0M1351.0 603.7h0M1331.5 537.0h0M1537.5 462.9h0M1334.6 501.7h0M1337.3 499.5h0M1380.0 638.6h0"/>
<path class="c31" d="M1342.7 483.1h0M1333.5 542.2h0M1380.4 639.6h0M1521.8 627.0h0M1554.7 587.7h0M1333.3 552.3h0M1380.1 637.3h0M1560.9 557.6h0M1334.1 567.8h0M1532.7 450.9h0"/>
<path class="c30" d="M1508.1 431.0h0M1544.4 463.3h0M1561.1 574.3h0M1516.3 432.3h0M1403.1 436.7h0M1475.7 423.8h0M1465.1 424.4h0M1541.3 460.0h0M1487.1 426.5h0M1551.6 485.1h0M1337.2 591.1h0M1385.1 651.6h0M1567.6 566.8h0M1419.6 419.0h0M1387.1 651.9h0M1398.8 658.8h0M1515.8 644.0h0M1335.7 485.1h0M1340.1 576.4h0"/>
<path class="c29" d="M1532.7 632.4h0M1511.7 428.6h0M1561.5 577.6h0M1434.3 664.7h0M1400.0 439.5h0M1326.5 525.6h0M1365.5 635.6h0M1415.4 666.4h0M1515.5 429.9h0M1455.8 424.5h0M1446.8 421.0h0M1325.6 555.9h0M1332.3 578.4h0M1538.2 616.9h0M1325.8 550.4h0"/>
<path class="c28" d="M1324.6 501.9h0M1323.2 564.0h0M1342.7 470.9h0M1567.1 570.6h0M1324.2 569.7h0M1414.3 420.5h0M1427.2 416.4h0M1570.6 552.7h0M1513.4 652.7h0M1349.7 621.1h0M1335.8 606.0h0M1461.0 667.7h0M1466.1 663.5h0M1465.3 663.7h0M1419.7 668.2h0M1363.4 636.6h0M1394.4 439.8h0M1376.5 651.5h0M1560.2 604.0h0"/>
<path class="c27" d="M1324.3 578.2h0M1320.0 544.4h0M1357.5 628.4h0M1506.1 656.2h0M1538.5 631.2h0M1447.9 415.5h0M1553.5 468.5h0M1360.2 458.2h0M1569.3 513.7h0M1343.9 617.4h0M1407.3 424.8h0M1365.2 645.0h0M1488.5 665.5h0M1329.6 607.9h0"/>
<path class="c26" d="M1351.8 630.2h0M1571.5 529.0h0M1572.8 534.4h0M1332.7 612.3h0M1366.4 648.8h0M1345.2 619.5h0M1542.8 448.6h0M1562.2 486.1h0M1351.4 628.8h0M1337.0 613.5h0M1566.6 586.8h0M1499.2 666.7h0M1318.0 530.1h0"/>
<path class="c25" d="M1385.5 431.3h0M1516.1 417.2h0M1487.7 671.5h0M1346.6 627.3h0M1386.8 665.6h0M1496.0 421.7h0M1455.6 414.5h0M1376.0 657.3h0"/>
<path class="c24" d="M1548.3 443.5h0M1474.9 675.9h0M1381.1 433.7h0M1552.0 630.6h0M1577.9 534.5h0M1318.6 593.2h0M1518.2 664.4h0M1535.0 650.0h0M1419.8 404.3h0M1572.8 591.9h0M1540.9 431.7h0M1569.0 619.6h0M1575.0 592.6h0M1309.1 534.0h0M1550.4 643.7h0M1572.3 501.0h0M1581.7 567.7h0M1526.3 417.1h0"/>
<path class="c23" d="M1499.9 674.7h0M1577.2 612.2h0M1504.5 408.2h0M1556.2 639.8h0M1436.0 402.9h0M1582.1 591.6h0M1407.2 678.8h0M1579.1 598.1h0M1425.0 400.5h0M1570.0 468.9h0M1367.3 440.8h0M1563.1 459.7h0M1534.8 667.3h0M1575.0 597.2h0M1583.7 573.0h0M1568.5 624.4h0"/>
<path class="c22" d="M1392.4 675.5h0M1503.2 682.6h0M1430.9 397.5h0M1540.5 666.0h0M1586.3 571.2h0M1542.0 664.3h0M1425.6 397.3h0M1555.1 438.5h0M1543.9 428.2h0M1316.2 614.3h0M1537.1 413.2h0M1553.6 648.8h0M1468.5 690.9h0M1562.1 451.4h0M1543.5 426.6h0"/>
<path class="c21" d="M1305.2 544.7h0M1306.2 592.8h0M1441.4 696.5h0M1587.2 521.4h0M1581.7 492.4h0M1589.7 527.0h0M1590.2 598.3h0M1311.1 607.9h0M1451.9 401.9h0M1373.7 671.9h0M1454.2 690.1h0M1384.6 416.8h0"/>
<path class="c20" d="M1406.8 395.6h0M1443.3 691.0h0M1441.2 697.0h0M1371.5 672.0h0"/>
<path class="c19" d="M1594.9 611.3h0M1308.6 485.3h0M1506.5 689.2h0M1553.6 663.9h0M1418.9 388.8h0M1354.3 662.1h0M1406.9 389.0h0M1360.7 424.1h0M1524.5 686.6h0M1301.0 597.6h0M1585.5 637.2h0M1440.2 701.8h0M1540.1 683.5h0"/>
<path class="c18" d="M1575.3 433.6h0M1520.7 392.0h0M1591.1 485.8h0M1379.9 689.7h0M1576.7 435.3h0M1440.6 389.5h0M1575.0 647.6h0M1409.2 386.2h0M1451.0 386.9h0M1435.0 702.2h0"/>
<path class="c17" d="M1295.2 521.1h0M1528.7 393.2h0M1292.0 557.0h0M1418.5 381.4h0M1555.1 675.2h0M1293.8 578.5h0M1464.2 711.0h0M1408.0 704.3h0M1371.0 683.2h0"/>
<path class="c16" d="M1597.0 484.0h0M1380.5 695.5h0M1467.7 711.6h0M1374.8 397.9h0M1515.9 699.2h0M1603.7 508.4h0M1299.6 483.5h0M1596.9 482.5h0"/>
<path class="c15" d="M1327.7 436.5h0M1520.5 709.9h0M1389.7 386.0h0M1612.1 593.7h0M1590.0 452.8h0M1389.5 389.2h0M1366.0 688.6h0M1487.4 378.9h0M1366.1 406.4h0M1345.0 429.9h0M1390.0 388.5h0M1539.5 393.1h0"/>
<path class="c14" d="M1433.0 723.1h0M1318.6 438.6h0M1521.5 382.9h0M1287.5 566.6h0M1294.2 458.2h0M1611.0 619.4h0M1293.2 483.5h0M1421.5 723.6h0M1353.4 409.3h0M1406.6 373.7h0M1583.2 422.7h0M1286.0 514.8h0M1292.0 612.9h0M1282.8 558.1h0"/>
<path class="c13" d="M1619.2 538.2h0M1479.8 719.0h0M1466.1 364.9h0M1329.6 669.3h0M1472.8 371.2h0M1320.4 655.5h0M1522.1 381.6h0M1608.6 630.3h0M1614.9 528.4h0M1606.5 473.3h0M1536.8 387.8h0M1394.1 711.4h0M1554.0 709.4h0"/>
<path class="c12" d="M1549.1 387.3h0M1331.7 691.3h0M1459.2 361.9h0M1313.0 667.0h0M1280.1 449.6h0M1612.5 624.7h0M1533.2 710.2h0M1620.4 586.7h0M1484.4 364.6h0"/>
<path class="c11" d="M1470.5 354.2h0M1411.4 728.7h0M1550.8 715.7h0M1629.7 548.2h0M1290.9 635.3h0M1433.6 740.0h0M1446.5 736.6h0M1624.0 621.4h0M1327.2 701.8h0"/>
<path class="c10" d="M1387.4 730.6h0M1462.3 746.1h0M1459.8 737.0h0M1506.6 723.3h0M1553.8 381.6h0M1316.9 683.7h0M1518.4 726.2h0M1612.5 650.4h0M1327.8 707.7h0M1394.6 727.3h0"/>
<path class="c9" d="M1274.6 493.5h0M1267.7 447.0h0M1260.9 541.1h0M1362.3 729.2h0M1630.6 625.1h0M1482.2 349.6h0M1282.3 433.9h0M1461.3 760.2h0M1532.2 361.9h0M1268.2 467.3h0"/>
<path class="c8" d="M1258.4 545.6h0M1299.6 697.2h0M1280.2 427.2h0M1449.4 767.1h0M1258.7 557.7h0M1597.9 706.7h0M1591.5 386.2h0M1625.1 649.0h0M1309.9 716.3h0"/>
<path class="c7" d="M1524.5 348.2h0M1640.2 518.1h0M1318.0 393.5h0M1327.2 724.4h0M1622.0 434.2h0M1283.1 658.1h0M1609.7 401.9h0M1562.8 363.0h0M1257.3 615.4h0M1437.5 344.9h0M1257.2 471.3h0M1513.2 739.0h0"/>
<path class="c6" d="M1254.5 606.7h0M1252.1 464.6h0M1475.9 776.6h0M1393.3 335.7h0M1618.8 396.5h0M1482.6 773.3h0M1332.3 341.2h0M1645.8 507.0h0"/>
<path class="c5" d="M1241.6 485.8h0M1628.8 403.1h0M1287.1 400.3h0M1581.3 349.6h0M1290.9 373.8h0M1585.7 347.0h0M1310.1 346.3h0M1343.6 750.0h0M1589.1 367.8h0M1392.5 758.6h0M1254.3 638.2h0"/>
<path class="c4" d="M1516.2 305.8h0M1615.8 364.0h0M1275.3 705.2h0M1228.1 532.8h0M1354.8 756.9h0M1447.2 316.2h0M1362.5 769.6h0M1679.8 649.5h0M1235.2 465.2h0M1303.4 329.1h0M1673.9 532.7h0M1510.4 788.2h0M1308.4 736.3h0M1229.1 583.0h0M1675.9 532.3h0M1327.5 756.3h0"/>
<path class="c3" d="M1484.9 309.5h0M1643.2 744.5h0M1641.9 399.2h0M1568.6 315.9h0M1215.3 568.1h0M1465.5 294.0h0M1492.5 298.1h0M1647.8 736.2h0M1440.8 311.9h0"/>
<path class="c2" d="M1390.5 823.2h0M1674.2 728.0h0M1406.9 288.0h0M1658.4 437.3h0M1697.0 535.1h0M1268.8 355.5h0M1278.5 340.3h0M1487.7 287.7h0M1427.1 798.5h0M1479.1 817.8h0M1225.8 640.9h0M1213.6 442.8h0M1335.2 790.8h0M1686.8 572.4h0M1324.3 778.8h0M1314.0 295.0h0M1698.9 659.6h0M1707.9 622.0h0"/>
<path class="c1" d="M1338.3 854.9h0M1379.7 241.2h0M1708.5 437.7h0M1293.4 778.9h0M1213.2 673.1h0M1145.4 476.5h0M1249.8 735.7h0M1215.8 675.9h0M1158.0 636.5h0M1339.0 841.5h0M1243.2 364.4h0M1401.1 273.7h0M1685.1 401.8h0"/>
<path class="c0" d="M1144.7 826.8h0M1535.1 865.0h0M1059.6 427.9h0"/>
<path class="c0" d="M1123.8 664.9h0M1665.2 266.4h0M1432.0 215.2h0M1739.8 639.0h0M1551.6 203.0h0M1794.6 630.7h0M1798.2 597.2h0"/>
<path class="c1" d="M1185.4 659.2h0M1221.4 396.9h0M1207.8 379.2h0M1600.1 783.3h0M1485.7 235.0h0M1665.0 719.8h0M1176.0 472.9h0M1524.5 260.4h0M1634.8 354.5h0M1668.4 761.5h0M1220.9 402.7h0"/>
<path class="c2" d="M1714.5 529.1h0M1322.0 292.7h0M1631.7 762.6h0M1562.1 780.3h0M1358.9 817.5h0M1717.2 641.1h0M1561.7 792.0h0M1220.2 687.1h0M1712.1 558.8h0M1446.2 286.4h0M1505.9 811.1h0"/>
<path class="c3" d="M1274.9 354.4h0M1652.3 730.8h0M1572.7 312.8h0M1458.5 807.9h0M1694.9 510.6h0M1204.0 517.2h0M1685.5 466.6h0M1683.1 462.9h0M1354.4 777.3h0M1346.7 308.2h0M1340.7 767.1h0M1274.8 381.1h0"/>
<path class="c4" d="M1259.1 652.3h0M1217.7 598.9h0M1372.9 312.8h0M1236.3 607.7h0M1672.8 604.4h0M1587.0 340.2h0M1219.5 591.3h0M1671.2 591.2h0M1229.7 549.2h0M1685.4 628.6h0"/>
<path class="c5" d="M1565.8 342.6h0M1238.9 547.5h0M1652.2 639.5h0M1617.5 734.0h0M1417.8 334.2h0M1240.7 604.7h0M1570.3 340.2h0M1422.3 775.4h0M1644.1 454.5h0M1414.3 339.4h0M1244.3 464.8h0M1483.6 788.8h0M1502.7 316.0h0"/>
<path class="c6" d="M1615.4 704.3h0M1616.4 695.7h0M1316.2 359.8h0M1559.9 349.0h0M1282.0 684.0h0M1253.5 506.9h0M1459.4 332.8h0M1514.2 757.9h0M1248.1 443.6h0M1655.5 519.1h0M1638.3 645.2h0"/>
<path class="c7" d="M1644.1 506.0h0M1245.3 538.1h0M1250.3 532.2h0M1618.0 666.3h0M1594.0 732.6h0M1389.5 748.9h0M1496.4 330.4h0M1346.2 365.7h0M1601.6 720.5h0M1259.6 513.3h0"/>
<path class="c8" d="M1641.8 568.1h0M1333.2 724.3h0M1259.9 451.5h0M1505.9 342.8h0M1297.9 682.7h0M1318.4 402.6h0M1387.4 740.7h0M1586.6 722.4h0M1288.3 425.2h0"/>
<path class="c9" d="M1636.9 553.3h0M1260.4 532.5h0M1526.1 726.6h0M1621.9 647.5h0M1579.5 723.2h0M1271.3 459.0h0M1566.2 727.7h0M1632.0 509.5h0M1598.0 673.9h0"/>
<path class="c10" d="M1632.8 533.0h0M1417.6 735.9h0M1280.5 482.4h0M1583.4 398.6h0M1361.9 367.2h0M1338.5 395.9h0M1308.9 699.5h0M1625.9 518.3h0M1334.1 718.0h0M1273.0 484.5h0M1267.0 585.3h0M1375.2 360.7h0M1575.8 390.6h0M1610.6 459.6h0M1497.2 733.1h0"/>
<path class="c11" d="M1318.2 668.2h0M1477.7 734.0h0M1595.4 669.4h0M1489.5 720.6h0M1580.3 401.3h0M1288.4 440.2h0M1481.0 723.5h0M1626.6 534.7h0M1367.6 709.2h0"/>
<path class="c12" d="M1283.8 620.8h0M1457.7 362.8h0M1617.2 503.8h0M1323.4 671.2h0M1280.6 513.7h0M1301.2 436.0h0M1531.9 383.3h0"/>
<path class="c13" d="M1373.6 380.7h0M1439.3 728.5h0M1499.0 715.5h0M1330.6 428.8h0M1609.8 484.8h0M1367.1 704.5h0M1622.9 569.1h0M1283.0 572.6h0M1345.4 415.8h0M1406.0 718.5h0M1341.0 697.3h0M1394.3 711.2h0M1277.8 594.2h0M1359.9 706.8h0M1434.1 727.5h0"/>
<path class="c14" d="M1618.4 538.0h0M1600.7 639.5h0M1561.0 405.4h0M1313.1 436.8h0M1286.1 592.0h0M1315.7 650.2h0M1283.9 603.0h0M1559.7 399.6h0M1426.2 372.5h0M1477.3 714.5h0M1291.4 612.3h0M1363.1 395.6h0M1551.6 700.1h0M1449.7 372.3h0M1612.2 555.9h0M1552.0 703.7h0M1294.1 474.4h0M1366.1 396.4h0"/>
<path class="c15" d="M1334.4 435.4h0M1377.6 391.1h0M1305.5 451.6h0M1378.9 392.7h0M1602.5 496.5h0M1290.2 606.9h0M1288.0 582.5h0M1300.8 461.4h0M1562.9 683.5h0M1582.8 450.4h0M1431.8 375.5h0M1282.5 549.1h0M1290.3 508.4h0M1410.0 709.1h0"/>
<path class="c16" d="M1558.8 674.2h0M1503.6 383.2h0M1448.6 381.4h0M1607.7 548.9h0M1291.3 594.2h0M1593.6 639.6h0M1585.7 647.8h0M1477.7 387.0h0M1565.4 414.2h0"/>
<path class="c17" d="M1600.9 510.7h0M1457.3 715.3h0M1464.7 710.6h0M1290.5 532.1h0M1602.5 617.6h0M1548.3 686.4h0M1298.3 510.9h0M1349.4 672.8h0M1426.8 703.1h0M1590.2 474.1h0M1600.6 557.1h0M1567.6 423.6h0"/>
<path class="c18" d="M1599.8 601.1h0M1327.6 638.2h0M1598.7 600.1h0M1361.2 674.8h0M1577.9 646.8h0M1572.9 644.0h0M1598.8 603.6h0"/>
<path class="c19" d="M1400.4 686.8h0M1437.3 703.0h0M1598.5 515.2h0M1299.8 570.5h0M1316.5 462.7h0M1315.5 631.5h0M1346.7 655.7h0M1537.3 401.7h0M1598.6 515.2h0M1595.3 510.9h0M1523.2 692.4h0"/>
<path class="c20" d="M1372.3 670.1h0M1315.8 622.5h0M1377.7 674.5h0M1582.4 631.0h0M1450.6 694.5h0M1530.4 687.4h0M1493.0 690.1h0M1592.2 523.7h0M1429.4 392.9h0M1318.1 624.3h0M1385.2 678.9h0M1500.1 688.0h0M1346.8 445.3h0"/>
<path class="c21" d="M1588.7 521.5h0M1553.2 433.9h0M1358.3 441.0h0M1589.0 537.7h0M1560.0 437.4h0M1588.2 525.2h0"/>
<path class="c22" d="M1514.7 678.5h0M1558.8 637.4h0M1437.4 687.4h0M1516.0 677.4h0M1509.0 676.5h0M1417.8 397.5h0M1488.9 405.7h0M1373.7 668.0h0M1409.1 404.3h0M1308.7 601.4h0M1557.0 644.2h0M1306.2 562.5h0M1330.4 625.2h0M1548.1 436.3h0M1540.7 652.1h0M1532.0 671.7h0M1511.3 402.8h0M1569.2 483.5h0M1547.5 654.5h0M1492.2 402.4h0"/>
<path class="c23" d="M1566.2 622.8h0M1574.5 619.0h0M1469.4 410.7h0M1409.6 407.8h0M1540.2 651.8h0M1329.0 471.7h0M1576.2 521.9h0M1578.5 587.6h0M1528.3 663.3h0M1310.1 556.5h0M1441.6 687.5h0M1531.4 414.1h0"/>
<path class="c24" d="M1312.4 518.4h0M1466.9 685.8h0M1311.9 512.2h0M1471.7 677.3h0M1520.9 417.4h0M1374.1 439.9h0M1567.0 471.1h0M1527.7 656.7h0M1517.0 412.5h0M1485.6 672.5h0M1577.1 576.4h0M1359.5 450.5h0"/>
<path class="c25" d="M1413.6 678.1h0M1378.2 660.4h0M1551.6 620.2h0M1314.5 556.2h0M1403.5 418.5h0M1556.4 457.4h0M1514.9 418.1h0M1564.3 481.4h0M1555.3 619.5h0M1506.5 667.0h0M1424.7 678.3h0M1314.6 516.9h0M1382.8 433.6h0M1517.2 659.2h0M1579.9 559.2h0M1580.8 541.9h0"/>
<path class="c26" d="M1544.1 445.8h0M1551.4 617.9h0M1321.6 539.4h0M1317.1 579.6h0M1533.8 428.4h0M1487.4 417.5h0M1392.8 426.5h0M1320.8 501.5h0M1430.3 678.4h0"/>
<path class="c27" d="M1402.5 667.8h0M1563.7 592.4h0M1542.0 448.9h0M1392.9 437.3h0M1496.5 661.3h0M1468.2 664.2h0M1319.6 519.1h0M1319.0 506.9h0M1559.8 610.8h0M1322.9 583.0h0M1395.0 438.6h0M1565.5 583.6h0M1364.9 454.2h0M1380.4 448.1h0M1357.0 460.7h0M1444.9 674.1h0"/>
<path class="c28" d="M1321.4 510.3h0M1341.7 610.1h0M1446.7 417.4h0M1473.8 658.3h0M1398.0 438.3h0M1323.0 527.8h0M1419.5 664.9h0M1383.7 442.8h0M1441.0 415.5h0M1529.0 641.6h0M1327.3 574.4h0"/>
<path class="c29" d="M1351.9 612.6h0M1555.1 482.9h0M1393.1 658.7h0M1562.2 512.3h0M1331.4 577.6h0M1570.4 534.1h0M1378.1 453.4h0M1384.9 444.5h0"/>
<path class="c30" d="M1393.9 451.2h0M1339.6 478.5h0M1452.2 657.7h0M1535.6 615.3h0M1329.2 524.3h0M1556.6 593.7h0M1504.3 429.7h0M1564.7 567.9h0M1327.3 551.1h0M1376.2 460.4h0M1507.4 645.6h0M1563.5 558.6h0M1559.8 505.8h0M1562.6 563.8h0M1544.5 611.8h0M1553.9 601.8h0"/>
<path class="c31" d="M1524.0 443.2h0M1558.2 508.2h0M1566.6 543.6h0M1559.8 562.3h0"/>
<path class="c32" d="M1378.5 635.8h0M1546.9 598.6h0M1426.2 426.2h0M1341.6 486.3h0M1477.7 428.6h0M1434.0 425.6h0M1560.4 544.6h0"/>
<path class="c33" d="M1339.3 507.8h0M1549.3 568.2h0M1511.3 631.5h0M1551.1 589.3h0M1439.8 426.5h0M1343.5 584.1h0M1519.3 449.8h0"/>
<path class="c34" d="M1546.5 511.0h0M1385.5 635.6h0M1358.4 475.3h0M1548.9 584.1h0M1534.9 593.1h0"/>
<path class="c35" d="M1366.7 468.0h0M1340.2 509.4h0M1339.8 564.7h0M1413.1 436.7h0"/>
<path class="c36" d="M1500.0 631.2h0M1421.1 436.9h0M1352.0 480.9h0M1434.4 648.7h0M1469.8 434.9h0M1521.7 455.8h0"/>
<path class="c37" d="M1490.4 636.9h0M1482.7 638.5h0M1505.0 625.2h0M1535.5 474.6h0M1520.5 614.7h0M1402.1 456.4h0M1551.6 521.6h0M1346.2 545.2h0M1530.5 471.9h0M1514.5 454.8h0"/>
<path class="c38" d="M1368.2 612.2h0M1481.9 440.1h0M1360.0 592.1h0M1492.0 633.7h0M1550.7 528.7h0M1496.0 625.4h0M1371.1 592.9h0M1448.2 437.8h0M1400.1 641.8h0M1419.0 446.3h0"/>
<path class="c39" d="M1344.5 525.5h0M1355.6 560.1h0M1456.7 439.8h0M1453.5 644.6h0M1368.7 483.0h0M1475.4 446.9h0M1528.0 599.1h0M1357.4 573.0h0M1342.7 529.7h0M1541.5 518.4h0M1425.7 643.4h0M1541.5 564.6h0"/>
<path class="c40" d="M1372.0 606.2h0M1346.2 521.4h0M1347.5 512.0h0M1527.0 590.8h0M1454.3 642.9h0M1385.2 625.1h0M1542.5 546.0h0M1428.3 640.7h0M1363.3 585.0h0M1377.9 599.1h0M1507.9 454.9h0M1447.1 439.0h0"/>
<path class="c41" d="M1369.8 577.2h0M1374.5 576.7h0M1376.7 587.6h0M1381.7 597.0h0M1419.3 640.2h0M1514.7 466.5h0M1390.2 473.1h0M1533.3 576.2h0"/>
<path class="c42" d="M1423.1 636.2h0M1379.8 484.8h0M1498.5 450.8h0M1418.5 459.7h0M1363.7 569.3h0M1541.4 558.2h0M1421.2 633.6h0M1518.3 604.7h0M1500.5 452.1h0M1528.2 497.3h0M1395.1 471.3h0M1377.7 592.0h0M1531.1 520.3h0M1384.0 609.0h0M1523.6 592.6h0M1520.6 483.4h0M1524.5 580.7h0M1382.9 597.0h0"/>
<path class="c43" d="M1414.2 635.8h0M1355.1 536.7h0M1370.0 564.8h0M1446.2 641.6h0M1537.0 528.1h0M1526.2 505.1h0M1384.8 579.6h0M1376.5 494.7h0M1426.5 456.6h0M1513.0 607.4h0M1385.7 490.1h0M1462.7 633.1h0M1366.2 563.6h0M1459.0 632.2h0M1392.6 479.8h0M1382.5 573.9h0M1530.5 519.5h0"/>
<path class="c44" d="M1361.8 533.9h0M1478.2 628.0h0M1360.9 540.2h0M1361.6 511.7h0M1441.2 452.8h0M1412.7 470.8h0M1534.7 549.5h0M1375.1 499.9h0M1535.2 558.0h0M1453.5 632.5h0"/>
<path class="c45" d="M1451.6 634.8h0M1361.5 530.9h0M1523.3 569.0h0M1393.3 604.3h0M1445.3 630.2h0M1532.0 542.2h0M1367.2 550.6h0"/>
<path class="c46" d="M1399.1 613.4h0M1489.4 616.4h0M1476.9 622.4h0M1459.9 619.8h0M1414.0 481.6h0M1504.7 476.8h0M1419.8 476.7h0M1507.3 477.9h0M1421.5 472.6h0M1428.3 622.8h0M1505.5 470.8h0M1386.9 586.3h0"/>
<path class="c47" d="M1421.1 620.8h0M1409.4 626.4h0M1432.6 470.3h0M1491.6 462.2h0M1421.7 618.0h0M1515.8 496.3h0M1488.0 464.3h0M1427.3 621.1h0M1412.2 618.9h0M1456.5 459.3h0M1413.8 483.3h0M1513.6 584.1h0"/>
<path class="c48" d="M1403.5 604.2h0M1395.0 585.0h0M1401.6 604.5h0M1425.8 616.1h0M1455.5 460.5h0M1468.0 464.5h0M1472.6 461.3h0M1481.5 466.1h0M1413.9 613.0h0M1380.8 542.0h0M1395.3 597.4h0M1417.2 612.1h0M1425.2 485.0h0"/>
<path class="c49" d="M1520.1 543.0h0M1389.4 562.1h0M1382.8 538.4h0M1395.0 581.9h0M1429.9 613.1h0M1376.7 511.8h0M1440.3 472.2h0M1407.1 595.2h0M1431.8 603.2h0M1465.3 462.5h0M1518.8 531.7h0M1508.5 578.3h0"/>
<path class="c50" d="M1452.2 611.2h0M1392.1 536.3h0M1505.0 588.4h0M1415.0 606.0h0M1394.1 549.8h0M1502.0 487.4h0M1398.7 571.6h0M1400.0 496.2h0M1448.5 462.8h0M1389.0 506.3h0M1414.9 606.8h0M1515.9 534.5h0M1380.9 527.0h0M1380.6 524.6h0M1494.4 484.1h0M1446.3 614.4h0"/>
<path class="c51" d="M1405.2 504.5h0M1416.8 494.2h0M1512.6 515.9h0M1512.0 524.8h0M1386.4 529.2h0M1386.4 528.3h0M1387.6 515.6h0M1397.3 542.1h0M1404.2 564.5h0M1411.5 501.7h0M1505.5 559.1h0M1414.1 585.8h0M1448.7 477.3h0M1505.1 560.6h0M1508.2 570.4h0M1410.2 568.2h0M1401.3 578.4h0M1457.5 470.7h0"/>
<path class="c52" d="M1476.3 479.2h0M1400.0 519.4h0M1457.7 607.7h0M1510.9 511.5h0M1474.8 488.5h0M1461.3 482.7h0M1507.3 555.4h0M1498.6 494.7h0M1416.4 581.3h0M1419.3 505.6h0M1447.1 488.3h0M1438.8 488.6h0M1400.0 510.4h0M1513.0 540.3h0M1502.6 573.6h0M1438.9 488.0h0M1416.2 578.2h0M1460.1 602.9h0M1421.7 580.5h0"/>
<path class="c53" d="M1483.3 593.8h0M1403.5 527.0h0M1500.3 578.4h0M1423.4 502.4h0M1487.0 494.7h0M1410.8 511.8h0M1495.2 541.6h0M1486.1 584.0h0M1425.9 504.5h0M1400.7 539.7h0"/>
<path class="c54" d="M1415.9 559.6h0M1506.9 527.5h0M1433.6 590.8h0M1410.2 518.9h0M1405.2 551.0h0M1480.8 500.0h0M1488.7 577.4h0M1412.8 556.0h0M1484.5 578.0h0M1428.5 500.3h0M1469.5 593.5h0M1430.1 592.4h0M1488.3 589.0h0M1426.3 572.9h0"/>
<path class="c55" d="M1457.6 592.3h0M1492.9 515.2h0M1409.5 551.7h0M1479.8 580.3h0M1466.8 580.3h0M1487.1 504.1h0M1486.7 562.3h0M1489.3 540.5h0M1421.3 512.4h0M1488.4 566.3h0M1433.7 499.3h0M1493.0 510.0h0M1472.7 589.5h0M1484.5 567.0h0M1427.9 504.8h0"/>
<path class="c56" d="M1493.0 526.9h0M1495.4 527.3h0M1440.0 590.1h0M1433.2 498.8h0M1485.9 531.2h0M1415.1 555.6h0M1459.4 589.3h0M1436.0 508.2h0M1463.2 590.3h0M1473.6 580.1h0M1432.3 507.9h0M1462.8 577.2h0M1473.0 500.2h0"/>
<path class="c57" d="M1452.3 567.8h0M1474.2 566.2h0M1441.4 586.6h0M1440.8 581.7h0M1434.0 564.0h0M1450.0 566.6h0M1458.2 502.4h0M1482.6 516.0h0M1413.1 539.3h0"/>
<path class="c58" d="M1475.4 516.7h0M1467.0 572.7h0M1439.8 568.8h0M1422.2 522.9h0M1417.1 523.1h0M1421.2 520.0h0M1414.9 537.5h0M1478.6 521.7h0M1475.2 507.2h0M1430.2 549.7h0"/>
<path class="c59" d="M1459.0 507.1h0M1459.4 525.4h0M1421.1 551.4h0M1444.3 533.2h0M1449.9 521.9h0M1448.3 524.4h0M1447.7 505.4h0M1472.3 516.8h0M1478.5 543.8h0M1438.3 543.1h0M1469.5 526.1h0M1431.8 517.1h0M1474.4 561.9h0"/>
<path class="c60" d="M1458.3 525.5h0M1428.2 544.0h0M1457.7 561.9h0M1427.9 528.2h0M1446.2 549.5h0M1451.2 555.5h0M1447.3 539.6h0M1436.8 541.6h0"/>
<path class="c61" d="M1453.1 543.6h0M1460.6 562.2h0M1440.9 538.4h0M1454.0 543.6h0M1432.7 539.5h0M1462.2 526.3h0"/>
<path class="c62" d="M1456.4 541.7h0M1461.8 557.6h0M1457.1 554.4h0"/>
<path class="c63" d="M1472.4 532.4h0M1473.1 530.9h0"/>
<path class="c62" d="M1451.2 538.1h0M1458.1 555.3h0"/>
<path class="c61" d="M1474.8 546.7h0M1453.7 546.6h0M1469.7 528.5h0M1453.6 537.4h0M1476.3 533.6h0M1455.8 514.3h0"/>
<path class="c60" d="M1457.5 525.8h0M1480.5 552.5h0M1478.6 547.9h0M1421.4 547.5h0M1436.7 520.2h0M1475.3 556.8h0M1445.4 546.0h0M1447.3 516.0h0M1467.5 526.0h0M1456.5 519.7h0M1448.0 519.7h0M1444.9 535.8h0"/>
<path class="c59" d="M1461.2 510.1h0M1453.2 530.1h0M1440.7 518.1h0M1457.4 508.4h0M1441.8 546.0h0M1445.5 513.4h0M1455.5 535.4h0M1433.3 536.5h0M1441.1 551.0h0M1475.5 559.8h0M1463.3 506.8h0M1431.2 526.6h0M1438.8 543.8h0"/>
<path class="c58" d="M1417.6 539.3h0M1419.8 545.7h0M1462.5 515.3h0M1420.8 539.9h0M1436.0 543.7h0M1419.0 531.2h0M1464.2 502.9h0"/>
<path class="c57" d="M1448.9 572.9h0M1487.4 512.7h0M1439.5 586.5h0M1449.8 573.6h0M1445.1 508.9h0M1474.3 566.1h0M1447.9 568.6h0M1431.3 561.0h0M1437.2 565.2h0M1481.5 562.8h0"/>
<path class="c56" d="M1445.3 599.0h0M1491.2 562.9h0M1445.7 497.9h0M1485.3 525.6h0M1445.3 581.0h0M1433.3 551.7h0M1438.7 585.2h0M1468.0 575.8h0M1438.2 590.8h0M1459.4 579.3h0"/>
<path class="c55" d="M1473.0 584.8h0M1488.0 504.1h0M1485.8 560.2h0M1456.4 594.3h0M1472.7 587.1h0M1491.5 534.8h0"/>
<path class="c54" d="M1497.8 515.9h0M1406.9 524.7h0M1497.0 570.1h0M1409.3 517.4h0M1495.8 581.0h0M1505.9 520.8h0M1485.8 580.6h0M1503.9 537.8h0M1465.6 580.0h0M1489.0 585.9h0M1493.3 568.3h0M1470.6 593.2h0M1495.5 537.9h0M1406.7 519.5h0"/>
<path class="c53" d="M1473.1 486.8h0M1501.6 504.5h0M1444.4 494.8h0M1426.2 581.1h0M1454.3 602.0h0M1473.6 595.3h0M1481.3 588.3h0M1480.6 589.1h0M1481.8 582.5h0M1503.0 514.6h0M1449.3 605.9h0M1476.2 596.6h0"/>
<path class="c52" d="M1484.1 487.7h0M1408.1 560.5h0M1402.4 528.2h0M1397.4 558.1h0M1489.4 487.6h0M1421.2 580.5h0M1447.9 484.4h0M1459.8 605.0h0M1484.7 483.4h0M1476.4 599.4h0M1400.3 523.0h0M1496.5 583.4h0M1400.5 529.8h0M1469.7 599.0h0M1504.7 559.3h0M1459.5 604.1h0M1499.5 551.2h0M1470.8 604.5h0M1471.1 597.8h0"/>
<path class="c51" d="M1407.6 575.2h0M1469.0 599.1h0M1492.5 485.4h0M1514.1 560.9h0M1424.4 586.2h0M1494.9 602.1h0M1435.4 486.7h0M1379.3 514.4h0M1406.0 578.1h0M1409.5 587.6h0M1394.6 535.5h0M1397.3 527.7h0M1515.9 550.1h0M1385.6 516.4h0M1468.3 606.6h0M1388.9 525.2h0M1508.6 568.6h0M1496.5 551.9h0"/>
<path class="c50" d="M1433.7 606.2h0M1490.8 477.9h0M1380.3 511.1h0M1451.2 474.8h0M1493.2 482.6h0M1390.5 539.9h0M1432.4 610.2h0M1417.6 605.1h0M1476.9 612.4h0M1382.4 517.5h0M1415.0 598.2h0M1410.4 592.6h0M1464.1 474.5h0M1438.5 476.0h0M1491.4 477.2h0M1402.2 571.4h0M1390.0 556.0h0M1396.8 562.6h0"/>
<path class="c49" d="M1417.6 595.8h0M1425.5 487.9h0M1440.5 616.0h0M1388.9 559.3h0M1371.7 526.1h0M1444.1 461.5h0M1464.3 463.2h0M1413.1 596.5h0M1378.5 532.0h0M1518.1 515.4h0M1442.2 470.8h0M1412.5 610.5h0"/>
<path class="c48" d="M1519.7 503.1h0M1522.6 539.0h0M1417.1 484.0h0M1505.6 484.9h0M1391.4 593.4h0M1392.0 584.0h0M1392.8 585.3h0M1512.2 589.8h0M1480.6 469.5h0M1401.4 606.9h0M1383.7 544.0h0M1511.0 583.6h0M1402.6 614.1h0M1439.8 622.0h0"/>
<path class="c47" d="M1380.9 561.1h0M1382.4 561.7h0M1404.1 487.8h0M1523.8 508.7h0M1417.3 480.7h0M1387.1 496.2h0M1368.7 513.0h0M1476.8 461.5h0M1413.2 480.5h0M1398.1 605.4h0M1407.4 484.6h0"/>
<path class="c46" d="M1513.8 586.0h0M1450.0 454.5h0M1515.5 595.6h0M1495.1 463.5h0M1506.6 606.7h0M1515.8 581.2h0M1497.0 463.1h0M1515.6 593.3h0M1481.6 457.2h0M1420.8 623.5h0M1508.9 482.4h0M1387.0 586.2h0M1486.9 459.3h0M1373.9 541.1h0"/>
<path class="c45" d="M1391.3 605.9h0M1388.5 598.0h0M1531.8 529.1h0M1379.8 567.9h0"/>
<path class="c44" d="M1423.4 464.0h0M1499.4 462.3h0M1532.7 533.7h0M1385.6 594.3h0M1534.5 543.0h0M1446.1 633.7h0M1462.8 627.3h0M1367.0 552.3h0M1380.9 572.7h0M1433.7 629.6h0"/>
<path class="c43" d="M1534.3 522.7h0M1440.2 636.5h0M1447.2 640.7h0M1537.7 534.0h0M1402.3 474.5h0M1386.3 599.6h0M1360.5 545.2h0M1445.0 446.6h0M1528.6 515.2h0M1535.3 544.1h0M1500.8 617.0h0M1370.1 567.1h0M1529.6 519.2h0"/>
<path class="c42" d="M1434.2 447.1h0M1398.5 469.3h0M1521.6 485.2h0M1375.6 582.1h0M1394.6 623.7h0M1375.8 582.1h0M1412.2 460.5h0M1381.7 492.8h0M1537.7 548.6h0M1383.9 605.7h0M1532.1 491.5h0M1374.4 492.3h0M1507.8 457.9h0M1358.8 502.4h0M1472.4 628.9h0M1525.3 594.7h0M1537.7 562.4h0M1524.3 491.4h0"/>
<path class="c41" d="M1507.1 615.9h0M1432.5 641.1h0M1357.6 500.1h0M1359.2 551.5h0M1381.7 483.0h0M1359.7 497.4h0M1466.5 636.8h0M1382.3 620.0h0M1365.6 579.3h0M1402.6 469.0h0M1514.2 464.6h0"/>
<path class="c40" d="M1382.6 477.2h0M1531.5 488.7h0M1484.3 446.0h0M1347.6 533.2h0M1470.9 446.2h0M1347.7 527.5h0M1352.7 505.4h0M1532.9 489.3h0M1479.9 632.2h0M1380.3 614.4h0M1358.2 568.8h0M1361.7 560.0h0M1530.1 487.0h0"/>
<path class="c39" d="M1543.1 519.9h0M1347.6 541.7h0M1413.3 448.8h0M1523.8 472.3h0M1372.9 601.5h0M1411.4 450.5h0M1376.6 488.5h0M1355.6 550.7h0M1499.6 448.1h0M1545.5 533.4h0M1526.5 473.9h0M1510.6 453.4h0M1381.5 621.2h0"/>
<path class="c38" d="M1504.3 450.0h0M1383.6 627.3h0M1366.0 610.9h0M1346.0 507.7h0M1426.4 647.9h0M1547.4 560.4h0M1548.3 561.1h0M1520.8 460.3h0M1504.7 626.5h0M1345.9 511.0h0M1362.1 483.9h0M1492.6 441.7h0M1379.5 618.5h0M1380.8 473.9h0M1397.6 637.6h0"/>
<path class="c37" d="M1377.9 620.8h0M1342.8 506.3h0M1368.2 481.4h0M1339.6 535.8h0M1348.3 562.9h0M1342.0 540.5h0M1493.9 635.4h0M1553.2 537.2h0M1551.8 529.1h0"/>
<path class="c36" d="M1557.3 532.1h0M1350.1 577.4h0M1556.0 533.4h0M1549.3 553.5h0M1371.1 617.2h0M1502.9 439.3h0"/>
<path class="c35" d="M1403.8 449.9h0M1478.9 646.0h0M1523.1 618.8h0M1498.9 637.8h0M1355.6 473.8h0M1516.2 452.4h0M1340.4 510.0h0M1333.8 532.4h0M1525.7 464.9h0M1492.7 645.1h0M1340.1 550.2h0M1341.6 542.6h0M1341.0 555.6h0M1533.9 604.1h0"/>
<path class="c34" d="M1394.8 645.0h0M1340.5 557.5h0M1528.2 453.3h0M1359.4 613.2h0M1398.6 453.8h0M1517.6 449.9h0M1393.9 648.9h0M1523.1 454.2h0M1379.5 635.5h0M1429.9 430.5h0M1336.7 511.1h0"/>
<path class="c33" d="M1562.9 537.3h0M1333.3 533.6h0M1558.0 545.3h0M1468.7 646.6h0M1466.3 646.5h0M1343.3 595.6h0M1494.5 433.8h0M1553.9 581.0h0M1554.0 570.3h0M1437.0 654.1h0M1405.8 653.0h0M1334.9 518.9h0"/>
<path class="c32" d="M1441.0 426.1h0M1509.2 440.7h0M1336.3 500.2h0M1412.7 430.2h0M1516.2 625.1h0M1335.5 503.1h0M1561.1 543.5h0M1519.0 626.5h0M1463.7 652.0h0M1515.2 625.4h0"/>
<path class="c31" d="M1504.1 643.3h0M1525.7 633.8h0M1333.1 539.3h0M1396.1 452.3h0M1427.4 657.9h0M1383.7 646.3h0M1333.3 540.1h0M1481.5 429.4h0M1560.3 570.8h0M1518.6 636.3h0M1384.3 641.6h0"/>
<path class="c30" d="M1472.2 426.9h0M1469.2 652.6h0M1538.7 457.4h0M1530.7 442.8h0M1338.8 487.2h0M1464.7 426.4h0M1438.7 422.9h0M1563.0 556.1h0M1471.3 426.8h0M1455.1 425.1h0"/>
<path class="c29" d="M1536.3 450.2h0M1395.3 660.5h0M1502.4 649.0h0M1425.0 664.4h0M1513.2 646.4h0M1568.8 545.0h0M1337.4 485.4h0M1364.5 462.7h0M1335.9 478.2h0M1331.8 590.2h0M1486.9 658.0h0M1387.5 444.6h0M1323.2 513.7h0"/>
<path class="c28" d="M1358.9 629.3h0M1485.2 661.4h0M1412.9 420.3h0M1474.4 659.6h0M1438.7 671.7h0M1366.9 643.0h0M1518.3 650.2h0M1554.2 469.4h0M1362.3 640.5h0M1332.5 586.6h0M1552.8 472.0h0M1321.8 530.5h0M1447.9 669.0h0M1448.1 665.4h0M1337.2 474.2h0"/>
<path class="c27" d="M1357.8 461.9h0M1343.2 612.4h0M1319.3 518.9h0M1393.0 438.5h0M1554.5 464.0h0M1415.8 417.0h0M1394.1 436.4h0M1472.6 665.2h0M1399.0 436.6h0M1413.2 418.4h0M1419.7 672.0h0M1500.4 658.9h0M1322.5 581.9h0M1361.2 643.1h0"/>
<path class="c26" d="M1422.2 676.8h0M1564.8 499.8h0M1371.2 651.2h0M1497.9 420.7h0M1569.1 581.6h0M1326.9 587.9h0M1323.6 488.9h0M1577.5 545.4h0M1475.9 662.8h0M1571.5 511.4h0M1542.0 441.7h0M1442.6 679.5h0M1421.0 410.0h0M1358.7 455.5h0"/>
<path class="c25" d="M1500.3 667.0h0M1421.8 408.1h0M1536.8 428.6h0M1498.3 419.7h0"/>
<path class="c24" d="M1355.7 454.1h0M1583.5 545.6h0M1505.7 668.4h0M1400.2 672.2h0M1515.0 414.2h0M1334.7 622.4h0M1319.1 590.3h0M1546.3 646.3h0M1549.0 625.3h0M1554.0 629.6h0M1521.6 666.7h0M1312.1 551.0h0M1332.3 618.9h0M1319.8 599.2h0"/>
<path class="c23" d="M1581.8 593.9h0M1456.2 405.6h0M1332.9 625.3h0M1341.3 458.4h0M1569.6 477.3h0M1582.4 532.7h0M1577.8 606.8h0M1309.8 536.5h0M1386.4 671.5h0M1354.5 451.1h0M1311.3 585.7h0M1519.9 671.4h0M1423.2 404.1h0M1563.3 623.1h0"/>
<path class="c22" d="M1554.4 649.1h0M1580.9 496.6h0M1588.5 574.3h0M1539.6 666.2h0M1587.2 571.9h0M1312.7 491.7h0M1544.2 420.3h0M1510.1 403.8h0M1443.8 405.8h0"/>
<path class="c21" d="M1385.8 409.1h0M1548.1 660.9h0M1487.6 686.8h0M1443.1 695.9h0M1311.8 610.3h0M1368.7 667.2h0M1359.6 439.0h0M1549.8 661.4h0M1519.6 401.8h0M1568.2 444.8h0"/>
<path class="c20" d="M1338.6 633.6h0M1482.2 690.5h0M1385.0 414.0h0M1449.5 401.0h0M1487.6 398.2h0M1376.8 421.9h0M1531.9 689.8h0M1520.5 687.3h0M1321.1 468.0h0M1537.5 404.6h0M1315.4 621.4h0M1590.4 560.7h0M1591.7 571.6h0M1397.9 397.1h0"/>
<path class="c19" d="M1597.3 585.1h0M1534.0 689.5h0M1587.2 484.5h0M1592.1 495.5h0M1337.0 447.3h0M1552.4 418.7h0M1440.7 394.9h0M1324.4 635.7h0M1485.9 394.1h0"/>
<path class="c18" d="M1334.7 446.1h0M1556.8 422.3h0M1558.1 668.0h0M1313.4 464.0h0M1589.9 465.3h0"/>
<path class="c17" d="M1321.0 455.0h0M1458.8 384.4h0M1503.8 697.3h0M1433.7 383.1h0M1289.4 550.2h0M1295.6 517.8h0M1565.6 419.3h0M1423.5 702.4h0"/>
<path class="c16" d="M1288.9 526.5h0M1289.7 545.2h0M1467.5 717.4h0M1600.2 498.6h0M1572.9 667.6h0M1300.9 623.7h0M1378.6 399.7h0"/>
<path class="c15" d="M1611.6 583.8h0M1577.3 659.5h0M1295.5 495.8h0M1299.1 623.4h0M1607.7 552.7h0M1525.0 705.1h0M1596.0 638.3h0"/>
<path class="c14" d="M1399.7 379.6h0M1552.2 694.6h0M1560.7 691.3h0M1461.3 723.0h0M1341.0 426.3h0"/>
<path class="c13" d="M1325.3 657.7h0M1588.1 660.4h0M1290.6 458.9h0M1564.6 694.8h0M1329.3 661.8h0M1280.8 529.3h0M1280.6 522.9h0M1473.8 368.5h0M1488.2 370.9h0M1359.1 395.1h0M1418.8 367.4h0M1392.7 712.0h0M1383.7 383.2h0M1590.1 429.7h0M1291.3 626.5h0M1461.5 725.8h0M1331.8 676.8h0M1606.9 474.7h0"/>
<path class="c12" d="M1400.4 371.3h0M1297.8 639.4h0M1341.0 699.3h0M1272.9 533.0h0M1360.5 714.8h0M1372.6 708.9h0M1595.5 432.5h0M1389.9 719.1h0M1567.8 695.7h0M1312.4 666.5h0M1587.8 416.3h0M1617.3 596.4h0"/>
<path class="c11" d="M1469.6 747.4h0M1289.0 440.4h0M1597.5 443.3h0M1308.3 670.5h0M1471.2 357.6h0M1476.4 730.3h0M1484.5 725.5h0M1573.1 713.8h0M1470.4 742.4h0M1335.0 410.4h0M1276.1 464.5h0M1322.4 676.6h0M1594.3 423.7h0M1598.3 668.1h0M1612.7 480.4h0"/>
<path class="c10" d="M1267.6 551.8h0M1603.0 453.2h0M1271.0 468.3h0M1296.2 658.2h0M1589.0 680.5h0M1342.6 393.5h0M1594.2 412.3h0M1618.6 483.3h0M1408.1 737.9h0M1504.9 353.2h0M1271.5 601.4h0M1577.1 720.4h0"/>
<path class="c9" d="M1499.5 742.5h0M1603.9 425.1h0M1266.6 617.9h0M1265.8 552.3h0M1479.8 761.5h0M1459.3 755.1h0M1410.7 355.8h0M1394.4 734.9h0M1510.7 734.3h0M1609.5 448.9h0M1271.6 440.7h0"/>
<path class="c8" d="M1568.8 730.7h0M1478.7 342.7h0M1266.3 457.8h0M1603.5 676.6h0M1519.3 352.1h0M1628.3 645.4h0M1303.4 700.7h0M1296.5 682.6h0M1644.5 560.0h0"/>
<path class="c7" d="M1256.3 434.4h0M1607.8 708.2h0M1246.6 528.1h0M1257.1 511.2h0M1426.6 759.9h0M1593.5 389.0h0M1424.8 349.4h0M1350.1 349.8h0M1517.8 345.8h0M1352.8 360.3h0M1632.6 481.0h0M1523.6 738.2h0M1417.0 754.8h0M1630.1 460.6h0"/>
<path class="c6" d="M1405.4 760.2h0M1576.7 737.8h0M1619.2 678.5h0M1378.3 748.9h0M1645.7 601.3h0M1535.4 344.8h0M1252.3 603.2h0M1656.8 569.3h0M1557.6 359.6h0M1581.9 364.1h0M1659.9 558.4h0M1318.0 374.4h0M1290.2 695.8h0M1535.2 748.8h0"/>
<path class="c5" d="M1321.7 745.1h0M1437.8 786.4h0M1513.1 771.8h0M1241.1 589.8h0M1669.8 572.2h0M1655.7 634.0h0M1306.6 732.5h0M1513.1 321.1h0M1588.5 354.0h0M1659.4 625.9h0M1508.9 766.1h0M1246.8 466.2h0M1657.3 476.8h0M1623.2 392.7h0M1224.3 535.2h0M1263.1 418.4h0M1623.6 726.5h0"/>
<path class="c4" d="M1222.1 490.0h0M1282.6 349.7h0M1371.1 764.2h0M1227.2 476.1h0M1683.9 619.0h0"/>
<path class="c3" d="M1683.5 549.1h0M1219.7 498.3h0M1420.6 317.5h0M1592.0 325.5h0M1674.0 653.1h0M1654.1 670.9h0M1239.4 428.4h0M1449.5 309.2h0M1630.8 751.3h0M1216.6 495.9h0M1213.6 512.9h0"/>
<path class="c2" d="M1436.9 287.1h0M1428.8 806.6h0M1541.2 298.0h0M1654.3 685.9h0M1249.4 707.7h0M1710.0 482.2h0M1661.7 411.1h0M1716.1 484.1h0"/>
<path class="c1" d="M1215.7 750.7h0M1214.8 694.4h0M1246.4 768.0h0M1280.2 801.9h0M1318.6 286.4h0M1723.6 461.0h0M1515.6 255.2h0M1249.8 354.8h0M1504.2 270.9h0M1238.4 748.2h0M1585.2 299.7h0M1581.3 791.2h0"/>
<path class="c0" d="M1559.9 251.3h0M1117.7 597.2h0"/>
<path class="c0" d="M1200.6 350.0h0M1608.6 285.1h0M1499.0 889.1h0M1124.2 567.3h0M1688.2 818.8h0"/>
<path class="c1" d="M1308.4 792.5h0M1109.7 478.0h0M1543.7 263.9h0M1373.4 271.9h0M1211.4 632.7h0M1587.5 793.7h0M1159.1 582.8h0M1357.7 261.7h0M1673.1 779.6h0M1346.2 250.2h0M1367.8 834.3h0M1469.5 236.1h0M1487.8 828.3h0M1211.2 704.9h0"/>
<path class="c2" d="M1192.8 537.3h0M1412.1 795.8h0M1200.6 463.9h0M1706.7 495.6h0M1652.5 753.6h0M1330.9 284.6h0M1203.0 485.7h0M1296.5 759.1h0M1688.5 588.9h0M1632.3 757.1h0"/>
<path class="c3" d="M1397.4 785.6h0M1217.6 567.8h0M1642.8 684.1h0M1363.8 782.7h0M1534.4 770.7h0M1303.8 737.6h0M1220.2 614.3h0M1631.4 384.1h0M1694.3 636.6h0M1213.6 517.1h0M1650.4 450.0h0"/>
<path class="c4" d="M1658.2 501.1h0M1626.1 711.6h0M1325.7 313.6h0M1342.3 322.0h0M1664.1 612.7h0M1288.4 719.8h0M1222.0 586.3h0M1259.0 678.3h0M1239.7 434.9h0M1423.9 786.6h0M1688.6 632.1h0M1325.3 314.6h0M1526.8 314.4h0M1222.5 476.7h0M1225.6 527.9h0"/>
<path class="c5" d="M1283.7 694.7h0M1293.5 360.9h0M1384.4 759.4h0M1437.0 783.2h0M1486.9 792.6h0M1503.2 771.5h0M1235.4 507.5h0M1323.4 740.7h0M1306.1 367.5h0M1626.2 732.1h0"/>
<path class="c6" d="M1251.3 603.9h0M1662.4 565.2h0M1275.2 653.2h0M1245.1 550.0h0M1243.4 515.7h0M1569.6 359.7h0M1630.1 667.4h0M1420.6 338.2h0M1302.9 716.6h0M1644.0 493.5h0M1253.2 603.7h0M1552.6 344.2h0M1526.4 341.6h0"/>
<path class="c7" d="M1519.2 345.4h0M1423.8 347.1h0M1600.1 721.6h0M1539.6 343.8h0M1332.0 368.6h0M1619.9 434.6h0M1290.9 419.4h0M1482.5 766.6h0M1610.9 672.8h0M1454.3 340.3h0M1592.5 726.4h0"/>
<path class="c8" d="M1556.3 373.1h0M1476.5 762.2h0M1531.2 736.0h0M1381.0 344.9h0M1443.1 752.7h0M1321.0 390.5h0M1257.9 545.3h0M1257.9 573.0h0M1523.0 735.4h0M1550.4 735.4h0M1563.5 729.2h0M1353.8 730.6h0M1637.7 582.2h0M1371.8 349.5h0"/>
<path class="c9" d="M1642.9 545.5h0M1544.0 725.9h0M1478.7 746.2h0M1374.1 352.4h0M1340.6 717.7h0M1624.5 475.3h0M1611.8 660.8h0M1452.5 748.3h0M1270.1 621.7h0M1417.6 356.5h0M1629.9 633.7h0M1541.9 369.3h0"/>
<path class="c10" d="M1274.4 467.8h0M1557.0 385.7h0M1267.5 511.8h0M1533.4 366.1h0M1633.9 540.5h0M1270.1 444.8h0M1422.2 746.6h0M1551.6 720.3h0M1284.0 638.0h0M1319.3 674.7h0M1535.8 720.0h0M1601.0 418.2h0M1594.7 403.6h0"/>
<path class="c11" d="M1487.2 352.9h0M1578.1 688.5h0M1367.1 367.6h0M1271.6 551.8h0M1277.0 613.8h0M1497.5 722.2h0M1337.6 707.9h0M1294.8 646.0h0M1325.2 681.8h0M1290.8 642.2h0M1581.6 692.1h0M1519.9 364.7h0M1416.4 360.0h0M1289.8 443.4h0"/>
<path class="c12" d="M1347.5 401.6h0M1285.6 494.8h0M1388.5 714.8h0M1550.8 388.3h0M1356.5 385.4h0M1283.5 621.0h0M1621.4 540.2h0M1375.4 371.4h0M1463.7 728.8h0"/>
<path class="c13" d="M1381.0 376.4h0M1615.9 596.6h0M1611.1 495.7h0M1573.2 410.9h0M1276.5 533.1h0M1512.9 714.5h0M1613.8 500.3h0M1283.4 517.5h0"/>
<path class="c14" d="M1399.1 704.7h0M1294.4 619.7h0M1485.1 708.6h0M1558.4 688.7h0M1322.2 651.0h0M1358.2 701.1h0M1611.0 528.8h0M1419.3 720.8h0M1494.7 373.4h0M1614.8 562.2h0M1322.0 652.5h0M1573.3 670.6h0M1355.8 699.2h0"/>
<path class="c15" d="M1529.8 390.0h0M1356.2 415.9h0M1432.2 712.4h0M1431.6 719.9h0M1424.4 376.6h0M1300.2 487.0h0M1320.2 446.6h0M1356.1 416.2h0"/>
<path class="c16" d="M1314.2 637.8h0M1380.8 694.1h0M1439.6 382.8h0M1596.1 482.5h0M1521.5 699.9h0M1449.6 718.7h0M1585.2 651.3h0M1288.4 538.3h0M1497.1 701.5h0M1302.8 623.8h0"/>
<path class="c17" d="M1296.1 603.6h0M1368.7 682.4h0M1328.9 648.0h0M1306.9 467.8h0M1385.2 695.3h0M1564.9 419.5h0M1457.3 385.4h0M1365.6 417.6h0M1600.6 572.1h0M1380.4 402.0h0"/>
<path class="c18" d="M1444.8 703.3h0M1593.7 629.7h0M1368.5 678.2h0M1602.3 609.9h0M1589.4 461.5h0M1600.3 526.8h0M1599.4 526.1h0M1341.4 647.5h0M1557.4 422.2h0M1525.2 394.2h0M1549.7 680.6h0M1298.9 558.8h0M1445.1 705.1h0M1295.5 584.4h0M1556.9 422.2h0M1373.3 417.2h0M1446.8 705.0h0"/>
<path class="c19" d="M1329.8 451.3h0M1322.9 633.9h0M1445.9 700.7h0M1517.7 694.2h0M1515.3 690.2h0M1402.7 391.6h0M1491.2 394.9h0M1379.9 679.9h0M1550.0 670.9h0M1527.1 399.8h0"/>
<path class="c20" d="M1583.2 625.3h0M1318.6 472.8h0M1583.9 485.8h0M1406.5 691.5h0M1594.5 578.0h0M1496.8 690.0h0"/>
<path class="c21" d="M1565.9 640.5h0M1574.5 628.5h0M1304.7 525.4h0M1507.8 684.7h0M1310.6 607.4h0M1545.3 423.7h0M1514.8 680.4h0M1304.0 580.6h0M1572.3 457.2h0M1464.6 691.9h0M1575.8 465.2h0M1538.0 681.2h0M1408.9 686.9h0M1504.5 683.4h0M1587.0 610.2h0"/>
<path class="c22" d="M1584.1 579.1h0M1589.8 541.6h0M1560.3 634.4h0M1323.6 479.4h0M1569.6 484.8h0M1334.2 456.0h0M1308.1 596.8h0M1517.6 408.1h0M1305.8 573.1h0M1564.4 446.0h0M1313.9 489.4h0M1559.0 633.9h0M1396.4 417.2h0M1465.4 690.2h0M1506.0 403.3h0M1520.6 680.8h0M1579.9 577.0h0M1382.1 671.4h0"/>
<path class="c23" d="M1403.8 681.6h0M1308.4 578.9h0M1532.7 676.2h0M1335.1 627.5h0M1586.2 541.1h0M1570.2 619.9h0M1332.8 462.4h0M1572.5 606.6h0M1309.9 515.1h0M1424.2 401.7h0M1324.7 479.8h0M1580.2 609.8h0"/>
<path class="c24" d="M1569.6 613.6h0M1506.4 670.6h0M1361.2 446.6h0M1567.3 616.8h0M1581.7 558.4h0M1567.8 476.3h0M1500.2 672.7h0M1409.3 674.9h0M1537.2 652.2h0M1509.2 416.2h0M1510.3 667.4h0M1508.0 666.6h0M1320.4 603.2h0M1541.1 649.0h0M1438.8 406.5h0M1575.6 504.7h0M1458.4 410.8h0M1513.5 413.7h0"/>
<path class="c25" d="M1518.3 660.6h0M1562.1 610.4h0M1353.8 635.4h0M1574.4 505.1h0M1562.0 483.7h0M1557.4 461.0h0M1312.2 530.5h0M1577.5 537.0h0M1493.6 418.1h0M1316.4 543.5h0M1371.9 652.6h0M1469.4 679.2h0M1416.5 410.3h0"/>
<path class="c26" d="M1437.9 677.2h0M1391.4 428.1h0M1542.9 624.8h0M1399.1 668.1h0M1318.2 507.8h0M1507.4 658.8h0M1568.0 520.2h0M1563.3 499.1h0M1429.4 678.5h0M1358.5 457.1h0"/>
<path class="c27" d="M1495.8 664.0h0M1545.9 448.5h0M1425.1 668.5h0M1407.8 668.5h0M1528.8 644.6h0M1377.2 448.1h0M1517.7 424.0h0M1577.1 564.0h0M1576.0 560.5h0M1408.7 423.3h0M1512.3 655.7h0M1409.3 418.3h0M1318.4 509.4h0M1546.8 453.0h0M1398.0 427.4h0M1470.9 664.4h0M1479.6 417.5h0"/>
<path class="c28" d="M1543.1 453.0h0M1402.3 664.0h0M1541.3 618.2h0M1491.7 424.6h0M1552.0 471.4h0M1357.8 630.2h0M1343.6 471.7h0M1323.4 503.6h0M1527.8 436.1h0"/>
<path class="c29" d="M1433.6 420.5h0M1389.6 441.3h0M1531.8 440.5h0M1375.2 639.6h0M1488.3 426.3h0M1336.2 578.9h0M1431.9 417.7h0M1373.1 452.7h0M1377.3 647.8h0M1414.3 665.5h0M1335.0 585.0h0M1464.6 660.9h0"/>
<path class="c30" d="M1518.6 436.8h0M1335.8 575.6h0M1548.8 609.6h0"/>
<path class="c31" d="M1480.2 430.3h0M1405.2 439.0h0M1560.1 550.4h0M1533.1 446.1h0M1550.1 491.2h0M1544.6 477.8h0M1329.7 545.8h0M1562.4 524.8h0M1433.8 423.9h0M1392.1 648.1h0"/>
<path class="c32" d="M1341.3 594.3h0M1337.4 544.2h0M1343.8 483.9h0M1342.4 487.9h0M1516.9 622.7h0M1394.4 453.8h0M1404.1 441.7h0M1537.6 463.4h0M1497.8 433.7h0M1456.0 654.9h0M1394.4 454.7h0"/>
<path class="c33" d="M1510.9 630.3h0M1412.4 651.7h0M1542.1 598.5h0M1542.3 479.5h0M1478.7 432.6h0"/>
<path class="c34" d="M1428.0 653.5h0M1535.7 466.5h0M1336.6 521.8h0M1553.3 509.7h0M1552.4 554.4h0M1536.2 589.1h0M1436.8 651.3h0M1536.4 470.6h0M1359.0 609.3h0M1531.1 463.4h0M1359.8 610.4h0M1554.4 567.3h0M1553.2 575.5h0"/>
<path class="c35" d="M1410.4 649.6h0M1471.9 643.3h0M1435.5 432.2h0M1393.8 650.4h0M1526.4 464.4h0M1414.7 649.4h0M1400.0 650.8h0M1344.2 489.4h0M1429.8 649.6h0M1363.3 615.6h0M1524.4 461.8h0"/>
<path class="c36" d="M1398.7 643.1h0M1384.1 632.9h0M1349.0 569.6h0M1444.1 436.7h0M1430.1 437.8h0M1541.1 580.2h0"/>
<path class="c37" d="M1393.6 460.0h0M1549.7 551.7h0M1421.8 439.4h0M1368.8 592.1h0M1432.9 646.8h0M1366.8 481.8h0M1513.3 617.8h0M1343.1 538.0h0M1545.3 565.2h0M1362.7 594.9h0"/>
<path class="c38" d="M1353.8 549.5h0M1402.4 457.9h0M1456.4 438.0h0M1378.5 626.3h0M1348.6 564.5h0M1495.5 628.3h0M1477.1 443.5h0M1348.3 552.2h0M1442.3 439.7h0M1482.7 637.9h0"/>
<path class="c39" d="M1536.1 505.0h0M1360.1 486.8h0M1346.2 532.1h0M1396.8 463.5h0M1366.0 484.6h0M1480.9 635.5h0M1526.1 599.4h0"/>
<path class="c40" d="M1375.9 594.5h0M1384.6 623.7h0M1345.2 524.2h0M1355.4 555.6h0"/>
<path class="c41" d="M1360.5 498.3h0M1356.7 498.6h0M1462.2 444.9h0M1469.4 448.7h0M1540.2 565.7h0M1521.7 477.0h0M1358.0 567.9h0M1527.4 584.6h0M1376.0 591.7h0M1387.4 622.7h0M1365.6 579.4h0M1434.9 449.0h0"/>
<path class="c42" d="M1381.6 481.9h0M1362.9 498.6h0M1507.3 456.8h0M1465.1 635.7h0M1431.6 449.4h0M1519.9 480.1h0M1477.0 451.3h0M1512.5 457.7h0M1375.1 582.8h0M1380.6 611.4h0M1440.4 448.0h0M1538.8 550.3h0M1382.2 487.0h0"/>
<path class="c43" d="M1525.1 575.1h0M1522.8 574.7h0M1360.3 507.9h0M1418.8 467.2h0M1529.7 570.9h0M1523.1 583.6h0M1521.9 587.6h0M1442.0 638.0h0M1390.9 613.5h0M1529.7 523.4h0M1491.2 621.9h0M1530.5 569.7h0"/>
<path class="c44" d="M1532.3 538.6h0M1377.4 564.4h0M1393.4 488.9h0M1356.8 526.0h0M1530.0 524.5h0M1355.1 515.6h0M1469.9 631.5h0M1364.7 548.4h0M1426.2 633.7h0"/>
<path class="c45" d="M1524.7 520.3h0M1528.7 563.3h0M1389.5 493.7h0M1375.6 550.3h0M1461.9 625.9h0M1476.1 456.0h0M1367.8 539.2h0M1359.1 526.1h0M1513.9 485.4h0M1373.8 552.6h0M1399.5 618.1h0M1382.8 495.5h0M1451.3 634.7h0M1381.0 499.3h0M1448.6 630.1h0M1424.9 462.2h0"/>
<path class="c46" d="M1472.6 623.5h0M1428.0 467.0h0M1428.2 464.6h0M1373.5 538.1h0M1389.1 573.8h0M1404.7 485.6h0M1390.9 571.3h0M1525.9 530.2h0M1372.5 505.9h0M1388.2 570.1h0M1452.5 620.2h0M1428.9 622.6h0M1448.0 456.1h0"/>
<path class="c47" d="M1480.6 461.2h0M1421.7 616.1h0M1525.9 554.4h0M1498.9 612.0h0M1371.9 545.8h0M1376.0 529.2h0M1420.1 483.3h0M1425.8 480.8h0"/>
<path class="c48" d="M1493.8 470.5h0M1487.4 466.5h0M1470.7 622.6h0M1480.0 617.2h0M1488.4 465.3h0M1428.3 485.1h0M1511.9 591.3h0M1383.4 544.8h0M1472.2 618.8h0M1407.7 489.5h0M1403.1 610.7h0"/>
<path class="c49" d="M1414.7 488.6h0M1432.5 476.8h0M1514.7 567.2h0M1472.3 466.8h0M1413.7 487.3h0M1521.1 546.9h0M1429.1 615.2h0M1410.5 599.8h0M1388.1 549.9h0M1398.6 573.2h0M1443.1 472.2h0M1422.9 606.6h0M1522.1 544.1h0M1388.4 502.3h0"/>
<path class="c50" d="M1447.8 463.1h0M1500.3 484.6h0M1384.5 525.4h0M1402.6 502.4h0M1500.5 485.7h0M1400.9 570.9h0M1377.2 518.9h0M1471.8 467.8h0M1371.4 521.5h0M1499.8 600.8h0M1419.2 602.0h0M1388.8 522.6h0M1384.4 527.8h0M1414.7 598.4h0"/>
<path class="c51" d="M1443.1 479.5h0M1477.0 471.8h0M1501.7 572.3h0M1391.4 508.3h0M1460.5 609.5h0M1517.5 541.8h0M1466.1 610.1h0M1407.1 566.9h0M1517.2 550.6h0M1416.3 499.5h0M1500.1 497.1h0M1390.3 542.0h0M1447.5 477.0h0M1491.3 482.1h0M1413.2 587.7h0M1411.1 590.5h0M1484.1 480.5h0M1406.4 589.3h0M1395.6 540.5h0"/>
<path class="c52" d="M1418.8 579.7h0M1493.7 553.7h0M1460.5 598.9h0M1415.4 577.6h0M1450.7 487.6h0M1508.4 549.9h0M1420.0 584.0h0M1414.4 572.1h0M1469.1 481.2h0M1390.5 515.2h0M1482.4 492.8h0M1462.0 484.5h0"/>
<path class="c53" d="M1424.0 579.3h0M1478.7 490.8h0M1508.5 533.6h0M1451.4 491.1h0M1479.7 586.0h0M1511.1 544.6h0M1427.9 582.6h0M1507.2 537.6h0M1405.5 522.3h0M1405.1 525.6h0M1485.5 596.9h0"/>
<path class="c54" d="M1446.2 492.5h0M1498.1 514.3h0M1495.8 566.5h0M1448.8 497.0h0M1488.5 501.6h0M1479.7 597.4h0M1486.5 580.9h0M1419.7 560.4h0M1488.0 573.2h0M1429.6 500.0h0M1462.7 593.9h0M1465.5 491.6h0M1496.1 558.8h0M1453.8 492.1h0M1487.3 583.4h0"/>
<path class="c55" d="M1464.2 582.1h0M1460.7 585.5h0M1464.3 581.7h0M1499.4 533.2h0M1494.2 510.7h0M1487.1 569.3h0M1505.2 532.6h0M1414.4 513.6h0M1430.8 566.2h0"/>
<path class="c56" d="M1414.6 547.0h0M1429.7 563.9h0M1488.4 539.9h0M1440.4 580.0h0M1436.8 564.4h0M1457.5 497.3h0M1456.6 576.1h0M1502.5 525.7h0M1445.9 596.9h0M1485.3 512.9h0M1448.7 580.6h0M1441.8 499.9h0M1482.6 516.5h0"/>
<path class="c57" d="M1447.8 561.6h0M1448.6 566.1h0M1417.6 554.0h0M1425.0 518.2h0M1458.4 570.0h0M1481.6 562.6h0M1415.1 529.9h0M1432.5 563.7h0M1479.6 504.6h0"/>
<path class="c58" d="M1447.4 505.4h0M1448.3 527.6h0M1441.4 509.2h0M1426.1 520.9h0M1485.3 555.2h0M1459.6 572.5h0M1445.7 584.0h0M1456.5 566.6h0M1440.6 509.6h0M1438.1 557.2h0M1480.4 527.0h0"/>
<path class="c59" d="M1453.0 510.7h0M1473.1 563.2h0M1474.0 562.8h0M1442.1 534.8h0M1445.0 523.1h0M1479.1 525.3h0M1431.6 546.5h0M1462.0 510.0h0M1481.6 543.4h0M1428.1 544.4h0M1445.4 525.0h0M1465.6 562.5h0M1473.0 562.2h0M1442.2 519.2h0M1452.2 525.7h0"/>
<path class="c60" d="M1442.9 548.5h0M1458.4 537.0h0M1459.0 526.6h0M1440.7 531.9h0M1479.2 537.5h0M1458.8 520.3h0M1477.1 549.9h0M1473.5 542.1h0"/>
<path class="c61" d="M1445.8 542.1h0M1458.1 560.4h0M1451.1 536.5h0M1432.4 531.0h0M1464.7 532.6h0M1474.1 552.7h0M1457.3 542.5h0"/>
<path class="c62" d="M1470.8 532.8h0M1474.5 534.0h0"/>
<path class="c62" d="M1476.1 539.1h0M1471.4 538.8h0M1454.8 548.2h0M1473.2 534.7h0M1455.1 553.0h0M1466.1 531.9h0M1462.7 534.6h0M1458.3 546.7h0"/>
<path class="c61" d="M1470.6 545.4h0M1474.2 539.7h0M1463.7 526.6h0M1458.2 541.8h0"/>
<path class="c60" d="M1432.8 528.1h0M1444.0 529.8h0M1440.1 527.4h0M1454.6 521.1h0M1467.2 523.4h0M1441.1 525.0h0M1437.5 526.9h0"/>
<path class="c59" d="M1478.5 520.7h0M1441.7 532.4h0M1430.6 547.1h0M1472.6 518.3h0M1480.8 535.3h0M1449.4 522.2h0M1471.2 512.7h0M1453.9 563.4h0M1426.0 527.7h0M1446.9 522.7h0M1441.1 551.4h0"/>
<path class="c58" d="M1473.8 565.6h0M1436.1 558.1h0M1459.5 566.6h0M1442.3 516.7h0M1415.3 538.9h0M1483.2 537.0h0M1429.8 511.8h0M1462.6 505.9h0"/>
<path class="c57" d="M1482.9 566.8h0M1487.0 508.2h0M1441.2 505.3h0M1439.6 570.3h0M1446.8 503.0h0M1444.4 566.4h0M1487.7 513.6h0M1443.4 562.7h0M1443.8 590.1h0M1432.0 560.9h0M1444.1 590.6h0M1482.6 527.3h0M1441.9 562.4h0"/>
<path class="c56" d="M1431.2 565.5h0M1466.8 498.6h0M1495.8 526.1h0M1437.4 579.5h0M1481.0 506.9h0M1474.2 579.4h0M1447.5 579.1h0M1486.9 506.1h0M1442.3 586.6h0M1502.6 522.5h0M1487.4 526.7h0M1479.0 501.4h0"/>
<path class="c55" d="M1406.8 544.4h0M1410.2 538.9h0M1478.2 499.2h0M1446.0 494.5h0M1467.3 588.2h0M1427.1 566.0h0"/>
<path class="c54" d="M1507.3 523.9h0M1428.6 500.4h0M1495.6 564.8h0M1452.3 495.8h0M1494.0 538.0h0M1500.6 541.1h0M1477.8 588.0h0M1429.3 587.5h0M1495.8 573.1h0M1427.5 502.2h0M1485.8 571.2h0M1480.6 595.2h0M1468.9 490.0h0M1431.8 497.1h0M1494.1 581.2h0M1429.7 576.3h0M1408.7 553.3h0"/>
<path class="c53" d="M1492.5 494.6h0M1492.7 593.6h0M1483.6 586.5h0M1421.2 504.1h0M1427.0 580.0h0M1480.0 599.1h0M1439.1 599.4h0M1402.5 536.1h0M1398.7 539.4h0M1498.3 557.2h0M1468.0 486.7h0"/>
<path class="c52" d="M1413.5 569.4h0M1399.6 517.5h0M1462.9 482.6h0M1513.6 554.1h0M1462.4 486.4h0M1494.4 500.0h0M1486.5 494.3h0M1476.9 600.4h0M1509.6 550.0h0M1442.1 485.6h0M1430.2 594.9h0M1399.5 525.3h0M1460.0 600.5h0M1496.2 501.5h0M1417.8 585.0h0"/>
<path class="c51" d="M1497.8 602.6h0M1386.7 530.1h0M1449.7 476.3h0M1491.7 482.4h0M1463.2 466.5h0M1489.5 604.7h0M1483.9 608.6h0M1400.7 507.5h0M1494.9 600.4h0M1422.0 588.0h0M1475.1 608.8h0M1468.7 611.2h0M1424.6 587.8h0M1470.0 612.5h0M1421.6 594.6h0M1469.4 471.9h0M1437.1 479.1h0M1498.8 595.0h0"/>
<path class="c50" d="M1428.4 599.8h0M1518.8 559.5h0M1431.2 609.4h0M1443.3 474.8h0M1493.1 477.6h0M1450.9 610.5h0M1458.9 465.8h0M1497.1 488.5h0M1383.9 517.7h0M1436.2 610.2h0M1519.3 561.3h0M1476.4 611.5h0M1417.7 604.0h0M1425.3 609.9h0M1419.1 592.4h0M1392.0 500.6h0M1401.4 579.6h0M1454.6 609.8h0M1400.1 500.7h0M1501.5 489.3h0M1444.3 464.0h0M1414.9 493.8h0"/>
<path class="c49" d="M1437.8 618.7h0M1517.3 504.4h0M1501.8 483.5h0M1412.6 604.0h0M1392.2 559.4h0M1481.3 616.1h0M1405.6 603.6h0M1395.5 587.4h0M1421.1 602.1h0M1405.9 492.9h0M1490.6 611.2h0M1437.0 613.1h0M1422.9 490.6h0M1424.2 615.6h0M1455.3 464.6h0M1423.3 608.3h0M1458.9 611.9h0M1383.6 539.1h0M1407.9 606.5h0"/>
<path class="c48" d="M1428.1 481.4h0M1519.3 503.3h0M1503.7 483.3h0M1438.9 617.6h0M1468.5 461.9h0M1438.3 471.0h0M1392.3 583.8h0M1481.4 469.1h0M1517.0 499.9h0"/>
<path class="c47" d="M1505.5 482.3h0M1363.8 523.0h0M1421.9 614.9h0M1478.9 460.9h0M1382.1 544.6h0M1477.3 620.5h0M1502.3 479.6h0M1440.3 461.3h0M1440.2 462.0h0M1523.6 533.9h0M1436.7 467.2h0M1413.1 484.0h0M1439.3 623.7h0M1457.2 617.5h0"/>
<path class="c46" d="M1395.2 607.3h0M1455.1 458.6h0M1366.2 513.8h0M1482.1 620.7h0M1411.0 628.9h0M1511.5 488.8h0M1415.7 477.6h0M1506.0 605.9h0M1516.6 580.8h0M1522.0 513.9h0M1439.9 455.9h0M1421.8 469.9h0M1384.9 589.7h0M1523.8 511.9h0"/>
<path class="c45" d="M1533.2 534.6h0M1401.3 477.1h0M1414.0 631.3h0M1366.0 534.0h0M1416.5 473.0h0M1502.4 459.8h0M1360.4 514.5h0M1369.7 539.1h0M1434.2 456.8h0M1448.2 628.7h0M1493.8 455.8h0M1455.1 450.0h0"/>
<path class="c44" d="M1410.1 472.5h0M1532.8 523.7h0M1536.5 530.8h0M1410.4 473.5h0M1519.4 491.1h0"/>
<path class="c43" d="M1417.5 636.1h0M1354.6 520.6h0M1386.6 611.0h0M1431.4 632.2h0M1522.9 581.5h0M1413.1 637.5h0M1419.5 635.5h0M1384.2 599.5h0M1416.1 631.9h0M1473.8 628.0h0M1509.5 469.3h0M1504.7 613.0h0M1525.2 499.5h0"/>
<path class="c42" d="M1407.1 465.9h0M1541.8 560.2h0M1376.9 589.8h0M1361.3 550.0h0M1367.2 567.5h0M1366.0 494.6h0M1538.9 534.6h0M1541.1 557.9h0M1377.5 593.6h0M1382.5 581.0h0M1478.7 451.1h0"/>
<path class="c41" d="M1459.3 641.7h0M1354.5 507.0h0M1531.5 579.7h0M1364.6 574.0h0M1424.1 639.2h0M1380.9 607.5h0M1540.1 548.0h0M1469.1 440.8h0M1490.4 626.8h0M1520.6 475.0h0M1431.8 641.1h0"/>
<path class="c40" d="M1470.7 443.3h0M1397.4 632.1h0M1406.8 644.3h0M1384.2 474.7h0M1528.5 589.5h0M1355.2 547.6h0M1523.6 472.2h0M1502.0 620.5h0M1373.6 587.8h0M1498.8 447.7h0M1348.0 536.4h0"/>
<path class="c39" d="M1474.8 442.2h0M1529.7 478.9h0M1478.6 637.3h0M1343.2 519.0h0M1380.4 623.5h0M1372.1 600.0h0M1462.9 440.7h0M1504.7 621.9h0M1467.7 638.4h0M1435.9 439.3h0M1533.9 584.0h0"/>
<path class="c38" d="M1361.5 586.2h0M1513.5 614.4h0M1485.3 444.6h0M1543.5 568.8h0M1554.3 529.7h0M1354.0 564.5h0M1352.0 559.6h0M1376.2 615.9h0M1548.1 548.2h0M1537.2 581.5h0M1493.9 633.5h0M1537.5 577.8h0M1461.4 436.3h0M1460.7 435.6h0M1352.3 558.9h0M1350.3 563.2h0"/>
<path class="c37" d="M1526.6 608.1h0M1515.5 456.2h0M1523.9 611.6h0M1533.0 474.2h0M1416.6 443.2h0M1541.9 511.8h0M1343.1 508.8h0M1551.1 522.9h0M1480.2 640.4h0M1349.2 561.1h0M1542.8 492.6h0M1486.2 441.2h0"/>
<path class="c36" d="M1532.7 602.3h0M1343.2 507.8h0M1375.5 473.7h0M1341.0 516.1h0M1338.8 528.8h0M1340.7 508.5h0M1365.8 471.1h0M1502.6 632.3h0"/>
<path class="c35" d="M1499.0 630.4h0M1397.3 647.8h0M1370.4 624.4h0M1534.8 589.1h0M1358.0 603.7h0M1515.3 620.4h0"/>
<path class="c34" d="M1485.7 645.1h0M1531.3 458.8h0M1341.1 590.2h0M1341.3 567.5h0M1428.6 653.4h0M1344.3 589.5h0M1438.5 653.2h0M1526.1 463.2h0M1416.5 432.0h0M1479.8 644.8h0M1553.8 553.7h0M1551.6 509.9h0M1341.7 493.8h0"/>
<path class="c33" d="M1340.3 492.0h0M1393.5 641.6h0M1556.7 559.7h0M1376.8 470.4h0M1333.4 527.8h0M1449.5 431.4h0"/>
<path class="c32" d="M1331.9 558.7h0M1345.3 596.7h0M1477.5 648.0h0M1453.6 428.3h0M1430.0 656.4h0M1550.0 492.1h0"/>
<path class="c31" d="M1537.2 614.0h0M1426.0 658.3h0M1534.1 617.0h0M1555.9 506.8h0M1558.9 510.2h0M1329.7 534.1h0M1381.8 643.3h0M1418.9 425.2h0"/>
<path class="c30" d="M1452.5 656.9h0M1546.7 613.7h0M1561.6 569.8h0M1482.0 425.4h0M1558.9 583.2h0M1390.2 454.3h0M1423.7 419.5h0M1543.0 459.9h0"/>
<path class="c29" d="M1557.1 593.6h0M1440.6 669.7h0M1351.2 609.9h0M1472.7 425.0h0M1538.5 616.9h0M1381.3 453.2h0M1337.7 603.7h0M1465.0 658.3h0M1537.6 448.5h0M1547.0 459.4h0M1442.3 665.2h0"/>
<path class="c28" d="M1324.3 557.9h0M1321.1 546.0h0M1572.5 563.4h0M1328.2 582.0h0M1329.9 489.2h0M1520.5 429.8h0M1554.7 494.8h0M1384.3 442.2h0M1378.4 452.0h0M1544.2 456.8h0M1400.3 434.4h0M1565.6 522.9h0M1537.6 634.7h0"/>
<path class="c27" d="M1574.6 544.8h0M1445.4 677.2h0M1383.2 657.1h0M1575.5 554.9h0M1451.6 418.2h0M1379.1 655.3h0M1410.0 420.9h0"/>
<path class="c26" d="M1315.6 534.8h0M1560.3 480.3h0M1349.6 631.3h0M1396.1 667.8h0M1556.2 454.1h0M1546.5 448.9h0M1323.9 490.1h0M1400.8 668.3h0M1402.1 424.7h0M1504.7 659.2h0M1367.2 646.1h0M1562.6 473.7h0M1395.6 431.4h0M1513.5 657.7h0M1554.5 460.0h0M1328.1 592.3h0M1319.2 575.8h0"/>
<path class="c25" d="M1532.7 420.9h0M1546.8 631.0h0M1542.0 630.4h0M1417.1 408.8h0M1576.4 535.3h0M1351.3 459.3h0M1507.5 664.7h0M1324.2 609.8h0M1571.9 511.5h0M1566.0 467.0h0M1316.9 501.7h0M1333.4 473.4h0"/>
<path class="c24" d="M1373.1 655.9h0M1379.9 438.1h0M1562.4 617.0h0M1533.4 416.9h0M1401.6 416.9h0M1486.1 413.6h0M1572.7 598.4h0M1548.5 635.0h0M1472.5 677.5h0M1542.5 430.6h0M1540.8 659.8h0M1534.9 419.9h0M1477.8 672.2h0M1489.1 411.8h0M1525.0 665.1h0M1333.1 619.9h0M1433.2 680.9h0"/>
<path class="c23" d="M1344.4 630.4h0M1492.8 409.6h0M1554.0 630.6h0M1461.5 409.5h0M1586.0 575.6h0M1311.1 499.2h0M1511.2 672.5h0M1538.4 662.2h0M1582.4 518.4h0"/>
<path class="c22" d="M1579.7 604.5h0M1507.3 402.5h0M1526.0 678.9h0M1585.3 529.2h0M1335.5 455.3h0M1581.0 606.2h0M1390.4 414.5h0M1559.2 441.8h0M1313.7 490.4h0M1321.4 480.4h0M1436.7 401.7h0M1574.9 619.7h0M1574.5 486.5h0"/>
<path class="c21" d="M1497.8 684.0h0M1591.6 555.0h0M1353.3 652.9h0M1418.1 694.1h0M1483.7 401.4h0M1421.2 692.9h0M1398.4 683.2h0M1577.2 481.0h0M1487.1 692.0h0"/>
<path class="c20" d="M1447.0 699.5h0M1578.4 475.1h0M1463.4 398.1h0M1427.9 392.0h0M1521.6 686.3h0M1451.6 395.4h0M1395.3 402.4h0M1369.8 670.3h0M1385.9 677.7h0M1532.2 689.8h0M1587.3 506.6h0M1563.2 433.7h0M1473.3 397.3h0"/>
<path class="c19" d="M1547.2 678.8h0M1566.9 437.4h0M1446.8 396.2h0M1569.1 654.1h0M1553.3 427.2h0M1385.6 687.2h0M1314.2 469.9h0M1490.7 694.2h0M1450.6 703.3h0M1341.6 446.9h0"/>
<path class="c18" d="M1356.0 669.3h0M1596.9 625.8h0M1590.2 463.7h0M1574.1 651.5h0M1600.1 544.2h0M1596.5 502.2h0M1598.7 552.0h0M1353.1 430.8h0M1298.7 521.2h0M1355.4 668.6h0M1331.4 640.0h0"/>
<path class="c17" d="M1306.3 471.5h0M1594.2 484.4h0M1298.3 510.3h0M1439.9 707.4h0M1290.2 546.7h0M1380.8 691.9h0M1293.2 585.1h0M1547.7 690.8h0M1606.3 586.6h0M1479.8 697.9h0M1453.4 385.6h0"/>
<path class="c16" d="M1311.7 455.0h0M1420.0 708.9h0M1599.8 493.3h0M1586.4 645.9h0M1558.4 410.3h0M1605.5 529.8h0M1426.2 707.2h0M1479.8 705.6h0M1315.4 638.4h0M1595.6 482.6h0M1328.7 440.1h0"/>
<path class="c15" d="M1288.5 525.4h0M1469.6 381.9h0M1553.1 693.6h0M1517.4 384.5h0M1419.8 375.4h0M1562.9 684.2h0M1492.7 379.9h0M1493.6 381.7h0"/>
<path class="c14" d="M1416.7 715.0h0M1390.9 380.6h0M1588.2 446.5h0M1528.0 705.8h0M1301.5 637.9h0M1446.5 374.6h0M1439.6 373.4h0M1305.0 449.3h0"/>
<path class="c13" d="M1602.1 465.3h0M1613.6 606.1h0M1608.2 493.5h0M1393.3 372.6h0M1570.5 405.1h0M1611.5 515.8h0M1593.1 653.7h0M1609.6 622.8h0M1385.3 376.3h0M1288.1 483.1h0M1589.9 431.9h0M1284.0 454.7h0M1376.1 377.2h0M1357.7 702.0h0M1336.8 682.4h0M1282.7 578.3h0M1278.0 588.4h0"/>
<path class="c12" d="M1456.2 729.7h0M1340.7 411.4h0M1436.2 367.2h0M1360.4 380.8h0M1620.7 527.8h0M1619.6 607.8h0M1592.5 430.2h0M1275.9 521.3h0M1596.2 436.6h0M1295.3 633.8h0M1331.1 696.1h0M1292.2 449.2h0"/>
<path class="c11" d="M1333.5 409.1h0M1302.3 653.2h0M1379.0 718.0h0M1568.5 717.0h0M1477.0 733.8h0M1277.6 464.6h0M1295.2 650.4h0M1400.1 729.7h0M1279.7 446.2h0M1327.2 689.0h0M1345.5 401.5h0M1378.4 718.3h0"/>
<path class="c10" d="M1626.5 608.9h0M1302.5 427.3h0M1341.3 707.8h0M1276.2 621.0h0M1492.6 349.5h0M1550.3 376.8h0M1315.3 687.9h0M1483.7 724.8h0M1329.2 713.1h0M1440.9 356.6h0"/>
<path class="c9" d="M1599.7 411.2h0M1329.2 402.4h0M1262.8 594.7h0M1412.2 741.3h0M1448.6 353.6h0M1281.0 638.7h0M1341.8 381.2h0M1399.4 355.2h0M1376.4 732.1h0M1303.0 688.2h0M1629.0 636.1h0M1595.7 676.7h0M1543.1 370.6h0"/>
<path class="c8" d="M1397.8 741.0h0M1259.7 553.5h0M1573.7 729.9h0M1587.2 713.7h0M1542.8 735.1h0M1625.4 468.3h0M1262.0 550.8h0M1285.2 426.7h0"/>
<path class="c7" d="M1347.2 355.8h0M1481.6 338.7h0M1254.2 436.2h0M1439.8 346.5h0M1619.5 419.4h0M1470.5 775.9h0M1265.6 431.8h0M1612.0 671.6h0M1583.0 377.3h0M1399.3 745.4h0M1254.5 590.4h0M1579.2 727.9h0"/>
<path class="c6" d="M1305.3 393.6h0M1314.6 363.3h0M1369.7 326.9h0M1358.7 743.9h0M1385.1 332.7h0M1355.6 745.9h0M1314.8 353.6h0M1608.4 384.3h0M1436.1 339.5h0M1615.5 390.6h0M1403.8 758.1h0M1515.4 332.4h0M1647.8 576.7h0M1518.3 324.9h0M1466.9 782.4h0"/>
<path class="c5" d="M1463.8 326.1h0M1314.5 344.2h0M1481.0 783.4h0M1320.4 331.1h0M1661.7 544.6h0M1348.8 324.0h0M1568.7 340.0h0M1300.8 390.4h0M1613.0 740.5h0M1234.1 579.0h0M1655.5 624.4h0M1658.4 510.5h0"/>
<path class="c4" d="M1568.2 762.4h0M1354.9 319.4h0M1402.2 322.8h0M1623.2 389.2h0M1648.4 465.4h0M1219.7 537.0h0M1679.4 530.4h0M1578.0 749.9h0M1561.2 760.2h0M1613.4 359.4h0"/>
<path class="c3" d="M1493.9 304.7h0M1644.9 748.2h0M1535.2 771.9h0M1379.1 806.9h0M1664.3 666.4h0M1690.5 548.2h0M1513.7 297.9h0M1558.9 767.8h0M1373.8 796.6h0M1583.5 328.7h0M1390.0 303.0h0M1690.1 611.8h0M1375.4 795.2h0"/>
<path class="c2" d="M1312.8 759.8h0M1650.0 759.7h0M1439.3 304.1h0M1431.6 801.8h0M1244.1 681.0h0M1383.0 813.5h0M1701.2 605.9h0"/>
<path class="c1" d="M1229.8 773.4h0M1726.8 413.8h0M1232.7 374.8h0M1526.8 210.9h0M1180.3 585.7h0M1209.2 658.2h0M1102.5 494.6h0M1743.8 481.2h0M1632.7 312.9h0M1176.2 620.3h0"/>
<path class="c0" d="M1121.3 752.9h0M1692.2 324.1h0M1798.9 410.6h0M1145.8 568.0h0M1192.3 709.3h0"/>
</g>
<text x="1009.2" y="62.5" font-size="55" text-anchor="middle" fill="#000" xml:space="preserve">facet_wrap( <tspan font-size="63" dx="-2.3" dy="5.2">~</tspan><tspan dx="-2.4" dy="-5.2"> group)</tspan></text>
<g font-size="36.67" fill="#1a1a1a" text-anchor="middle">
<text x="575.2" y="145.8">bar</text>
<text x="1445" y="145.8">foo</text>
</g>
<g font-size="36.67" fill="#4d4d4d" text-anchor="middle">
<text x="188.5" y="988.8">-4</text>
<text x="384.0" y="988.8">-2</text>
<text x="579.5" y="988.8">0</text>
<text x="775.0" y="988.8">2</text>
<text x="970.5" y="988.8">4</text>
<text x="1058.9" y="988.8">-4</text>
<text x="1254.4" y="988.8">-2</text>
<text x="1449.9" y="988.8">0</text>
<text x="1645.4" y="988.8">2</text>
<text x="1840.9" y="988.8">4</text>
</g>
<g font-size="36.67" fill="#4d4d4d" text-anchor="end">
<text x="129.8" y="765.4">-20</text>
<text x="129.8" y="559.2">0</text>
<text x="129.8" y="353.0">20</text>
</g>
<text x="1009" y="1040.8" font-size="45.83" text-anchor="middle" fill="#000">x</text>
<text transform="translate(55,555.6) rotate(-90)" font-size="45.83" text-anchor="middle" fill="#000">y</text>
<g font-size="45.83" fill="#000">
<text x="1937" y="356.3">relative</text>
<text x="1937" y="405.1">density</text>
</g>
<rect x="1937.1" y="432.9" width="72.0" height="359.9" fill="url(#vg)"/>
<g stroke="#fff" stroke-width="1.56" fill="none">
<path d="M1937.1 433.50h14.4M2009.1 433.50h-14.4"/>
<path d="M1937.1 523.30h14.4M2009.1 523.30h-14.4"/>
<path d="M1937.1 613.05h14.4M2009.1 613.05h-14.4"/>
<path d="M1937.1 702.80h14.4M2009.1 702.80h-14.4"/>
</g>
<g font-size="36.67" fill="#000">
<text x="2032" y="446.4">1.00</text>
<text x="2032" y="536.2">0.75</text>
<text x="2032" y="625.9">0.50</text>
<text x="2032" y="715.7">0.25</text>
</g>
</svg>
</body></html>
